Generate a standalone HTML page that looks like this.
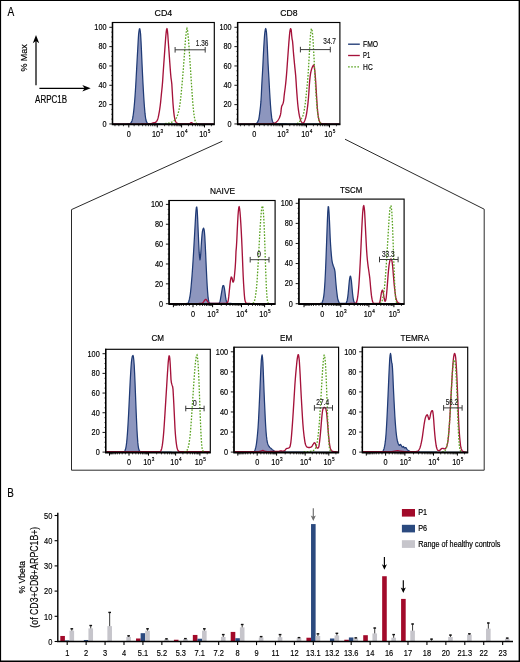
<!DOCTYPE html>
<html><head><meta charset="utf-8"><title>Figure</title>
<style>html,body{margin:0;padding:0;background:#fff}svg{display:block;will-change:transform}text{font-family:"Liberation Sans",sans-serif}</style>
</head><body>
<svg width="520" height="662" viewBox="0 0 520 662">
<rect x="0" y="0" width="520" height="662" fill="#000"/><rect x="1.1" y="1" width="517.5" height="659.5" fill="#fff"/>
<text transform="translate(7.50,16.10) scale(0.79,1)" font-size="12.8" text-anchor="start" fill="#000" stroke="#000" stroke-width="0.18">A</text>
<text transform="translate(7.35,497.30) scale(0.76,1)" font-size="13" text-anchor="start" fill="#000" stroke="#000" stroke-width="0.18">B</text>
<path d="M36,85.2 V40" stroke="#000" stroke-width="1.25" fill="none"/>
<path d="M36,35 L39.2,43.2 L36,41 L32.8,43.2 Z" fill="#000"/>
<path d="M39.4,88.3 H85" stroke="#000" stroke-width="1.25" fill="none"/>
<path d="M90.7,88.3 L82.3,85 L84.6,88.3 L82.3,91.6 Z" fill="#000"/>
<text transform="translate(27.20,57.90) rotate(-90) scale(0.9852,1)" font-size="9.1" text-anchor="middle" fill="#000" stroke="#000" stroke-width="0.18">% Max</text>
<text transform="translate(35.10,102.90) scale(0.7544,1)" font-size="10.6" text-anchor="start" fill="#000" stroke="#000" stroke-width="0.18">ARPC1B</text>
<path d="M222.3,141.2 L71.5,209.6 V470.2 H484.2 V209.2 L345,139.2" fill="none" stroke="#2a2a2a" stroke-width="1"/>
<clipPath id="c1"><rect x="112.5" y="22.5" width="101.80000000000001" height="102.05"/></clipPath>
<g clip-path="url(#c1)">
<path d="M113.00,124.20 L113.40,124.20 L113.80,124.20 L114.20,124.20 L114.60,124.20 L115.00,124.20 L115.40,124.20 L115.80,124.20 L116.20,124.19 L116.60,124.19 L117.00,124.19 L117.40,124.19 L117.80,124.18 L118.20,124.18 L118.60,124.18 L119.00,124.17 L119.40,124.17 L119.80,124.16 L120.20,124.16 L120.60,124.15 L121.00,124.15 L121.40,124.14 L121.80,124.13 L122.20,124.12 L122.60,124.12 L123.00,124.11 L123.40,124.10 L123.80,124.09 L124.20,124.08 L124.60,124.06 L125.00,124.05 L125.40,124.04 L125.80,124.03 L126.20,124.01 L126.60,124.00 L127.00,123.98 L127.40,123.96 L127.80,123.95 L128.20,123.93 L128.60,123.91 L129.00,123.89 L129.40,123.87 L129.80,123.79 L130.20,123.55 L130.60,123.21 L131.00,122.78 L131.40,122.23 L131.80,121.36 L132.20,120.19 L132.60,118.70 L133.00,116.47 L133.40,113.68 L133.80,110.39 L134.20,106.33 L134.60,101.77 L135.00,96.58 L135.40,90.74 L135.80,84.32 L136.20,77.07 L136.60,69.63 L137.00,62.34 L137.40,55.06 L137.80,48.07 L138.20,40.63 L138.60,34.36 L139.00,31.01 L139.40,28.84 L139.80,28.73 L140.20,30.76 L140.60,34.13 L141.00,41.15 L141.40,49.38 L141.80,58.49 L142.20,67.52 L142.60,75.89 L143.00,83.80 L143.40,91.02 L143.80,97.74 L144.20,103.69 L144.60,108.87 L145.00,113.44 L145.40,116.75 L145.80,119.25 L146.20,121.05 L146.60,121.93 L147.00,122.54 L147.40,123.00 L147.80,123.31 L148.20,123.48 L148.60,123.61 L149.00,123.71 L149.40,123.79 L149.80,123.84 L150.20,123.87 L150.60,123.87 L151.00,123.88 L151.40,123.88 L151.80,123.89 L152.20,123.89 L152.60,123.90 L153.00,123.90 L153.40,123.91 L153.80,123.92 L154.20,123.92 L154.60,123.93 L155.00,123.93 L155.40,123.94 L155.80,123.94 L156.20,123.95 L156.60,123.95 L157.00,123.96 L157.40,123.96 L157.80,123.96 L158.20,123.97 L158.60,123.97 L159.00,123.98 L159.40,123.98 L159.80,123.99 L160.20,123.99 L160.60,124.00 L161.00,124.00 L161.40,124.00 L161.80,124.01 L162.20,124.01 L162.60,124.02 L163.00,124.02 L163.40,124.02 L163.80,124.03 L164.20,124.03 L164.60,124.03 L165.00,124.04 L165.40,124.04 L165.80,124.05 L166.20,124.05 L166.60,124.05 L167.00,124.06 L167.40,124.06 L167.80,124.06 L168.20,124.07 L168.60,124.07 L169.00,124.07 L169.40,124.07 L169.80,124.08 L170.20,124.08 L170.60,124.08 L171.00,124.09 L171.40,124.09 L171.80,124.09 L172.20,124.09 L172.60,124.10 L173.00,124.10 L173.40,124.10 L173.80,124.11 L174.20,124.11 L174.60,124.11 L175.00,124.11 L175.40,124.12 L175.80,124.12 L176.20,124.12 L176.60,124.12 L177.00,124.12 L177.40,124.13 L177.80,124.13 L178.20,124.13 L178.60,124.13 L179.00,124.13 L179.40,124.14 L179.80,124.14 L180.20,124.14 L180.60,124.14 L181.00,124.14 L181.40,124.15 L181.80,124.15 L182.20,124.15 L182.60,124.15 L183.00,124.15 L183.40,124.15 L183.80,124.16 L184.20,124.16 L184.60,124.16 L185.00,124.16 L185.40,124.16 L185.80,124.16 L186.20,124.16 L186.60,124.17 L187.00,124.17 L187.40,124.17 L187.80,124.17 L188.20,124.17 L188.60,124.17 L189.00,124.17 L189.40,124.17 L189.80,124.18 L190.20,124.18 L190.60,124.18 L191.00,124.18 L191.40,124.18 L191.80,124.18 L192.20,124.18 L192.60,124.18 L193.00,124.18 L193.40,124.18 L193.80,124.18 L194.20,124.19 L194.60,124.19 L195.00,124.19 L195.40,124.19 L195.80,124.19 L196.20,124.19 L196.60,124.19 L197.00,124.19 L197.40,124.19 L197.80,124.19 L198.20,124.19 L198.60,124.19 L199.00,124.19 L199.40,124.19 L199.80,124.19 L200.20,124.19 L200.60,124.19 L201.00,124.19 L201.40,124.20 L201.80,124.20 L202.20,124.20 L202.60,124.20 L203.00,124.20 L203.40,124.20 L203.80,124.20 L204.20,124.20 L204.60,124.20 L205.00,124.20 L205.40,124.20 L205.80,124.20 L206.20,124.20 L206.60,124.20 L207.00,124.20 L207.40,124.20 L207.80,124.20 L208.20,124.20 L208.60,124.20 L209.00,124.20 L209.40,124.20 L209.80,124.20 L210.20,124.20 L210.60,124.20 L211.00,124.20 L211.40,124.20 L211.80,124.20 L212.20,124.20 L212.60,124.20 L213.00,124.20 L213.40,124.20 L213.80,124.20 L213.80,123.95 L113.00,123.95 Z" fill="#8D96BE" stroke="none"/>
<path d="M113.00,124.20 L113.40,124.20 L113.80,124.20 L114.20,124.20 L114.60,124.20 L115.00,124.20 L115.40,124.20 L115.80,124.20 L116.20,124.19 L116.60,124.19 L117.00,124.19 L117.40,124.19 L117.80,124.18 L118.20,124.18 L118.60,124.18 L119.00,124.17 L119.40,124.17 L119.80,124.16 L120.20,124.16 L120.60,124.15 L121.00,124.15 L121.40,124.14 L121.80,124.13 L122.20,124.12 L122.60,124.12 L123.00,124.11 L123.40,124.10 L123.80,124.09 L124.20,124.08 L124.60,124.06 L125.00,124.05 L125.40,124.04 L125.80,124.03 L126.20,124.01 L126.60,124.00 L127.00,123.98 L127.40,123.96 L127.80,123.95 L128.20,123.93 L128.60,123.91 L129.00,123.89 L129.40,123.87 L129.80,123.79 L130.20,123.55 L130.60,123.21 L131.00,122.78 L131.40,122.23 L131.80,121.36 L132.20,120.19 L132.60,118.70 L133.00,116.47 L133.40,113.68 L133.80,110.39 L134.20,106.33 L134.60,101.77 L135.00,96.58 L135.40,90.74 L135.80,84.32 L136.20,77.07 L136.60,69.63 L137.00,62.34 L137.40,55.06 L137.80,48.07 L138.20,40.63 L138.60,34.36 L139.00,31.01 L139.40,28.84 L139.80,28.73 L140.20,30.76 L140.60,34.13 L141.00,41.15 L141.40,49.38 L141.80,58.49 L142.20,67.52 L142.60,75.89 L143.00,83.80 L143.40,91.02 L143.80,97.74 L144.20,103.69 L144.60,108.87 L145.00,113.44 L145.40,116.75 L145.80,119.25 L146.20,121.05 L146.60,121.93 L147.00,122.54 L147.40,123.00 L147.80,123.31 L148.20,123.48 L148.60,123.61 L149.00,123.71 L149.40,123.79 L149.80,123.84 L150.20,123.87 L150.60,123.87 L151.00,123.88 L151.40,123.88 L151.80,123.89 L152.20,123.89 L152.60,123.90 L153.00,123.90 L153.40,123.91 L153.80,123.92 L154.20,123.92 L154.60,123.93 L155.00,123.93 L155.40,123.94 L155.80,123.94 L156.20,123.95 L156.60,123.95 L157.00,123.96 L157.40,123.96 L157.80,123.96 L158.20,123.97 L158.60,123.97 L159.00,123.98 L159.40,123.98 L159.80,123.99 L160.20,123.99 L160.60,124.00 L161.00,124.00 L161.40,124.00 L161.80,124.01 L162.20,124.01 L162.60,124.02 L163.00,124.02 L163.40,124.02 L163.80,124.03 L164.20,124.03 L164.60,124.03 L165.00,124.04 L165.40,124.04 L165.80,124.05 L166.20,124.05 L166.60,124.05 L167.00,124.06 L167.40,124.06 L167.80,124.06 L168.20,124.07 L168.60,124.07 L169.00,124.07 L169.40,124.07 L169.80,124.08 L170.20,124.08 L170.60,124.08 L171.00,124.09 L171.40,124.09 L171.80,124.09 L172.20,124.09 L172.60,124.10 L173.00,124.10 L173.40,124.10 L173.80,124.11 L174.20,124.11 L174.60,124.11 L175.00,124.11 L175.40,124.12 L175.80,124.12 L176.20,124.12 L176.60,124.12 L177.00,124.12 L177.40,124.13 L177.80,124.13 L178.20,124.13 L178.60,124.13 L179.00,124.13 L179.40,124.14 L179.80,124.14 L180.20,124.14 L180.60,124.14 L181.00,124.14 L181.40,124.15 L181.80,124.15 L182.20,124.15 L182.60,124.15 L183.00,124.15 L183.40,124.15 L183.80,124.16 L184.20,124.16 L184.60,124.16 L185.00,124.16 L185.40,124.16 L185.80,124.16 L186.20,124.16 L186.60,124.17 L187.00,124.17 L187.40,124.17 L187.80,124.17 L188.20,124.17 L188.60,124.17 L189.00,124.17 L189.40,124.17 L189.80,124.18 L190.20,124.18 L190.60,124.18 L191.00,124.18 L191.40,124.18 L191.80,124.18 L192.20,124.18 L192.60,124.18 L193.00,124.18 L193.40,124.18 L193.80,124.18 L194.20,124.19 L194.60,124.19 L195.00,124.19 L195.40,124.19 L195.80,124.19 L196.20,124.19 L196.60,124.19 L197.00,124.19 L197.40,124.19 L197.80,124.19 L198.20,124.19 L198.60,124.19 L199.00,124.19 L199.40,124.19 L199.80,124.19 L200.20,124.19 L200.60,124.19 L201.00,124.19 L201.40,124.20 L201.80,124.20 L202.20,124.20 L202.60,124.20 L203.00,124.20 L203.40,124.20 L203.80,124.20 L204.20,124.20 L204.60,124.20 L205.00,124.20 L205.40,124.20 L205.80,124.20 L206.20,124.20 L206.60,124.20 L207.00,124.20 L207.40,124.20 L207.80,124.20 L208.20,124.20 L208.60,124.20 L209.00,124.20 L209.40,124.20 L209.80,124.20 L210.20,124.20 L210.60,124.20 L211.00,124.20 L211.40,124.20 L211.80,124.20 L212.20,124.20 L212.60,124.20 L213.00,124.20 L213.40,124.20 L213.80,124.20" fill="none" stroke="#1F3A75" stroke-width="1.25" stroke-linejoin="round"/>
<path d="M113.00,124.20 L113.40,124.20 L113.80,124.20 L114.20,124.20 L114.60,124.20 L115.00,124.20 L115.40,124.20 L115.80,124.20 L116.20,124.20 L116.60,124.20 L117.00,124.20 L117.40,124.20 L117.80,124.20 L118.20,124.20 L118.60,124.20 L119.00,124.20 L119.40,124.20 L119.80,124.19 L120.20,124.19 L120.60,124.19 L121.00,124.19 L121.40,124.19 L121.80,124.19 L122.20,124.19 L122.60,124.19 L123.00,124.19 L123.40,124.19 L123.80,124.18 L124.20,124.18 L124.60,124.18 L125.00,124.18 L125.40,124.18 L125.80,124.18 L126.20,124.18 L126.60,124.17 L127.00,124.17 L127.40,124.17 L127.80,124.17 L128.20,124.17 L128.60,124.16 L129.00,124.16 L129.40,124.16 L129.80,124.16 L130.20,124.15 L130.60,124.15 L131.00,124.15 L131.40,124.15 L131.80,124.14 L132.20,124.14 L132.60,124.14 L133.00,124.13 L133.40,124.13 L133.80,124.13 L134.20,124.12 L134.60,124.12 L135.00,124.11 L135.40,124.11 L135.80,124.11 L136.20,124.10 L136.60,124.10 L137.00,124.09 L137.40,124.09 L137.80,124.08 L138.20,124.08 L138.60,124.07 L139.00,124.07 L139.40,124.06 L139.80,124.06 L140.20,124.05 L140.60,124.05 L141.00,124.04 L141.40,124.04 L141.80,124.03 L142.20,124.02 L142.60,124.02 L143.00,124.01 L143.40,124.00 L143.80,124.00 L144.20,123.99 L144.60,123.98 L145.00,123.97 L145.40,123.97 L145.80,123.96 L146.20,123.95 L146.60,123.94 L147.00,123.94 L147.40,123.93 L147.80,123.92 L148.20,123.91 L148.60,123.90 L149.00,123.89 L149.40,123.88 L149.80,123.87 L150.20,123.87 L150.60,123.82 L151.00,123.72 L151.40,123.58 L151.80,123.42 L152.20,123.24 L152.60,123.07 L153.00,122.92 L153.40,122.80 L153.80,122.72 L154.20,122.66 L154.60,122.60 L155.00,122.52 L155.40,122.41 L155.80,122.21 L156.20,121.83 L156.60,121.29 L157.00,120.62 L157.40,119.84 L157.80,118.89 L158.20,117.42 L158.60,115.55 L159.00,113.48 L159.40,111.26 L159.80,108.69 L160.20,105.77 L160.60,102.36 L161.00,98.26 L161.40,94.08 L161.80,90.27 L162.20,86.39 L162.60,81.66 L163.00,75.53 L163.40,69.44 L163.80,63.81 L164.20,58.27 L164.60,52.61 L165.00,46.84 L165.40,41.44 L165.80,36.36 L166.20,32.15 L166.60,29.43 L167.00,28.57 L167.40,30.63 L167.80,34.56 L168.20,40.46 L168.60,45.93 L169.00,51.46 L169.40,57.11 L169.80,62.78 L170.20,68.19 L170.60,73.51 L171.00,77.79 L171.40,80.51 L171.80,83.80 L172.20,90.45 L172.60,97.20 L173.00,103.48 L173.40,108.40 L173.80,112.42 L174.20,115.59 L174.60,117.88 L175.00,119.81 L175.40,121.18 L175.80,121.87 L176.20,122.39 L176.60,122.81 L177.00,123.13 L177.40,123.34 L177.80,123.47 L178.20,123.56 L178.60,123.64 L179.00,123.71 L179.40,123.77 L179.80,123.81 L180.20,123.84 L180.60,123.86 L181.00,123.87 L181.40,123.87 L181.80,123.87 L182.20,123.87 L182.60,123.87 L183.00,123.87 L183.40,123.87 L183.80,123.87 L184.20,123.87 L184.60,123.87 L185.00,123.87 L185.40,123.87 L185.80,123.87 L186.20,123.87 L186.60,123.87 L187.00,123.87 L187.40,123.87 L187.80,123.87 L188.20,123.87 L188.60,123.87 L189.00,123.87 L189.40,123.86 L189.80,123.70 L190.20,123.40 L190.60,123.04 L191.00,122.74 L191.40,122.60 L191.80,122.69 L192.20,122.96 L192.60,123.31 L193.00,123.63 L193.40,123.84 L193.80,123.88 L194.20,123.89 L194.60,123.91 L195.00,123.92 L195.40,123.94 L195.80,123.95 L196.20,123.97 L196.60,123.98 L197.00,123.99 L197.40,124.01 L197.80,124.02 L198.20,124.03 L198.60,124.04 L199.00,124.05 L199.40,124.06 L199.80,124.07 L200.20,124.08 L200.60,124.09 L201.00,124.10 L201.40,124.10 L201.80,124.11 L202.20,124.12 L202.60,124.13 L203.00,124.13 L203.40,124.14 L203.80,124.14 L204.20,124.15 L204.60,124.15 L205.00,124.16 L205.40,124.16 L205.80,124.17 L206.20,124.17 L206.60,124.17 L207.00,124.18 L207.40,124.18 L207.80,124.18 L208.20,124.19 L208.60,124.19 L209.00,124.19 L209.40,124.19 L209.80,124.19 L210.20,124.19 L210.60,124.20 L211.00,124.20 L211.40,124.20 L211.80,124.20 L212.20,124.20 L212.60,124.20 L213.00,124.20 L213.40,124.20 L213.80,124.20" fill="none" stroke="#A5123A" stroke-width="1.35" stroke-linejoin="round"/>
<path d="M165.00,123.61 L165.40,123.57 L165.80,123.52 L166.20,123.48 L166.60,123.42 L167.00,123.37 L167.40,123.31 L167.80,123.25 L168.20,123.19 L168.60,123.13 L169.00,123.06 L169.40,122.99 L169.80,122.89 L170.20,122.78 L170.60,122.64 L171.00,122.48 L171.40,122.30 L171.80,122.11 L172.20,121.89 L172.60,121.66 L173.00,121.42 L173.40,121.16 L173.80,120.87 L174.20,120.53 L174.60,120.15 L175.00,119.70 L175.40,119.21 L175.80,118.65 L176.20,118.04 L176.60,117.37 L177.00,116.58 L177.40,115.59 L177.80,114.42 L178.20,113.08 L178.60,111.57 L179.00,109.83 L179.40,107.66 L179.80,105.09 L180.20,102.23 L180.60,99.11 L181.00,95.40 L181.40,91.25 L181.80,86.91 L182.20,82.53 L182.60,77.94 L183.00,73.14 L183.40,68.13 L183.80,62.81 L184.20,57.37 L184.60,51.94 L185.00,46.08 L185.40,40.53 L185.80,36.30 L186.20,32.65 L186.60,29.69 L187.00,28.46 L187.40,29.66 L187.80,32.61 L188.20,36.29 L188.60,40.76 L189.00,46.74 L189.40,52.79 L189.80,58.73 L190.20,64.78 L190.60,70.83 L191.00,76.90 L191.40,82.99 L191.80,88.88 L192.20,94.61 L192.60,100.26 L193.00,105.28 L193.40,109.40 L193.80,113.08 L194.20,116.10 L194.60,118.32 L195.00,120.19 L195.40,121.60 L195.80,122.35 L196.20,122.85 L196.60,123.26 L197.00,123.58" fill="none" stroke="#58A21F" stroke-width="1.3" stroke-dasharray="1.6,1.5"/>
</g>
<rect x="112.5" y="22.5" width="101.80000000000001" height="101.45" fill="none" stroke="#000" stroke-width="1.15"/>
<path d="M112.5,22.0 V124.55 H214.8" fill="none" stroke="#000" stroke-width="1.4"/>
<line x1="109.3" x2="112.5" y1="123.95" y2="123.95" stroke="#000" stroke-width="0.9"/>
<text transform="translate(106.50,126.80) scale(0.86,1)" font-size="8.5" text-anchor="end" fill="#000" stroke="#000" stroke-width="0.18">0</text>
<line x1="111.0" x2="112.5" y1="119.12" y2="119.12" stroke="#000" stroke-width="0.5"/>
<line x1="111.0" x2="112.5" y1="114.28" y2="114.28" stroke="#000" stroke-width="0.5"/>
<line x1="111.0" x2="112.5" y1="109.45" y2="109.45" stroke="#000" stroke-width="0.5"/>
<line x1="109.3" x2="112.5" y1="104.62" y2="104.62" stroke="#000" stroke-width="0.9"/>
<text transform="translate(106.50,107.47) scale(0.86,1)" font-size="8.5" text-anchor="end" fill="#000" stroke="#000" stroke-width="0.18">20</text>
<line x1="111.0" x2="112.5" y1="99.79" y2="99.79" stroke="#000" stroke-width="0.5"/>
<line x1="111.0" x2="112.5" y1="94.95" y2="94.95" stroke="#000" stroke-width="0.5"/>
<line x1="111.0" x2="112.5" y1="90.12" y2="90.12" stroke="#000" stroke-width="0.5"/>
<line x1="109.3" x2="112.5" y1="85.29" y2="85.29" stroke="#000" stroke-width="0.9"/>
<text transform="translate(106.50,88.14) scale(0.86,1)" font-size="8.5" text-anchor="end" fill="#000" stroke="#000" stroke-width="0.18">40</text>
<line x1="111.0" x2="112.5" y1="80.46" y2="80.46" stroke="#000" stroke-width="0.5"/>
<line x1="111.0" x2="112.5" y1="75.62" y2="75.62" stroke="#000" stroke-width="0.5"/>
<line x1="111.0" x2="112.5" y1="70.79" y2="70.79" stroke="#000" stroke-width="0.5"/>
<line x1="109.3" x2="112.5" y1="65.96" y2="65.96" stroke="#000" stroke-width="0.9"/>
<text transform="translate(106.50,68.81) scale(0.86,1)" font-size="8.5" text-anchor="end" fill="#000" stroke="#000" stroke-width="0.18">60</text>
<line x1="111.0" x2="112.5" y1="61.13" y2="61.13" stroke="#000" stroke-width="0.5"/>
<line x1="111.0" x2="112.5" y1="56.30" y2="56.30" stroke="#000" stroke-width="0.5"/>
<line x1="111.0" x2="112.5" y1="51.46" y2="51.46" stroke="#000" stroke-width="0.5"/>
<line x1="109.3" x2="112.5" y1="46.63" y2="46.63" stroke="#000" stroke-width="0.9"/>
<text transform="translate(106.50,49.48) scale(0.86,1)" font-size="8.5" text-anchor="end" fill="#000" stroke="#000" stroke-width="0.18">80</text>
<line x1="111.0" x2="112.5" y1="41.80" y2="41.80" stroke="#000" stroke-width="0.5"/>
<line x1="111.0" x2="112.5" y1="36.97" y2="36.97" stroke="#000" stroke-width="0.5"/>
<line x1="111.0" x2="112.5" y1="32.13" y2="32.13" stroke="#000" stroke-width="0.5"/>
<line x1="109.3" x2="112.5" y1="27.30" y2="27.30" stroke="#000" stroke-width="0.9"/>
<text transform="translate(106.50,30.15) scale(0.86,1)" font-size="8.5" text-anchor="end" fill="#000" stroke="#000" stroke-width="0.18">100</text>
<line x1="128.80" x2="128.80" y1="123.95" y2="127.45" stroke="#000" stroke-width="1.0"/>
<line x1="157.30" x2="157.30" y1="123.95" y2="127.45" stroke="#000" stroke-width="1.0"/>
<line x1="181.60" x2="181.60" y1="123.95" y2="127.45" stroke="#000" stroke-width="1.0"/>
<line x1="204.50" x2="204.50" y1="123.95" y2="127.45" stroke="#000" stroke-width="1.0"/>
<line x1="134.11" x2="134.11" y1="123.95" y2="126.25" stroke="#000" stroke-width="0.75"/>
<line x1="123.49" x2="123.49" y1="123.95" y2="126.25" stroke="#000" stroke-width="0.75"/>
<line x1="138.77" x2="138.77" y1="123.95" y2="126.25" stroke="#000" stroke-width="0.75"/>
<line x1="118.83" x2="118.83" y1="123.95" y2="126.25" stroke="#000" stroke-width="0.75"/>
<line x1="142.62" x2="142.62" y1="123.95" y2="126.25" stroke="#000" stroke-width="0.75"/>
<line x1="114.98" x2="114.98" y1="123.95" y2="126.25" stroke="#000" stroke-width="0.75"/>
<line x1="145.79" x2="145.79" y1="123.95" y2="126.25" stroke="#000" stroke-width="0.75"/>
<line x1="148.44" x2="148.44" y1="123.95" y2="126.25" stroke="#000" stroke-width="0.75"/>
<line x1="150.70" x2="150.70" y1="123.95" y2="126.25" stroke="#000" stroke-width="0.75"/>
<line x1="152.65" x2="152.65" y1="123.95" y2="126.25" stroke="#000" stroke-width="0.75"/>
<line x1="154.38" x2="154.38" y1="123.95" y2="126.25" stroke="#000" stroke-width="0.75"/>
<line x1="155.91" x2="155.91" y1="123.95" y2="126.25" stroke="#000" stroke-width="0.75"/>
<line x1="164.62" x2="164.62" y1="123.95" y2="126.25" stroke="#000" stroke-width="0.75"/>
<line x1="188.49" x2="188.49" y1="123.95" y2="126.25" stroke="#000" stroke-width="0.75"/>
<line x1="211.39" x2="211.39" y1="123.95" y2="126.25" stroke="#000" stroke-width="0.75"/>
<line x1="168.89" x2="168.89" y1="123.95" y2="126.25" stroke="#000" stroke-width="0.75"/>
<line x1="192.53" x2="192.53" y1="123.95" y2="126.25" stroke="#000" stroke-width="0.75"/>
<line x1="171.93" x2="171.93" y1="123.95" y2="126.25" stroke="#000" stroke-width="0.75"/>
<line x1="195.39" x2="195.39" y1="123.95" y2="126.25" stroke="#000" stroke-width="0.75"/>
<line x1="174.28" x2="174.28" y1="123.95" y2="126.25" stroke="#000" stroke-width="0.75"/>
<line x1="197.61" x2="197.61" y1="123.95" y2="126.25" stroke="#000" stroke-width="0.75"/>
<line x1="176.21" x2="176.21" y1="123.95" y2="126.25" stroke="#000" stroke-width="0.75"/>
<line x1="199.42" x2="199.42" y1="123.95" y2="126.25" stroke="#000" stroke-width="0.75"/>
<line x1="177.84" x2="177.84" y1="123.95" y2="126.25" stroke="#000" stroke-width="0.75"/>
<line x1="200.95" x2="200.95" y1="123.95" y2="126.25" stroke="#000" stroke-width="0.75"/>
<line x1="179.25" x2="179.25" y1="123.95" y2="126.25" stroke="#000" stroke-width="0.75"/>
<line x1="202.28" x2="202.28" y1="123.95" y2="126.25" stroke="#000" stroke-width="0.75"/>
<line x1="180.49" x2="180.49" y1="123.95" y2="126.25" stroke="#000" stroke-width="0.75"/>
<line x1="203.45" x2="203.45" y1="123.95" y2="126.25" stroke="#000" stroke-width="0.75"/>
<text transform="translate(128.80,136.75) scale(0.86,1)" font-size="8.5" text-anchor="middle" fill="#000" stroke="#000" stroke-width="0.18">0</text>
<text transform="translate(156.10,136.75) scale(0.86,1)" font-size="8.5" text-anchor="middle" fill="#000" stroke="#000" stroke-width="0.18">10</text>
<text transform="translate(160.60,133.15) scale(0.9,1)" font-size="5.2" text-anchor="start" fill="#000" stroke="#000" stroke-width="0.18">3</text>
<text transform="translate(180.40,136.75) scale(0.86,1)" font-size="8.5" text-anchor="middle" fill="#000" stroke="#000" stroke-width="0.18">10</text>
<text transform="translate(184.90,133.15) scale(0.9,1)" font-size="5.2" text-anchor="start" fill="#000" stroke="#000" stroke-width="0.18">4</text>
<text transform="translate(203.30,136.75) scale(0.86,1)" font-size="8.5" text-anchor="middle" fill="#000" stroke="#000" stroke-width="0.18">10</text>
<text transform="translate(207.80,133.15) scale(0.9,1)" font-size="5.2" text-anchor="start" fill="#000" stroke="#000" stroke-width="0.18">5</text>
<text transform="translate(163.35,16.10) scale(0.9216,1)" font-size="9.6" text-anchor="middle" fill="#000" stroke="#000" stroke-width="0.18">CD4</text>
<path d="M175.1,49.8 H205.2 M175.1,47.0 V52.599999999999994 M205.2,47.0 V52.599999999999994" stroke="#3a3a3a" stroke-width="1" fill="none"/>
<text transform="translate(202.15,45.70) scale(0.7862,1)" font-size="8.3" text-anchor="middle" fill="#222" stroke="#222" stroke-width="0.18">1.36</text>
<clipPath id="c2"><rect x="237.6" y="22.5" width="102.29999999999998" height="102.05"/></clipPath>
<g clip-path="url(#c2)">
<path d="M238.10,124.20 L238.50,124.20 L238.90,124.20 L239.30,124.20 L239.70,124.20 L240.10,124.20 L240.50,124.20 L240.90,124.20 L241.30,124.19 L241.70,124.19 L242.10,124.19 L242.50,124.19 L242.90,124.18 L243.30,124.18 L243.70,124.18 L244.10,124.17 L244.50,124.17 L244.90,124.16 L245.30,124.16 L245.70,124.15 L246.10,124.15 L246.50,124.14 L246.90,124.13 L247.30,124.13 L247.70,124.12 L248.10,124.11 L248.50,124.10 L248.90,124.09 L249.30,124.08 L249.70,124.07 L250.10,124.06 L250.50,124.05 L250.90,124.04 L251.30,124.02 L251.70,124.01 L252.10,124.00 L252.50,123.98 L252.90,123.96 L253.30,123.95 L253.70,123.93 L254.10,123.91 L254.50,123.89 L254.90,123.88 L255.30,123.84 L255.70,123.72 L256.10,123.51 L256.50,123.23 L256.90,122.89 L257.30,122.50 L257.70,121.93 L258.10,121.10 L258.50,120.03 L258.90,118.57 L259.30,116.14 L259.70,113.08 L260.10,109.84 L260.50,106.30 L260.90,101.93 L261.30,95.50 L261.70,86.80 L262.10,79.27 L262.50,72.44 L262.90,64.96 L263.30,56.53 L263.70,48.68 L264.10,42.00 L264.50,36.04 L264.90,32.16 L265.30,29.54 L265.70,28.47 L266.10,29.78 L266.50,32.54 L266.90,37.99 L267.30,46.16 L267.70,55.34 L268.10,64.26 L268.50,71.25 L268.90,78.08 L269.30,85.50 L269.70,92.78 L270.10,99.25 L270.50,105.31 L270.90,110.33 L271.30,114.25 L271.70,117.67 L272.10,120.03 L272.50,121.16 L272.90,122.02 L273.30,122.69 L273.70,123.16 L274.10,123.43 L274.50,123.56 L274.90,123.68 L275.30,123.77 L275.70,123.83 L276.10,123.86 L276.50,123.87 L276.90,123.87 L277.30,123.88 L277.70,123.89 L278.10,123.89 L278.50,123.90 L278.90,123.90 L279.30,123.91 L279.70,123.91 L280.10,123.92 L280.50,123.92 L280.90,123.93 L281.30,123.93 L281.70,123.94 L282.10,123.94 L282.50,123.95 L282.90,123.95 L283.30,123.96 L283.70,123.96 L284.10,123.97 L284.50,123.97 L284.90,123.98 L285.30,123.98 L285.70,123.99 L286.10,123.99 L286.50,123.99 L286.90,124.00 L287.30,124.00 L287.70,124.01 L288.10,124.01 L288.50,124.01 L288.90,124.02 L289.30,124.02 L289.70,124.03 L290.10,124.03 L290.50,124.03 L290.90,124.04 L291.30,124.04 L291.70,124.04 L292.10,124.05 L292.50,124.05 L292.90,124.06 L293.30,124.06 L293.70,124.06 L294.10,124.07 L294.50,124.07 L294.90,124.07 L295.30,124.07 L295.70,124.08 L296.10,124.08 L296.50,124.08 L296.90,124.09 L297.30,124.09 L297.70,124.09 L298.10,124.09 L298.50,124.10 L298.90,124.10 L299.30,124.10 L299.70,124.11 L300.10,124.11 L300.50,124.11 L300.90,124.11 L301.30,124.12 L301.70,124.12 L302.10,124.12 L302.50,124.12 L302.90,124.12 L303.30,124.13 L303.70,124.13 L304.10,124.13 L304.50,124.13 L304.90,124.13 L305.30,124.14 L305.70,124.14 L306.10,124.14 L306.50,124.14 L306.90,124.14 L307.30,124.15 L307.70,124.15 L308.10,124.15 L308.50,124.15 L308.90,124.15 L309.30,124.15 L309.70,124.16 L310.10,124.16 L310.50,124.16 L310.90,124.16 L311.30,124.16 L311.70,124.16 L312.10,124.16 L312.50,124.17 L312.90,124.17 L313.30,124.17 L313.70,124.17 L314.10,124.17 L314.50,124.17 L314.90,124.17 L315.30,124.17 L315.70,124.18 L316.10,124.18 L316.50,124.18 L316.90,124.18 L317.30,124.18 L317.70,124.18 L318.10,124.18 L318.50,124.18 L318.90,124.18 L319.30,124.18 L319.70,124.18 L320.10,124.19 L320.50,124.19 L320.90,124.19 L321.30,124.19 L321.70,124.19 L322.10,124.19 L322.50,124.19 L322.90,124.19 L323.30,124.19 L323.70,124.19 L324.10,124.19 L324.50,124.19 L324.90,124.19 L325.30,124.19 L325.70,124.19 L326.10,124.19 L326.50,124.19 L326.90,124.19 L327.30,124.20 L327.70,124.20 L328.10,124.20 L328.50,124.20 L328.90,124.20 L329.30,124.20 L329.70,124.20 L330.10,124.20 L330.50,124.20 L330.90,124.20 L331.30,124.20 L331.70,124.20 L332.10,124.20 L332.50,124.20 L332.90,124.20 L333.30,124.20 L333.70,124.20 L334.10,124.20 L334.50,124.20 L334.90,124.20 L335.30,124.20 L335.70,124.20 L336.10,124.20 L336.50,124.20 L336.90,124.20 L337.30,124.20 L337.70,124.20 L338.10,124.20 L338.50,124.20 L338.90,124.20 L339.30,124.20 L339.30,123.95 L238.10,123.95 Z" fill="#8D96BE" stroke="none"/>
<path d="M238.10,124.20 L238.50,124.20 L238.90,124.20 L239.30,124.20 L239.70,124.20 L240.10,124.20 L240.50,124.20 L240.90,124.20 L241.30,124.19 L241.70,124.19 L242.10,124.19 L242.50,124.19 L242.90,124.18 L243.30,124.18 L243.70,124.18 L244.10,124.17 L244.50,124.17 L244.90,124.16 L245.30,124.16 L245.70,124.15 L246.10,124.15 L246.50,124.14 L246.90,124.13 L247.30,124.13 L247.70,124.12 L248.10,124.11 L248.50,124.10 L248.90,124.09 L249.30,124.08 L249.70,124.07 L250.10,124.06 L250.50,124.05 L250.90,124.04 L251.30,124.02 L251.70,124.01 L252.10,124.00 L252.50,123.98 L252.90,123.96 L253.30,123.95 L253.70,123.93 L254.10,123.91 L254.50,123.89 L254.90,123.88 L255.30,123.84 L255.70,123.72 L256.10,123.51 L256.50,123.23 L256.90,122.89 L257.30,122.50 L257.70,121.93 L258.10,121.10 L258.50,120.03 L258.90,118.57 L259.30,116.14 L259.70,113.08 L260.10,109.84 L260.50,106.30 L260.90,101.93 L261.30,95.50 L261.70,86.80 L262.10,79.27 L262.50,72.44 L262.90,64.96 L263.30,56.53 L263.70,48.68 L264.10,42.00 L264.50,36.04 L264.90,32.16 L265.30,29.54 L265.70,28.47 L266.10,29.78 L266.50,32.54 L266.90,37.99 L267.30,46.16 L267.70,55.34 L268.10,64.26 L268.50,71.25 L268.90,78.08 L269.30,85.50 L269.70,92.78 L270.10,99.25 L270.50,105.31 L270.90,110.33 L271.30,114.25 L271.70,117.67 L272.10,120.03 L272.50,121.16 L272.90,122.02 L273.30,122.69 L273.70,123.16 L274.10,123.43 L274.50,123.56 L274.90,123.68 L275.30,123.77 L275.70,123.83 L276.10,123.86 L276.50,123.87 L276.90,123.87 L277.30,123.88 L277.70,123.89 L278.10,123.89 L278.50,123.90 L278.90,123.90 L279.30,123.91 L279.70,123.91 L280.10,123.92 L280.50,123.92 L280.90,123.93 L281.30,123.93 L281.70,123.94 L282.10,123.94 L282.50,123.95 L282.90,123.95 L283.30,123.96 L283.70,123.96 L284.10,123.97 L284.50,123.97 L284.90,123.98 L285.30,123.98 L285.70,123.99 L286.10,123.99 L286.50,123.99 L286.90,124.00 L287.30,124.00 L287.70,124.01 L288.10,124.01 L288.50,124.01 L288.90,124.02 L289.30,124.02 L289.70,124.03 L290.10,124.03 L290.50,124.03 L290.90,124.04 L291.30,124.04 L291.70,124.04 L292.10,124.05 L292.50,124.05 L292.90,124.06 L293.30,124.06 L293.70,124.06 L294.10,124.07 L294.50,124.07 L294.90,124.07 L295.30,124.07 L295.70,124.08 L296.10,124.08 L296.50,124.08 L296.90,124.09 L297.30,124.09 L297.70,124.09 L298.10,124.09 L298.50,124.10 L298.90,124.10 L299.30,124.10 L299.70,124.11 L300.10,124.11 L300.50,124.11 L300.90,124.11 L301.30,124.12 L301.70,124.12 L302.10,124.12 L302.50,124.12 L302.90,124.12 L303.30,124.13 L303.70,124.13 L304.10,124.13 L304.50,124.13 L304.90,124.13 L305.30,124.14 L305.70,124.14 L306.10,124.14 L306.50,124.14 L306.90,124.14 L307.30,124.15 L307.70,124.15 L308.10,124.15 L308.50,124.15 L308.90,124.15 L309.30,124.15 L309.70,124.16 L310.10,124.16 L310.50,124.16 L310.90,124.16 L311.30,124.16 L311.70,124.16 L312.10,124.16 L312.50,124.17 L312.90,124.17 L313.30,124.17 L313.70,124.17 L314.10,124.17 L314.50,124.17 L314.90,124.17 L315.30,124.17 L315.70,124.18 L316.10,124.18 L316.50,124.18 L316.90,124.18 L317.30,124.18 L317.70,124.18 L318.10,124.18 L318.50,124.18 L318.90,124.18 L319.30,124.18 L319.70,124.18 L320.10,124.19 L320.50,124.19 L320.90,124.19 L321.30,124.19 L321.70,124.19 L322.10,124.19 L322.50,124.19 L322.90,124.19 L323.30,124.19 L323.70,124.19 L324.10,124.19 L324.50,124.19 L324.90,124.19 L325.30,124.19 L325.70,124.19 L326.10,124.19 L326.50,124.19 L326.90,124.19 L327.30,124.20 L327.70,124.20 L328.10,124.20 L328.50,124.20 L328.90,124.20 L329.30,124.20 L329.70,124.20 L330.10,124.20 L330.50,124.20 L330.90,124.20 L331.30,124.20 L331.70,124.20 L332.10,124.20 L332.50,124.20 L332.90,124.20 L333.30,124.20 L333.70,124.20 L334.10,124.20 L334.50,124.20 L334.90,124.20 L335.30,124.20 L335.70,124.20 L336.10,124.20 L336.50,124.20 L336.90,124.20 L337.30,124.20 L337.70,124.20 L338.10,124.20 L338.50,124.20 L338.90,124.20 L339.30,124.20" fill="none" stroke="#1F3A75" stroke-width="1.25" stroke-linejoin="round"/>
<path d="M238.10,124.20 L238.50,124.20 L238.90,124.20 L239.30,124.20 L239.70,124.20 L240.10,124.20 L240.50,124.20 L240.90,124.20 L241.30,124.20 L241.70,124.20 L242.10,124.19 L242.50,124.19 L242.90,124.19 L243.30,124.19 L243.70,124.19 L244.10,124.19 L244.50,124.18 L244.90,124.18 L245.30,124.18 L245.70,124.18 L246.10,124.18 L246.50,124.17 L246.90,124.17 L247.30,124.17 L247.70,124.16 L248.10,124.16 L248.50,124.16 L248.90,124.15 L249.30,124.15 L249.70,124.15 L250.10,124.14 L250.50,124.14 L250.90,124.14 L251.30,124.13 L251.70,124.13 L252.10,124.12 L252.50,124.12 L252.90,124.11 L253.30,124.11 L253.70,124.10 L254.10,124.10 L254.50,124.09 L254.90,124.09 L255.30,124.08 L255.70,124.08 L256.10,124.07 L256.50,124.07 L256.90,124.06 L257.30,124.05 L257.70,124.05 L258.10,124.04 L258.50,124.03 L258.90,124.03 L259.30,124.02 L259.70,124.01 L260.10,124.01 L260.50,124.00 L260.90,123.99 L261.30,123.98 L261.70,123.98 L262.10,123.97 L262.50,123.96 L262.90,123.95 L263.30,123.94 L263.70,123.93 L264.10,123.93 L264.50,123.92 L264.90,123.91 L265.30,123.90 L265.70,123.89 L266.10,123.88 L266.50,123.87 L266.90,123.86 L267.30,123.85 L267.70,123.84 L268.10,123.82 L268.50,123.80 L268.90,123.78 L269.30,123.76 L269.70,123.74 L270.10,123.71 L270.50,123.68 L270.90,123.64 L271.30,123.61 L271.70,123.56 L272.10,123.52 L272.50,123.47 L272.90,123.42 L273.30,123.36 L273.70,123.30 L274.10,123.24 L274.50,123.14 L274.90,122.98 L275.30,122.77 L275.70,122.50 L276.10,122.20 L276.50,121.87 L276.90,121.50 L277.30,121.12 L277.70,120.68 L278.10,120.14 L278.50,119.51 L278.90,118.79 L279.30,117.99 L279.70,117.12 L280.10,116.09 L280.50,114.74 L280.90,112.43 L281.30,108.34 L281.70,106.22 L282.10,105.36 L282.50,104.62 L282.90,103.71 L283.30,102.62 L283.70,100.31 L284.10,96.22 L284.50,92.83 L284.90,90.02 L285.30,87.02 L285.70,83.44 L286.10,79.41 L286.50,74.93 L286.90,69.78 L287.30,64.17 L287.70,58.49 L288.10,53.01 L288.50,47.43 L288.90,42.09 L289.30,37.34 L289.70,32.85 L290.10,30.09 L290.50,28.60 L290.90,28.93 L291.30,30.76 L291.70,35.75 L292.10,39.07 L292.50,40.90 L292.90,45.09 L293.30,50.69 L293.70,55.32 L294.10,59.67 L294.50,63.88 L294.90,67.91 L295.30,71.67 L295.70,75.92 L296.10,81.58 L296.50,88.00 L296.90,93.65 L297.30,98.81 L297.70,103.49 L298.10,107.24 L298.50,110.34 L298.90,113.02 L299.30,115.24 L299.70,117.01 L300.10,118.57 L300.50,119.92 L300.90,120.97 L301.30,121.66 L301.70,122.19 L302.10,122.65 L302.50,123.00 L302.90,123.20 L303.30,123.18 L303.70,122.77 L304.10,122.06 L304.50,121.18 L304.90,120.26 L305.30,119.13 L305.70,117.72 L306.10,116.05 L306.50,114.11 L306.90,111.65 L307.30,108.76 L307.70,105.55 L308.10,101.84 L308.50,97.52 L308.90,92.06 L309.30,85.64 L309.70,80.67 L310.10,76.61 L310.50,73.81 L310.90,71.80 L311.30,70.22 L311.70,68.85 L312.10,67.70 L312.50,66.81 L312.90,65.99 L313.30,65.32 L313.70,65.06 L314.10,66.15 L314.50,68.42 L314.90,71.60 L315.30,76.09 L315.70,81.61 L316.10,88.36 L316.50,94.94 L316.90,101.56 L317.30,107.60 L317.70,111.80 L318.10,115.17 L318.50,117.77 L318.90,119.47 L319.30,120.75 L319.70,121.76 L320.10,122.44 L320.50,122.81 L320.90,123.11 L321.30,123.37 L321.70,123.58 L322.10,123.74 L322.50,123.83 L322.90,123.87 L323.30,123.89 L323.70,123.91 L324.10,123.93 L324.50,123.94 L324.90,123.96 L325.30,123.98 L325.70,123.99 L326.10,124.01 L326.50,124.02 L326.90,124.03 L327.30,124.05 L327.70,124.06 L328.10,124.07 L328.50,124.08 L328.90,124.09 L329.30,124.10 L329.70,124.11 L330.10,124.12 L330.50,124.13 L330.90,124.13 L331.30,124.14 L331.70,124.15 L332.10,124.15 L332.50,124.16 L332.90,124.16 L333.30,124.17 L333.70,124.17 L334.10,124.18 L334.50,124.18 L334.90,124.18 L335.30,124.19 L335.70,124.19 L336.10,124.19 L336.50,124.19 L336.90,124.20 L337.30,124.20 L337.70,124.20 L338.10,124.20 L338.50,124.20 L338.90,124.20 L339.30,124.20" fill="none" stroke="#A5123A" stroke-width="1.35" stroke-linejoin="round"/>
<path d="M296.90,123.54 L297.30,123.38 L297.70,123.20 L298.10,123.00 L298.50,122.79 L298.90,122.48 L299.30,122.04 L299.70,121.50 L300.10,120.89 L300.50,120.24 L300.90,119.58 L301.30,118.94 L301.70,118.29 L302.10,117.57 L302.50,116.75 L302.90,115.79 L303.30,114.60 L303.70,112.97 L304.10,110.95 L304.50,108.64 L304.90,106.12 L305.30,103.10 L305.70,99.59 L306.10,95.83 L306.50,92.03 L306.90,88.16 L307.30,84.05 L307.70,79.54 L308.10,74.45 L308.50,68.26 L308.90,61.36 L309.30,54.41 L309.70,47.58 L310.10,40.38 L310.50,34.98 L310.90,31.57 L311.30,29.07 L311.70,28.59 L312.10,30.44 L312.50,33.63 L312.90,37.90 L313.30,44.57 L313.70,51.86 L314.10,59.34 L314.50,67.29 L314.90,74.95 L315.30,82.12 L315.70,89.17 L316.10,95.65 L316.50,101.10 L316.90,105.89 L317.30,110.19 L317.70,113.69 L318.10,116.22 L318.50,118.37 L318.90,120.19 L319.30,121.53 L319.70,122.29 L320.10,122.79 L320.50,123.21 L320.90,123.54" fill="none" stroke="#58A21F" stroke-width="1.3" stroke-dasharray="1.6,1.5"/>
</g>
<rect x="237.6" y="22.5" width="102.29999999999998" height="101.45" fill="none" stroke="#000" stroke-width="1.15"/>
<path d="M237.6,22.0 V124.55 H340.4" fill="none" stroke="#000" stroke-width="1.4"/>
<line x1="234.4" x2="237.6" y1="123.95" y2="123.95" stroke="#000" stroke-width="0.9"/>
<text transform="translate(231.60,126.80) scale(0.86,1)" font-size="8.5" text-anchor="end" fill="#000" stroke="#000" stroke-width="0.18">0</text>
<line x1="236.1" x2="237.6" y1="119.12" y2="119.12" stroke="#000" stroke-width="0.5"/>
<line x1="236.1" x2="237.6" y1="114.28" y2="114.28" stroke="#000" stroke-width="0.5"/>
<line x1="236.1" x2="237.6" y1="109.45" y2="109.45" stroke="#000" stroke-width="0.5"/>
<line x1="234.4" x2="237.6" y1="104.62" y2="104.62" stroke="#000" stroke-width="0.9"/>
<text transform="translate(231.60,107.47) scale(0.86,1)" font-size="8.5" text-anchor="end" fill="#000" stroke="#000" stroke-width="0.18">20</text>
<line x1="236.1" x2="237.6" y1="99.79" y2="99.79" stroke="#000" stroke-width="0.5"/>
<line x1="236.1" x2="237.6" y1="94.95" y2="94.95" stroke="#000" stroke-width="0.5"/>
<line x1="236.1" x2="237.6" y1="90.12" y2="90.12" stroke="#000" stroke-width="0.5"/>
<line x1="234.4" x2="237.6" y1="85.29" y2="85.29" stroke="#000" stroke-width="0.9"/>
<text transform="translate(231.60,88.14) scale(0.86,1)" font-size="8.5" text-anchor="end" fill="#000" stroke="#000" stroke-width="0.18">40</text>
<line x1="236.1" x2="237.6" y1="80.46" y2="80.46" stroke="#000" stroke-width="0.5"/>
<line x1="236.1" x2="237.6" y1="75.62" y2="75.62" stroke="#000" stroke-width="0.5"/>
<line x1="236.1" x2="237.6" y1="70.79" y2="70.79" stroke="#000" stroke-width="0.5"/>
<line x1="234.4" x2="237.6" y1="65.96" y2="65.96" stroke="#000" stroke-width="0.9"/>
<text transform="translate(231.60,68.81) scale(0.86,1)" font-size="8.5" text-anchor="end" fill="#000" stroke="#000" stroke-width="0.18">60</text>
<line x1="236.1" x2="237.6" y1="61.13" y2="61.13" stroke="#000" stroke-width="0.5"/>
<line x1="236.1" x2="237.6" y1="56.30" y2="56.30" stroke="#000" stroke-width="0.5"/>
<line x1="236.1" x2="237.6" y1="51.46" y2="51.46" stroke="#000" stroke-width="0.5"/>
<line x1="234.4" x2="237.6" y1="46.63" y2="46.63" stroke="#000" stroke-width="0.9"/>
<text transform="translate(231.60,49.48) scale(0.86,1)" font-size="8.5" text-anchor="end" fill="#000" stroke="#000" stroke-width="0.18">80</text>
<line x1="236.1" x2="237.6" y1="41.80" y2="41.80" stroke="#000" stroke-width="0.5"/>
<line x1="236.1" x2="237.6" y1="36.97" y2="36.97" stroke="#000" stroke-width="0.5"/>
<line x1="236.1" x2="237.6" y1="32.13" y2="32.13" stroke="#000" stroke-width="0.5"/>
<line x1="234.4" x2="237.6" y1="27.30" y2="27.30" stroke="#000" stroke-width="0.9"/>
<text transform="translate(231.60,30.15) scale(0.86,1)" font-size="8.5" text-anchor="end" fill="#000" stroke="#000" stroke-width="0.18">100</text>
<line x1="254.30" x2="254.30" y1="123.95" y2="127.45" stroke="#000" stroke-width="1.0"/>
<line x1="282.60" x2="282.60" y1="123.95" y2="127.45" stroke="#000" stroke-width="1.0"/>
<line x1="306.50" x2="306.50" y1="123.95" y2="127.45" stroke="#000" stroke-width="1.0"/>
<line x1="329.50" x2="329.50" y1="123.95" y2="127.45" stroke="#000" stroke-width="1.0"/>
<line x1="259.57" x2="259.57" y1="123.95" y2="126.25" stroke="#000" stroke-width="0.75"/>
<line x1="249.03" x2="249.03" y1="123.95" y2="126.25" stroke="#000" stroke-width="0.75"/>
<line x1="264.20" x2="264.20" y1="123.95" y2="126.25" stroke="#000" stroke-width="0.75"/>
<line x1="244.40" x2="244.40" y1="123.95" y2="126.25" stroke="#000" stroke-width="0.75"/>
<line x1="268.03" x2="268.03" y1="123.95" y2="126.25" stroke="#000" stroke-width="0.75"/>
<line x1="240.57" x2="240.57" y1="123.95" y2="126.25" stroke="#000" stroke-width="0.75"/>
<line x1="271.17" x2="271.17" y1="123.95" y2="126.25" stroke="#000" stroke-width="0.75"/>
<line x1="273.80" x2="273.80" y1="123.95" y2="126.25" stroke="#000" stroke-width="0.75"/>
<line x1="276.04" x2="276.04" y1="123.95" y2="126.25" stroke="#000" stroke-width="0.75"/>
<line x1="277.99" x2="277.99" y1="123.95" y2="126.25" stroke="#000" stroke-width="0.75"/>
<line x1="279.70" x2="279.70" y1="123.95" y2="126.25" stroke="#000" stroke-width="0.75"/>
<line x1="281.22" x2="281.22" y1="123.95" y2="126.25" stroke="#000" stroke-width="0.75"/>
<line x1="289.79" x2="289.79" y1="123.95" y2="126.25" stroke="#000" stroke-width="0.75"/>
<line x1="313.42" x2="313.42" y1="123.95" y2="126.25" stroke="#000" stroke-width="0.75"/>
<line x1="336.42" x2="336.42" y1="123.95" y2="126.25" stroke="#000" stroke-width="0.75"/>
<line x1="294.00" x2="294.00" y1="123.95" y2="126.25" stroke="#000" stroke-width="0.75"/>
<line x1="317.47" x2="317.47" y1="123.95" y2="126.25" stroke="#000" stroke-width="0.75"/>
<line x1="296.99" x2="296.99" y1="123.95" y2="126.25" stroke="#000" stroke-width="0.75"/>
<line x1="320.35" x2="320.35" y1="123.95" y2="126.25" stroke="#000" stroke-width="0.75"/>
<line x1="299.31" x2="299.31" y1="123.95" y2="126.25" stroke="#000" stroke-width="0.75"/>
<line x1="322.58" x2="322.58" y1="123.95" y2="126.25" stroke="#000" stroke-width="0.75"/>
<line x1="301.20" x2="301.20" y1="123.95" y2="126.25" stroke="#000" stroke-width="0.75"/>
<line x1="324.40" x2="324.40" y1="123.95" y2="126.25" stroke="#000" stroke-width="0.75"/>
<line x1="302.80" x2="302.80" y1="123.95" y2="126.25" stroke="#000" stroke-width="0.75"/>
<line x1="325.94" x2="325.94" y1="123.95" y2="126.25" stroke="#000" stroke-width="0.75"/>
<line x1="304.18" x2="304.18" y1="123.95" y2="126.25" stroke="#000" stroke-width="0.75"/>
<line x1="327.27" x2="327.27" y1="123.95" y2="126.25" stroke="#000" stroke-width="0.75"/>
<line x1="305.41" x2="305.41" y1="123.95" y2="126.25" stroke="#000" stroke-width="0.75"/>
<line x1="328.45" x2="328.45" y1="123.95" y2="126.25" stroke="#000" stroke-width="0.75"/>
<text transform="translate(254.30,136.75) scale(0.86,1)" font-size="8.5" text-anchor="middle" fill="#000" stroke="#000" stroke-width="0.18">0</text>
<text transform="translate(281.40,136.75) scale(0.86,1)" font-size="8.5" text-anchor="middle" fill="#000" stroke="#000" stroke-width="0.18">10</text>
<text transform="translate(285.90,133.15) scale(0.9,1)" font-size="5.2" text-anchor="start" fill="#000" stroke="#000" stroke-width="0.18">3</text>
<text transform="translate(305.30,136.75) scale(0.86,1)" font-size="8.5" text-anchor="middle" fill="#000" stroke="#000" stroke-width="0.18">10</text>
<text transform="translate(309.80,133.15) scale(0.9,1)" font-size="5.2" text-anchor="start" fill="#000" stroke="#000" stroke-width="0.18">4</text>
<text transform="translate(328.30,136.75) scale(0.86,1)" font-size="8.5" text-anchor="middle" fill="#000" stroke="#000" stroke-width="0.18">10</text>
<text transform="translate(332.80,133.15) scale(0.9,1)" font-size="5.2" text-anchor="start" fill="#000" stroke="#000" stroke-width="0.18">5</text>
<text transform="translate(288.85,16.10) scale(0.9008,1)" font-size="9.6" text-anchor="middle" fill="#000" stroke="#000" stroke-width="0.18">CD8</text>
<path d="M300.4,49.6 H330.3 M300.4,46.800000000000004 V52.4 M330.3,46.800000000000004 V52.4" stroke="#3a3a3a" stroke-width="1" fill="none"/>
<text transform="translate(329.65,44.40) scale(0.7862,1)" font-size="8.3" text-anchor="middle" fill="#222" stroke="#222" stroke-width="0.18">34.7</text>
<clipPath id="c3"><rect x="169.1" y="200.5" width="106.00000000000003" height="103.79999999999998"/></clipPath>
<g clip-path="url(#c3)">
<path d="M169.60,303.95 L170.00,303.95 L170.40,303.95 L170.80,303.95 L171.20,303.95 L171.60,303.95 L172.00,303.95 L172.40,303.95 L172.80,303.94 L173.20,303.94 L173.60,303.94 L174.00,303.94 L174.40,303.93 L174.80,303.93 L175.20,303.92 L175.60,303.92 L176.00,303.91 L176.40,303.91 L176.80,303.90 L177.20,303.90 L177.60,303.89 L178.00,303.88 L178.40,303.87 L178.80,303.86 L179.20,303.85 L179.60,303.84 L180.00,303.83 L180.40,303.81 L180.80,303.80 L181.20,303.79 L181.60,303.77 L182.00,303.75 L182.40,303.74 L182.80,303.72 L183.20,303.70 L183.60,303.68 L184.00,303.66 L184.40,303.64 L184.80,303.61 L185.20,303.59 L185.60,303.56 L186.00,303.53 L186.40,303.51 L186.80,303.48 L187.20,303.45 L187.60,303.41 L188.00,303.21 L188.40,302.41 L188.80,301.26 L189.20,299.98 L189.60,298.23 L190.00,296.02 L190.40,293.37 L190.80,289.78 L191.20,285.48 L191.60,280.91 L192.00,275.98 L192.40,270.58 L192.80,264.81 L193.20,258.56 L193.60,251.82 L194.00,244.87 L194.40,237.76 L194.80,230.42 L195.20,223.36 L195.60,216.06 L196.00,210.57 L196.40,207.20 L196.80,207.00 L197.20,210.24 L197.60,217.49 L198.00,227.09 L198.40,236.35 L198.80,244.96 L199.20,252.91 L199.60,257.59 L200.00,259.83 L200.40,257.54 L200.80,253.06 L201.20,245.91 L201.60,239.93 L202.00,235.13 L202.40,231.58 L202.80,229.81 L203.20,228.58 L203.60,228.10 L204.00,229.16 L204.40,231.61 L204.80,236.39 L205.20,243.95 L205.60,252.30 L206.00,261.72 L206.40,270.43 L206.80,278.89 L207.20,285.96 L207.60,291.78 L208.00,296.55 L208.40,299.42 L208.80,301.46 L209.20,302.65 L209.60,302.94 L210.00,303.12 L210.40,303.26 L210.80,303.35 L211.20,303.40 L211.60,303.40 L212.00,303.40 L212.40,303.40 L212.80,303.40 L213.20,303.40 L213.60,303.40 L214.00,303.40 L214.40,303.40 L214.80,303.40 L215.20,303.40 L215.60,303.40 L216.00,303.40 L216.40,303.40 L216.80,303.40 L217.20,303.40 L217.60,303.40 L218.00,303.40 L218.40,303.40 L218.80,303.40 L219.20,303.13 L219.60,302.38 L220.00,301.38 L220.40,299.54 L220.80,297.23 L221.20,294.93 L221.60,292.44 L222.00,290.08 L222.40,287.64 L222.80,285.92 L223.20,285.52 L223.60,285.50 L224.00,286.52 L224.40,288.28 L224.80,291.05 L225.20,294.02 L225.60,297.26 L226.00,299.47 L226.40,301.17 L226.80,302.25 L227.20,302.73 L227.60,303.09 L228.00,303.33 L228.40,303.41 L228.80,303.42 L229.20,303.43 L229.60,303.44 L230.00,303.46 L230.40,303.47 L230.80,303.48 L231.20,303.49 L231.60,303.51 L232.00,303.52 L232.40,303.53 L232.80,303.54 L233.20,303.55 L233.60,303.56 L234.00,303.57 L234.40,303.58 L234.80,303.59 L235.20,303.60 L235.60,303.61 L236.00,303.62 L236.40,303.63 L236.80,303.64 L237.20,303.65 L237.60,303.66 L238.00,303.67 L238.40,303.68 L238.80,303.68 L239.20,303.69 L239.60,303.70 L240.00,303.71 L240.40,303.72 L240.80,303.72 L241.20,303.73 L241.60,303.74 L242.00,303.74 L242.40,303.75 L242.80,303.76 L243.20,303.76 L243.60,303.77 L244.00,303.78 L244.40,303.78 L244.80,303.79 L245.20,303.80 L245.60,303.80 L246.00,303.81 L246.40,303.81 L246.80,303.82 L247.20,303.82 L247.60,303.83 L248.00,303.83 L248.40,303.84 L248.80,303.84 L249.20,303.85 L249.60,303.85 L250.00,303.85 L250.40,303.86 L250.80,303.86 L251.20,303.87 L251.60,303.87 L252.00,303.87 L252.40,303.88 L252.80,303.88 L253.20,303.88 L253.60,303.89 L254.00,303.89 L254.40,303.89 L254.80,303.90 L255.20,303.90 L255.60,303.90 L256.00,303.91 L256.40,303.91 L256.80,303.91 L257.20,303.91 L257.60,303.91 L258.00,303.92 L258.40,303.92 L258.80,303.92 L259.20,303.92 L259.60,303.92 L260.00,303.93 L260.40,303.93 L260.80,303.93 L261.20,303.93 L261.60,303.93 L262.00,303.93 L262.40,303.93 L262.80,303.94 L263.20,303.94 L263.60,303.94 L264.00,303.94 L264.40,303.94 L264.80,303.94 L265.20,303.94 L265.60,303.94 L266.00,303.94 L266.40,303.94 L266.80,303.95 L267.20,303.95 L267.60,303.95 L268.00,303.95 L268.40,303.95 L268.80,303.95 L269.20,303.95 L269.60,303.95 L270.00,303.95 L270.40,303.95 L270.80,303.95 L271.20,303.95 L271.60,303.95 L272.00,303.95 L272.40,303.95 L272.80,303.95 L273.20,303.95 L273.60,303.95 L274.00,303.95 L274.40,303.95 L274.40,303.70 L169.60,303.70 Z" fill="#8D96BE" stroke="none"/>
<path d="M169.60,303.95 L170.00,303.95 L170.40,303.95 L170.80,303.95 L171.20,303.95 L171.60,303.95 L172.00,303.95 L172.40,303.95 L172.80,303.94 L173.20,303.94 L173.60,303.94 L174.00,303.94 L174.40,303.93 L174.80,303.93 L175.20,303.92 L175.60,303.92 L176.00,303.91 L176.40,303.91 L176.80,303.90 L177.20,303.90 L177.60,303.89 L178.00,303.88 L178.40,303.87 L178.80,303.86 L179.20,303.85 L179.60,303.84 L180.00,303.83 L180.40,303.81 L180.80,303.80 L181.20,303.79 L181.60,303.77 L182.00,303.75 L182.40,303.74 L182.80,303.72 L183.20,303.70 L183.60,303.68 L184.00,303.66 L184.40,303.64 L184.80,303.61 L185.20,303.59 L185.60,303.56 L186.00,303.53 L186.40,303.51 L186.80,303.48 L187.20,303.45 L187.60,303.41 L188.00,303.21 L188.40,302.41 L188.80,301.26 L189.20,299.98 L189.60,298.23 L190.00,296.02 L190.40,293.37 L190.80,289.78 L191.20,285.48 L191.60,280.91 L192.00,275.98 L192.40,270.58 L192.80,264.81 L193.20,258.56 L193.60,251.82 L194.00,244.87 L194.40,237.76 L194.80,230.42 L195.20,223.36 L195.60,216.06 L196.00,210.57 L196.40,207.20 L196.80,207.00 L197.20,210.24 L197.60,217.49 L198.00,227.09 L198.40,236.35 L198.80,244.96 L199.20,252.91 L199.60,257.59 L200.00,259.83 L200.40,257.54 L200.80,253.06 L201.20,245.91 L201.60,239.93 L202.00,235.13 L202.40,231.58 L202.80,229.81 L203.20,228.58 L203.60,228.10 L204.00,229.16 L204.40,231.61 L204.80,236.39 L205.20,243.95 L205.60,252.30 L206.00,261.72 L206.40,270.43 L206.80,278.89 L207.20,285.96 L207.60,291.78 L208.00,296.55 L208.40,299.42 L208.80,301.46 L209.20,302.65 L209.60,302.94 L210.00,303.12 L210.40,303.26 L210.80,303.35 L211.20,303.40 L211.60,303.40 L212.00,303.40 L212.40,303.40 L212.80,303.40 L213.20,303.40 L213.60,303.40 L214.00,303.40 L214.40,303.40 L214.80,303.40 L215.20,303.40 L215.60,303.40 L216.00,303.40 L216.40,303.40 L216.80,303.40 L217.20,303.40 L217.60,303.40 L218.00,303.40 L218.40,303.40 L218.80,303.40 L219.20,303.13 L219.60,302.38 L220.00,301.38 L220.40,299.54 L220.80,297.23 L221.20,294.93 L221.60,292.44 L222.00,290.08 L222.40,287.64 L222.80,285.92 L223.20,285.52 L223.60,285.50 L224.00,286.52 L224.40,288.28 L224.80,291.05 L225.20,294.02 L225.60,297.26 L226.00,299.47 L226.40,301.17 L226.80,302.25 L227.20,302.73 L227.60,303.09 L228.00,303.33 L228.40,303.41 L228.80,303.42 L229.20,303.43 L229.60,303.44 L230.00,303.46 L230.40,303.47 L230.80,303.48 L231.20,303.49 L231.60,303.51 L232.00,303.52 L232.40,303.53 L232.80,303.54 L233.20,303.55 L233.60,303.56 L234.00,303.57 L234.40,303.58 L234.80,303.59 L235.20,303.60 L235.60,303.61 L236.00,303.62 L236.40,303.63 L236.80,303.64 L237.20,303.65 L237.60,303.66 L238.00,303.67 L238.40,303.68 L238.80,303.68 L239.20,303.69 L239.60,303.70 L240.00,303.71 L240.40,303.72 L240.80,303.72 L241.20,303.73 L241.60,303.74 L242.00,303.74 L242.40,303.75 L242.80,303.76 L243.20,303.76 L243.60,303.77 L244.00,303.78 L244.40,303.78 L244.80,303.79 L245.20,303.80 L245.60,303.80 L246.00,303.81 L246.40,303.81 L246.80,303.82 L247.20,303.82 L247.60,303.83 L248.00,303.83 L248.40,303.84 L248.80,303.84 L249.20,303.85 L249.60,303.85 L250.00,303.85 L250.40,303.86 L250.80,303.86 L251.20,303.87 L251.60,303.87 L252.00,303.87 L252.40,303.88 L252.80,303.88 L253.20,303.88 L253.60,303.89 L254.00,303.89 L254.40,303.89 L254.80,303.90 L255.20,303.90 L255.60,303.90 L256.00,303.91 L256.40,303.91 L256.80,303.91 L257.20,303.91 L257.60,303.91 L258.00,303.92 L258.40,303.92 L258.80,303.92 L259.20,303.92 L259.60,303.92 L260.00,303.93 L260.40,303.93 L260.80,303.93 L261.20,303.93 L261.60,303.93 L262.00,303.93 L262.40,303.93 L262.80,303.94 L263.20,303.94 L263.60,303.94 L264.00,303.94 L264.40,303.94 L264.80,303.94 L265.20,303.94 L265.60,303.94 L266.00,303.94 L266.40,303.94 L266.80,303.95 L267.20,303.95 L267.60,303.95 L268.00,303.95 L268.40,303.95 L268.80,303.95 L269.20,303.95 L269.60,303.95 L270.00,303.95 L270.40,303.95 L270.80,303.95 L271.20,303.95 L271.60,303.95 L272.00,303.95 L272.40,303.95 L272.80,303.95 L273.20,303.95 L273.60,303.95 L274.00,303.95 L274.40,303.95" fill="none" stroke="#1F3A75" stroke-width="1.25" stroke-linejoin="round"/>
<path d="M169.60,303.95 L170.00,303.95 L170.40,303.95 L170.80,303.95 L171.20,303.95 L171.60,303.95 L172.00,303.95 L172.40,303.95 L172.80,303.95 L173.20,303.95 L173.60,303.95 L174.00,303.95 L174.40,303.95 L174.80,303.95 L175.20,303.94 L175.60,303.94 L176.00,303.94 L176.40,303.94 L176.80,303.94 L177.20,303.94 L177.60,303.94 L178.00,303.93 L178.40,303.93 L178.80,303.93 L179.20,303.93 L179.60,303.93 L180.00,303.92 L180.40,303.92 L180.80,303.92 L181.20,303.91 L181.60,303.91 L182.00,303.91 L182.40,303.90 L182.80,303.90 L183.20,303.90 L183.60,303.89 L184.00,303.89 L184.40,303.88 L184.80,303.88 L185.20,303.87 L185.60,303.87 L186.00,303.86 L186.40,303.86 L186.80,303.85 L187.20,303.84 L187.60,303.84 L188.00,303.83 L188.40,303.82 L188.80,303.82 L189.20,303.81 L189.60,303.80 L190.00,303.79 L190.40,303.79 L190.80,303.78 L191.20,303.77 L191.60,303.76 L192.00,303.75 L192.40,303.74 L192.80,303.73 L193.20,303.72 L193.60,303.71 L194.00,303.70 L194.40,303.69 L194.80,303.67 L195.20,303.66 L195.60,303.65 L196.00,303.64 L196.40,303.62 L196.80,303.61 L197.20,303.60 L197.60,303.58 L198.00,303.57 L198.40,303.55 L198.80,303.54 L199.20,303.52 L199.60,303.50 L200.00,303.49 L200.40,303.47 L200.80,303.45 L201.20,303.44 L201.60,303.42 L202.00,303.39 L202.40,303.18 L202.80,302.80 L203.20,302.34 L203.60,301.86 L204.00,301.21 L204.40,300.55 L204.80,300.07 L205.20,299.65 L205.60,299.40 L206.00,299.48 L206.40,299.83 L206.80,300.26 L207.20,300.82 L207.60,301.49 L208.00,302.09 L208.40,302.61 L208.80,303.10 L209.20,303.39 L209.60,303.40 L210.00,303.40 L210.40,303.40 L210.80,303.40 L211.20,303.40 L211.60,303.40 L212.00,303.40 L212.40,303.40 L212.80,303.40 L213.20,303.40 L213.60,303.40 L214.00,303.40 L214.40,303.40 L214.80,303.40 L215.20,303.40 L215.60,303.40 L216.00,303.40 L216.40,303.40 L216.80,303.40 L217.20,303.40 L217.60,303.40 L218.00,303.40 L218.40,303.40 L218.80,303.40 L219.20,303.40 L219.60,303.40 L220.00,303.40 L220.40,303.40 L220.80,303.40 L221.20,303.40 L221.60,303.40 L222.00,303.40 L222.40,303.40 L222.80,303.40 L223.20,303.40 L223.60,303.40 L224.00,303.40 L224.40,303.40 L224.80,303.40 L225.20,303.40 L225.60,303.40 L226.00,303.40 L226.40,303.39 L226.80,303.20 L227.20,302.82 L227.60,302.27 L228.00,301.52 L228.40,299.30 L228.80,296.18 L229.20,292.28 L229.60,288.11 L230.00,284.24 L230.40,280.93 L230.80,278.59 L231.20,277.05 L231.60,277.20 L232.00,278.05 L232.40,279.53 L232.80,281.80 L233.20,282.13 L233.60,281.31 L234.00,279.81 L234.40,276.27 L234.80,272.05 L235.20,267.57 L235.60,261.32 L236.00,251.40 L236.40,247.07 L236.80,240.32 L237.20,231.28 L237.60,223.37 L238.00,215.87 L238.40,210.78 L238.80,207.60 L239.20,206.57 L239.60,208.56 L240.00,211.98 L240.40,217.01 L240.80,223.15 L241.20,230.09 L241.60,237.90 L242.00,246.84 L242.40,256.37 L242.80,266.84 L243.20,276.21 L243.60,283.81 L244.00,290.08 L244.40,295.49 L244.80,299.35 L245.20,301.12 L245.60,302.31 L246.00,302.84 L246.40,303.10 L246.80,303.28 L247.20,303.39 L247.60,303.42 L248.00,303.44 L248.40,303.46 L248.80,303.48 L249.20,303.49 L249.60,303.51 L250.00,303.53 L250.40,303.55 L250.80,303.57 L251.20,303.58 L251.60,303.60 L252.00,303.61 L252.40,303.63 L252.80,303.64 L253.20,303.66 L253.60,303.67 L254.00,303.68 L254.40,303.70 L254.80,303.71 L255.20,303.72 L255.60,303.73 L256.00,303.75 L256.40,303.76 L256.80,303.77 L257.20,303.78 L257.60,303.79 L258.00,303.80 L258.40,303.81 L258.80,303.81 L259.20,303.82 L259.60,303.83 L260.00,303.84 L260.40,303.85 L260.80,303.85 L261.20,303.86 L261.60,303.87 L262.00,303.87 L262.40,303.88 L262.80,303.88 L263.20,303.89 L263.60,303.89 L264.00,303.90 L264.40,303.90 L264.80,303.91 L265.20,303.91 L265.60,303.92 L266.00,303.92 L266.40,303.92 L266.80,303.93 L267.20,303.93 L267.60,303.93 L268.00,303.93 L268.40,303.94 L268.80,303.94 L269.20,303.94 L269.60,303.94 L270.00,303.94 L270.40,303.94 L270.80,303.95 L271.20,303.95 L271.60,303.95 L272.00,303.95 L272.40,303.95 L272.80,303.95 L273.20,303.95 L273.60,303.95 L274.00,303.95 L274.40,303.95" fill="none" stroke="#A5123A" stroke-width="1.35" stroke-linejoin="round"/>
<path d="M252.80,303.38 L253.20,303.13 L253.60,302.64 L254.00,301.99 L254.40,301.11 L254.80,299.61 L255.20,297.64 L255.60,295.36 L256.00,292.43 L256.40,288.84 L256.80,284.63 L257.20,279.20 L257.60,272.82 L258.00,266.17 L258.40,259.03 L258.80,251.45 L259.20,244.08 L259.60,237.03 L260.00,230.11 L260.40,223.81 L260.80,218.16 L261.20,212.96 L261.60,209.42 L262.00,207.01 L262.40,205.88 L262.80,207.25 L263.20,210.33 L263.60,215.15 L264.00,222.55 L264.40,231.89 L264.80,243.60 L265.20,255.57 L265.60,267.95 L266.00,278.62 L266.40,288.07 L266.80,294.51 L267.20,299.22 L267.60,301.51 L268.00,302.68 L268.40,303.33" fill="none" stroke="#58A21F" stroke-width="1.3" stroke-dasharray="1.6,1.5"/>
</g>
<rect x="169.1" y="200.5" width="106.00000000000003" height="103.19999999999999" fill="none" stroke="#000" stroke-width="1.15"/>
<path d="M169.1,200.0 V304.3 H275.6" fill="none" stroke="#000" stroke-width="1.4"/>
<line x1="165.9" x2="169.1" y1="303.70" y2="303.70" stroke="#000" stroke-width="0.9"/>
<text transform="translate(163.10,306.55) scale(0.86,1)" font-size="8.5" text-anchor="end" fill="#000" stroke="#000" stroke-width="0.18">0</text>
<line x1="167.6" x2="169.1" y1="298.74" y2="298.74" stroke="#000" stroke-width="0.5"/>
<line x1="167.6" x2="169.1" y1="293.77" y2="293.77" stroke="#000" stroke-width="0.5"/>
<line x1="167.6" x2="169.1" y1="288.81" y2="288.81" stroke="#000" stroke-width="0.5"/>
<line x1="165.9" x2="169.1" y1="283.84" y2="283.84" stroke="#000" stroke-width="0.9"/>
<text transform="translate(163.10,286.69) scale(0.86,1)" font-size="8.5" text-anchor="end" fill="#000" stroke="#000" stroke-width="0.18">20</text>
<line x1="167.6" x2="169.1" y1="278.88" y2="278.88" stroke="#000" stroke-width="0.5"/>
<line x1="167.6" x2="169.1" y1="273.91" y2="273.91" stroke="#000" stroke-width="0.5"/>
<line x1="167.6" x2="169.1" y1="268.94" y2="268.94" stroke="#000" stroke-width="0.5"/>
<line x1="165.9" x2="169.1" y1="263.98" y2="263.98" stroke="#000" stroke-width="0.9"/>
<text transform="translate(163.10,266.83) scale(0.86,1)" font-size="8.5" text-anchor="end" fill="#000" stroke="#000" stroke-width="0.18">40</text>
<line x1="167.6" x2="169.1" y1="259.01" y2="259.01" stroke="#000" stroke-width="0.5"/>
<line x1="167.6" x2="169.1" y1="254.05" y2="254.05" stroke="#000" stroke-width="0.5"/>
<line x1="167.6" x2="169.1" y1="249.08" y2="249.08" stroke="#000" stroke-width="0.5"/>
<line x1="165.9" x2="169.1" y1="244.12" y2="244.12" stroke="#000" stroke-width="0.9"/>
<text transform="translate(163.10,246.97) scale(0.86,1)" font-size="8.5" text-anchor="end" fill="#000" stroke="#000" stroke-width="0.18">60</text>
<line x1="167.6" x2="169.1" y1="239.16" y2="239.16" stroke="#000" stroke-width="0.5"/>
<line x1="167.6" x2="169.1" y1="234.19" y2="234.19" stroke="#000" stroke-width="0.5"/>
<line x1="167.6" x2="169.1" y1="229.22" y2="229.22" stroke="#000" stroke-width="0.5"/>
<line x1="165.9" x2="169.1" y1="224.26" y2="224.26" stroke="#000" stroke-width="0.9"/>
<text transform="translate(163.10,227.11) scale(0.86,1)" font-size="8.5" text-anchor="end" fill="#000" stroke="#000" stroke-width="0.18">80</text>
<line x1="167.6" x2="169.1" y1="219.30" y2="219.30" stroke="#000" stroke-width="0.5"/>
<line x1="167.6" x2="169.1" y1="214.33" y2="214.33" stroke="#000" stroke-width="0.5"/>
<line x1="167.6" x2="169.1" y1="209.37" y2="209.37" stroke="#000" stroke-width="0.5"/>
<line x1="165.9" x2="169.1" y1="204.40" y2="204.40" stroke="#000" stroke-width="0.9"/>
<text transform="translate(163.10,207.25) scale(0.86,1)" font-size="8.5" text-anchor="end" fill="#000" stroke="#000" stroke-width="0.18">100</text>
<line x1="193.00" x2="193.00" y1="303.7" y2="307.2" stroke="#000" stroke-width="1.0"/>
<line x1="212.60" x2="212.60" y1="303.7" y2="307.2" stroke="#000" stroke-width="1.0"/>
<line x1="241.50" x2="241.50" y1="303.7" y2="307.2" stroke="#000" stroke-width="1.0"/>
<line x1="264.60" x2="264.60" y1="303.7" y2="307.2" stroke="#000" stroke-width="1.0"/>
<line x1="173.40" x2="173.40" y1="303.7" y2="307.2" stroke="#000" stroke-width="1.0"/>
<line x1="196.65" x2="196.65" y1="303.7" y2="306.0" stroke="#000" stroke-width="0.75"/>
<line x1="189.35" x2="189.35" y1="303.7" y2="306.0" stroke="#000" stroke-width="0.75"/>
<line x1="199.86" x2="199.86" y1="303.7" y2="306.0" stroke="#000" stroke-width="0.75"/>
<line x1="186.14" x2="186.14" y1="303.7" y2="306.0" stroke="#000" stroke-width="0.75"/>
<line x1="202.51" x2="202.51" y1="303.7" y2="306.0" stroke="#000" stroke-width="0.75"/>
<line x1="183.49" x2="183.49" y1="303.7" y2="306.0" stroke="#000" stroke-width="0.75"/>
<line x1="204.69" x2="204.69" y1="303.7" y2="306.0" stroke="#000" stroke-width="0.75"/>
<line x1="181.31" x2="181.31" y1="303.7" y2="306.0" stroke="#000" stroke-width="0.75"/>
<line x1="206.51" x2="206.51" y1="303.7" y2="306.0" stroke="#000" stroke-width="0.75"/>
<line x1="179.49" x2="179.49" y1="303.7" y2="306.0" stroke="#000" stroke-width="0.75"/>
<line x1="208.06" x2="208.06" y1="303.7" y2="306.0" stroke="#000" stroke-width="0.75"/>
<line x1="177.94" x2="177.94" y1="303.7" y2="306.0" stroke="#000" stroke-width="0.75"/>
<line x1="209.40" x2="209.40" y1="303.7" y2="306.0" stroke="#000" stroke-width="0.75"/>
<line x1="176.60" x2="176.60" y1="303.7" y2="306.0" stroke="#000" stroke-width="0.75"/>
<line x1="210.59" x2="210.59" y1="303.7" y2="306.0" stroke="#000" stroke-width="0.75"/>
<line x1="175.41" x2="175.41" y1="303.7" y2="306.0" stroke="#000" stroke-width="0.75"/>
<line x1="211.65" x2="211.65" y1="303.7" y2="306.0" stroke="#000" stroke-width="0.75"/>
<line x1="174.35" x2="174.35" y1="303.7" y2="306.0" stroke="#000" stroke-width="0.75"/>
<line x1="221.30" x2="221.30" y1="303.7" y2="306.0" stroke="#000" stroke-width="0.75"/>
<line x1="248.45" x2="248.45" y1="303.7" y2="306.0" stroke="#000" stroke-width="0.75"/>
<line x1="271.55" x2="271.55" y1="303.7" y2="306.0" stroke="#000" stroke-width="0.75"/>
<line x1="226.39" x2="226.39" y1="303.7" y2="306.0" stroke="#000" stroke-width="0.75"/>
<line x1="252.52" x2="252.52" y1="303.7" y2="306.0" stroke="#000" stroke-width="0.75"/>
<line x1="230.00" x2="230.00" y1="303.7" y2="306.0" stroke="#000" stroke-width="0.75"/>
<line x1="255.41" x2="255.41" y1="303.7" y2="306.0" stroke="#000" stroke-width="0.75"/>
<line x1="232.80" x2="232.80" y1="303.7" y2="306.0" stroke="#000" stroke-width="0.75"/>
<line x1="257.65" x2="257.65" y1="303.7" y2="306.0" stroke="#000" stroke-width="0.75"/>
<line x1="235.09" x2="235.09" y1="303.7" y2="306.0" stroke="#000" stroke-width="0.75"/>
<line x1="259.48" x2="259.48" y1="303.7" y2="306.0" stroke="#000" stroke-width="0.75"/>
<line x1="237.02" x2="237.02" y1="303.7" y2="306.0" stroke="#000" stroke-width="0.75"/>
<line x1="261.02" x2="261.02" y1="303.7" y2="306.0" stroke="#000" stroke-width="0.75"/>
<line x1="238.70" x2="238.70" y1="303.7" y2="306.0" stroke="#000" stroke-width="0.75"/>
<line x1="262.36" x2="262.36" y1="303.7" y2="306.0" stroke="#000" stroke-width="0.75"/>
<line x1="240.18" x2="240.18" y1="303.7" y2="306.0" stroke="#000" stroke-width="0.75"/>
<line x1="263.54" x2="263.54" y1="303.7" y2="306.0" stroke="#000" stroke-width="0.75"/>
<text transform="translate(193.00,316.50) scale(0.86,1)" font-size="8.5" text-anchor="middle" fill="#000" stroke="#000" stroke-width="0.18">0</text>
<text transform="translate(211.40,316.50) scale(0.86,1)" font-size="8.5" text-anchor="middle" fill="#000" stroke="#000" stroke-width="0.18">10</text>
<text transform="translate(215.90,312.90) scale(0.9,1)" font-size="5.2" text-anchor="start" fill="#000" stroke="#000" stroke-width="0.18">3</text>
<text transform="translate(240.30,316.50) scale(0.86,1)" font-size="8.5" text-anchor="middle" fill="#000" stroke="#000" stroke-width="0.18">10</text>
<text transform="translate(244.80,312.90) scale(0.9,1)" font-size="5.2" text-anchor="start" fill="#000" stroke="#000" stroke-width="0.18">4</text>
<text transform="translate(263.40,316.50) scale(0.86,1)" font-size="8.5" text-anchor="middle" fill="#000" stroke="#000" stroke-width="0.18">10</text>
<text transform="translate(267.90,312.90) scale(0.9,1)" font-size="5.2" text-anchor="start" fill="#000" stroke="#000" stroke-width="0.18">5</text>
<text transform="translate(222.50,194.20) scale(0.8678,1)" font-size="9.6" text-anchor="middle" fill="#000" stroke="#000" stroke-width="0.18">NAIVE</text>
<path d="M250.2,259.7 H269.0 M250.2,256.9 V262.5 M269.0,256.9 V262.5" stroke="#3a3a3a" stroke-width="1" fill="none"/>
<text transform="translate(259.10,256.80) scale(0.8665,1)" font-size="8.3" text-anchor="middle" fill="#222" stroke="#222" stroke-width="0.18">0</text>
<clipPath id="c4"><rect x="298.9" y="199.1" width="105.20000000000005" height="105.19999999999999"/></clipPath>
<g clip-path="url(#c4)">
<path d="M299.40,303.95 L299.80,303.95 L300.20,303.95 L300.60,303.95 L301.00,303.95 L301.40,303.95 L301.80,303.95 L302.20,303.95 L302.60,303.95 L303.00,303.94 L303.40,303.94 L303.80,303.94 L304.20,303.94 L304.60,303.94 L305.00,303.94 L305.40,303.93 L305.80,303.93 L306.20,303.93 L306.60,303.92 L307.00,303.92 L307.40,303.91 L307.80,303.91 L308.20,303.90 L308.60,303.90 L309.00,303.89 L309.40,303.88 L309.80,303.88 L310.20,303.87 L310.60,303.86 L311.00,303.85 L311.40,303.84 L311.80,303.83 L312.20,303.82 L312.60,303.81 L313.00,303.80 L313.40,303.79 L313.80,303.78 L314.20,303.77 L314.60,303.75 L315.00,303.74 L315.40,303.72 L315.80,303.71 L316.20,303.69 L316.60,303.67 L317.00,303.65 L317.40,303.64 L317.80,303.62 L318.20,303.60 L318.60,303.57 L319.00,303.55 L319.40,303.53 L319.80,303.51 L320.20,303.48 L320.60,303.46 L321.00,303.43 L321.40,303.40 L321.80,303.05 L322.20,302.24 L322.60,301.22 L323.00,299.97 L323.40,298.19 L323.80,295.83 L324.20,292.20 L324.60,287.41 L325.00,281.04 L325.40,273.23 L325.80,263.86 L326.20,253.31 L326.60,242.42 L327.00,231.28 L327.40,220.30 L327.80,211.79 L328.20,206.57 L328.60,207.02 L329.00,211.81 L329.40,219.27 L329.80,228.35 L330.20,237.95 L330.60,244.93 L331.00,250.57 L331.40,255.34 L331.80,259.30 L332.20,261.82 L332.60,263.62 L333.00,265.05 L333.40,266.17 L333.80,267.11 L334.20,268.24 L334.60,269.53 L335.00,271.58 L335.40,276.55 L335.80,281.96 L336.20,286.28 L336.60,290.21 L337.00,293.64 L337.40,296.87 L337.80,299.27 L338.20,300.59 L338.60,301.62 L339.00,302.37 L339.40,302.79 L339.80,303.06 L340.20,303.26 L340.60,303.38 L341.00,303.40 L341.40,303.40 L341.80,303.40 L342.20,303.40 L342.60,303.40 L343.00,303.40 L343.40,303.40 L343.80,303.40 L344.20,303.40 L344.60,303.40 L345.00,303.40 L345.40,303.40 L345.80,303.39 L346.20,302.95 L346.60,302.12 L347.00,300.99 L347.40,299.09 L347.80,296.60 L348.20,293.07 L348.60,288.71 L349.00,284.38 L349.40,280.34 L349.80,277.83 L350.20,276.11 L350.60,276.30 L351.00,278.23 L351.40,280.93 L351.80,285.16 L352.20,289.45 L352.60,293.79 L353.00,297.07 L353.40,299.50 L353.80,301.27 L354.20,302.20 L354.60,302.90 L355.00,303.32 L355.40,303.41 L355.80,303.42 L356.20,303.43 L356.60,303.45 L357.00,303.46 L357.40,303.47 L357.80,303.48 L358.20,303.49 L358.60,303.51 L359.00,303.52 L359.40,303.53 L359.80,303.54 L360.20,303.55 L360.60,303.56 L361.00,303.57 L361.40,303.58 L361.80,303.59 L362.20,303.60 L362.60,303.61 L363.00,303.62 L363.40,303.63 L363.80,303.64 L364.20,303.65 L364.60,303.66 L365.00,303.66 L365.40,303.67 L365.80,303.68 L366.20,303.69 L366.60,303.70 L367.00,303.70 L367.40,303.71 L367.80,303.72 L368.20,303.73 L368.60,303.73 L369.00,303.74 L369.40,303.75 L369.80,303.75 L370.20,303.76 L370.60,303.77 L371.00,303.77 L371.40,303.78 L371.80,303.78 L372.20,303.79 L372.60,303.80 L373.00,303.80 L373.40,303.81 L373.80,303.81 L374.20,303.82 L374.60,303.82 L375.00,303.83 L375.40,303.83 L375.80,303.84 L376.20,303.84 L376.60,303.85 L377.00,303.85 L377.40,303.85 L377.80,303.86 L378.20,303.86 L378.60,303.87 L379.00,303.87 L379.40,303.87 L379.80,303.88 L380.20,303.88 L380.60,303.88 L381.00,303.89 L381.40,303.89 L381.80,303.89 L382.20,303.90 L382.60,303.90 L383.00,303.90 L383.40,303.90 L383.80,303.91 L384.20,303.91 L384.60,303.91 L385.00,303.91 L385.40,303.92 L385.80,303.92 L386.20,303.92 L386.60,303.92 L387.00,303.92 L387.40,303.92 L387.80,303.93 L388.20,303.93 L388.60,303.93 L389.00,303.93 L389.40,303.93 L389.80,303.93 L390.20,303.93 L390.60,303.94 L391.00,303.94 L391.40,303.94 L391.80,303.94 L392.20,303.94 L392.60,303.94 L393.00,303.94 L393.40,303.94 L393.80,303.94 L394.20,303.94 L394.60,303.94 L395.00,303.95 L395.40,303.95 L395.80,303.95 L396.20,303.95 L396.60,303.95 L397.00,303.95 L397.40,303.95 L397.80,303.95 L398.20,303.95 L398.60,303.95 L399.00,303.95 L399.40,303.95 L399.80,303.95 L400.20,303.95 L400.60,303.95 L401.00,303.95 L401.40,303.95 L401.80,303.95 L402.20,303.95 L402.60,303.95 L403.00,303.95 L403.40,303.95 L403.40,303.70 L299.40,303.70 Z" fill="#8D96BE" stroke="none"/>
<path d="M299.40,303.95 L299.80,303.95 L300.20,303.95 L300.60,303.95 L301.00,303.95 L301.40,303.95 L301.80,303.95 L302.20,303.95 L302.60,303.95 L303.00,303.94 L303.40,303.94 L303.80,303.94 L304.20,303.94 L304.60,303.94 L305.00,303.94 L305.40,303.93 L305.80,303.93 L306.20,303.93 L306.60,303.92 L307.00,303.92 L307.40,303.91 L307.80,303.91 L308.20,303.90 L308.60,303.90 L309.00,303.89 L309.40,303.88 L309.80,303.88 L310.20,303.87 L310.60,303.86 L311.00,303.85 L311.40,303.84 L311.80,303.83 L312.20,303.82 L312.60,303.81 L313.00,303.80 L313.40,303.79 L313.80,303.78 L314.20,303.77 L314.60,303.75 L315.00,303.74 L315.40,303.72 L315.80,303.71 L316.20,303.69 L316.60,303.67 L317.00,303.65 L317.40,303.64 L317.80,303.62 L318.20,303.60 L318.60,303.57 L319.00,303.55 L319.40,303.53 L319.80,303.51 L320.20,303.48 L320.60,303.46 L321.00,303.43 L321.40,303.40 L321.80,303.05 L322.20,302.24 L322.60,301.22 L323.00,299.97 L323.40,298.19 L323.80,295.83 L324.20,292.20 L324.60,287.41 L325.00,281.04 L325.40,273.23 L325.80,263.86 L326.20,253.31 L326.60,242.42 L327.00,231.28 L327.40,220.30 L327.80,211.79 L328.20,206.57 L328.60,207.02 L329.00,211.81 L329.40,219.27 L329.80,228.35 L330.20,237.95 L330.60,244.93 L331.00,250.57 L331.40,255.34 L331.80,259.30 L332.20,261.82 L332.60,263.62 L333.00,265.05 L333.40,266.17 L333.80,267.11 L334.20,268.24 L334.60,269.53 L335.00,271.58 L335.40,276.55 L335.80,281.96 L336.20,286.28 L336.60,290.21 L337.00,293.64 L337.40,296.87 L337.80,299.27 L338.20,300.59 L338.60,301.62 L339.00,302.37 L339.40,302.79 L339.80,303.06 L340.20,303.26 L340.60,303.38 L341.00,303.40 L341.40,303.40 L341.80,303.40 L342.20,303.40 L342.60,303.40 L343.00,303.40 L343.40,303.40 L343.80,303.40 L344.20,303.40 L344.60,303.40 L345.00,303.40 L345.40,303.40 L345.80,303.39 L346.20,302.95 L346.60,302.12 L347.00,300.99 L347.40,299.09 L347.80,296.60 L348.20,293.07 L348.60,288.71 L349.00,284.38 L349.40,280.34 L349.80,277.83 L350.20,276.11 L350.60,276.30 L351.00,278.23 L351.40,280.93 L351.80,285.16 L352.20,289.45 L352.60,293.79 L353.00,297.07 L353.40,299.50 L353.80,301.27 L354.20,302.20 L354.60,302.90 L355.00,303.32 L355.40,303.41 L355.80,303.42 L356.20,303.43 L356.60,303.45 L357.00,303.46 L357.40,303.47 L357.80,303.48 L358.20,303.49 L358.60,303.51 L359.00,303.52 L359.40,303.53 L359.80,303.54 L360.20,303.55 L360.60,303.56 L361.00,303.57 L361.40,303.58 L361.80,303.59 L362.20,303.60 L362.60,303.61 L363.00,303.62 L363.40,303.63 L363.80,303.64 L364.20,303.65 L364.60,303.66 L365.00,303.66 L365.40,303.67 L365.80,303.68 L366.20,303.69 L366.60,303.70 L367.00,303.70 L367.40,303.71 L367.80,303.72 L368.20,303.73 L368.60,303.73 L369.00,303.74 L369.40,303.75 L369.80,303.75 L370.20,303.76 L370.60,303.77 L371.00,303.77 L371.40,303.78 L371.80,303.78 L372.20,303.79 L372.60,303.80 L373.00,303.80 L373.40,303.81 L373.80,303.81 L374.20,303.82 L374.60,303.82 L375.00,303.83 L375.40,303.83 L375.80,303.84 L376.20,303.84 L376.60,303.85 L377.00,303.85 L377.40,303.85 L377.80,303.86 L378.20,303.86 L378.60,303.87 L379.00,303.87 L379.40,303.87 L379.80,303.88 L380.20,303.88 L380.60,303.88 L381.00,303.89 L381.40,303.89 L381.80,303.89 L382.20,303.90 L382.60,303.90 L383.00,303.90 L383.40,303.90 L383.80,303.91 L384.20,303.91 L384.60,303.91 L385.00,303.91 L385.40,303.92 L385.80,303.92 L386.20,303.92 L386.60,303.92 L387.00,303.92 L387.40,303.92 L387.80,303.93 L388.20,303.93 L388.60,303.93 L389.00,303.93 L389.40,303.93 L389.80,303.93 L390.20,303.93 L390.60,303.94 L391.00,303.94 L391.40,303.94 L391.80,303.94 L392.20,303.94 L392.60,303.94 L393.00,303.94 L393.40,303.94 L393.80,303.94 L394.20,303.94 L394.60,303.94 L395.00,303.95 L395.40,303.95 L395.80,303.95 L396.20,303.95 L396.60,303.95 L397.00,303.95 L397.40,303.95 L397.80,303.95 L398.20,303.95 L398.60,303.95 L399.00,303.95 L399.40,303.95 L399.80,303.95 L400.20,303.95 L400.60,303.95 L401.00,303.95 L401.40,303.95 L401.80,303.95 L402.20,303.95 L402.60,303.95 L403.00,303.95 L403.40,303.95" fill="none" stroke="#1F3A75" stroke-width="1.25" stroke-linejoin="round"/>
<path d="M299.40,303.95 L299.80,303.95 L300.20,303.95 L300.60,303.95 L301.00,303.95 L301.40,303.95 L301.80,303.95 L302.20,303.95 L302.60,303.95 L303.00,303.95 L303.40,303.95 L303.80,303.95 L304.20,303.95 L304.60,303.95 L305.00,303.95 L305.40,303.95 L305.80,303.95 L306.20,303.95 L306.60,303.95 L307.00,303.95 L307.40,303.95 L307.80,303.95 L308.20,303.95 L308.60,303.95 L309.00,303.95 L309.40,303.95 L309.80,303.94 L310.20,303.94 L310.60,303.94 L311.00,303.94 L311.40,303.94 L311.80,303.94 L312.20,303.94 L312.60,303.94 L313.00,303.94 L313.40,303.94 L313.80,303.94 L314.20,303.94 L314.60,303.94 L315.00,303.93 L315.40,303.93 L315.80,303.93 L316.20,303.93 L316.60,303.93 L317.00,303.93 L317.40,303.93 L317.80,303.93 L318.20,303.92 L318.60,303.92 L319.00,303.92 L319.40,303.92 L319.80,303.92 L320.20,303.92 L320.60,303.91 L321.00,303.91 L321.40,303.91 L321.80,303.91 L322.20,303.91 L322.60,303.90 L323.00,303.90 L323.40,303.90 L323.80,303.90 L324.20,303.89 L324.60,303.89 L325.00,303.89 L325.40,303.89 L325.80,303.88 L326.20,303.88 L326.60,303.88 L327.00,303.88 L327.40,303.87 L327.80,303.87 L328.20,303.87 L328.60,303.86 L329.00,303.86 L329.40,303.86 L329.80,303.85 L330.20,303.85 L330.60,303.85 L331.00,303.84 L331.40,303.84 L331.80,303.83 L332.20,303.83 L332.60,303.83 L333.00,303.82 L333.40,303.82 L333.80,303.81 L334.20,303.81 L334.60,303.80 L335.00,303.80 L335.40,303.79 L335.80,303.79 L336.20,303.78 L336.60,303.78 L337.00,303.77 L337.40,303.77 L337.80,303.76 L338.20,303.76 L338.60,303.75 L339.00,303.75 L339.40,303.74 L339.80,303.73 L340.20,303.73 L340.60,303.72 L341.00,303.71 L341.40,303.71 L341.80,303.70 L342.20,303.69 L342.60,303.69 L343.00,303.68 L343.40,303.67 L343.80,303.67 L344.20,303.66 L344.60,303.65 L345.00,303.64 L345.40,303.64 L345.80,303.63 L346.20,303.62 L346.60,303.61 L347.00,303.60 L347.40,303.60 L347.80,303.59 L348.20,303.58 L348.60,303.57 L349.00,303.56 L349.40,303.55 L349.80,303.54 L350.20,303.53 L350.60,303.52 L351.00,303.51 L351.40,303.50 L351.80,303.49 L352.20,303.48 L352.60,303.47 L353.00,303.46 L353.40,303.45 L353.80,303.44 L354.20,303.43 L354.60,303.42 L355.00,303.41 L355.40,303.37 L355.80,303.10 L356.20,302.60 L356.60,301.92 L357.00,300.83 L357.40,298.79 L357.80,296.21 L358.20,292.86 L358.60,288.57 L359.00,283.57 L359.40,277.37 L359.80,270.43 L360.20,263.02 L360.60,254.93 L361.00,246.54 L361.40,237.47 L361.80,228.48 L362.20,220.72 L362.60,213.74 L363.00,209.36 L363.40,206.32 L363.80,205.58 L364.20,207.73 L364.60,211.43 L365.00,218.84 L365.40,226.87 L365.80,235.05 L366.20,242.74 L366.60,250.12 L367.00,255.78 L367.40,260.07 L367.80,263.67 L368.20,266.80 L368.60,269.50 L369.00,272.24 L369.40,275.06 L369.80,278.20 L370.20,282.49 L370.60,287.20 L371.00,291.31 L371.40,295.13 L371.80,297.86 L372.20,299.88 L372.60,301.46 L373.00,302.35 L373.40,302.76 L373.80,303.08 L374.20,303.30 L374.60,303.40 L375.00,303.40 L375.40,303.40 L375.80,303.40 L376.20,303.40 L376.60,303.40 L377.00,303.40 L377.40,303.40 L377.80,303.40 L378.20,303.40 L378.60,303.40 L379.00,303.39 L379.40,302.99 L379.80,302.17 L380.20,300.77 L380.60,297.97 L381.00,295.32 L381.40,292.73 L381.80,291.22 L382.20,290.35 L382.60,290.13 L383.00,291.43 L383.40,293.42 L383.80,296.02 L384.20,298.49 L384.60,300.23 L385.00,301.27 L385.40,300.95 L385.80,299.93 L386.20,297.80 L386.60,293.78 L387.00,289.34 L387.40,284.14 L387.80,278.99 L388.20,273.80 L388.60,269.42 L389.00,265.66 L389.40,263.02 L389.80,260.97 L390.20,259.62 L390.60,259.20 L391.00,259.01 L391.40,259.19 L391.80,260.48 L392.20,262.44 L392.60,265.97 L393.00,270.19 L393.40,275.36 L393.80,280.27 L394.20,284.59 L394.60,288.47 L395.00,291.78 L395.40,294.85 L395.80,297.38 L396.20,299.04 L396.60,300.29 L397.00,301.29 L397.40,301.97 L397.80,302.38 L398.20,302.71 L398.60,302.97 L399.00,303.18 L399.40,303.33 L399.80,303.44 L400.20,303.53 L400.60,303.61 L401.00,303.69 L401.40,303.76 L401.80,303.82 L402.20,303.87 L402.60,303.91 L403.00,303.93 L403.40,303.95" fill="none" stroke="#A5123A" stroke-width="1.35" stroke-linejoin="round"/>
<path d="M379.80,303.37 L380.20,303.21 L380.60,302.92 L381.00,302.54 L381.40,302.07 L381.80,301.50 L382.20,300.45 L382.60,298.93 L383.00,297.14 L383.40,295.17 L383.80,292.72 L384.20,289.79 L384.60,286.35 L385.00,281.99 L385.40,276.98 L385.80,271.71 L386.20,265.98 L386.60,259.82 L387.00,253.51 L387.40,246.94 L387.80,240.16 L388.20,233.46 L388.60,226.69 L389.00,220.06 L389.40,214.67 L389.80,210.12 L390.20,207.26 L390.60,205.67 L391.00,205.88 L391.40,208.08 L391.80,211.70 L392.20,218.89 L392.60,227.72 L393.00,238.87 L393.40,250.33 L393.80,261.64 L394.20,272.19 L394.60,282.06 L395.00,290.08 L395.40,296.05 L395.80,300.00 L396.20,301.61 L396.60,302.76 L397.00,303.35" fill="none" stroke="#58A21F" stroke-width="1.3" stroke-dasharray="1.6,1.5"/>
</g>
<rect x="298.9" y="199.1" width="105.20000000000005" height="104.6" fill="none" stroke="#000" stroke-width="1.15"/>
<path d="M298.9,198.6 V304.3 H404.6" fill="none" stroke="#000" stroke-width="1.4"/>
<line x1="295.7" x2="298.9" y1="303.70" y2="303.70" stroke="#000" stroke-width="0.9"/>
<text transform="translate(292.90,306.55) scale(0.86,1)" font-size="8.5" text-anchor="end" fill="#000" stroke="#000" stroke-width="0.18">0</text>
<line x1="297.4" x2="298.9" y1="298.68" y2="298.68" stroke="#000" stroke-width="0.5"/>
<line x1="297.4" x2="298.9" y1="293.66" y2="293.66" stroke="#000" stroke-width="0.5"/>
<line x1="297.4" x2="298.9" y1="288.64" y2="288.64" stroke="#000" stroke-width="0.5"/>
<line x1="295.7" x2="298.9" y1="283.62" y2="283.62" stroke="#000" stroke-width="0.9"/>
<text transform="translate(292.90,286.47) scale(0.86,1)" font-size="8.5" text-anchor="end" fill="#000" stroke="#000" stroke-width="0.18">20</text>
<line x1="297.4" x2="298.9" y1="278.60" y2="278.60" stroke="#000" stroke-width="0.5"/>
<line x1="297.4" x2="298.9" y1="273.58" y2="273.58" stroke="#000" stroke-width="0.5"/>
<line x1="297.4" x2="298.9" y1="268.56" y2="268.56" stroke="#000" stroke-width="0.5"/>
<line x1="295.7" x2="298.9" y1="263.54" y2="263.54" stroke="#000" stroke-width="0.9"/>
<text transform="translate(292.90,266.39) scale(0.86,1)" font-size="8.5" text-anchor="end" fill="#000" stroke="#000" stroke-width="0.18">40</text>
<line x1="297.4" x2="298.9" y1="258.52" y2="258.52" stroke="#000" stroke-width="0.5"/>
<line x1="297.4" x2="298.9" y1="253.50" y2="253.50" stroke="#000" stroke-width="0.5"/>
<line x1="297.4" x2="298.9" y1="248.48" y2="248.48" stroke="#000" stroke-width="0.5"/>
<line x1="295.7" x2="298.9" y1="243.46" y2="243.46" stroke="#000" stroke-width="0.9"/>
<text transform="translate(292.90,246.31) scale(0.86,1)" font-size="8.5" text-anchor="end" fill="#000" stroke="#000" stroke-width="0.18">60</text>
<line x1="297.4" x2="298.9" y1="238.44" y2="238.44" stroke="#000" stroke-width="0.5"/>
<line x1="297.4" x2="298.9" y1="233.42" y2="233.42" stroke="#000" stroke-width="0.5"/>
<line x1="297.4" x2="298.9" y1="228.40" y2="228.40" stroke="#000" stroke-width="0.5"/>
<line x1="295.7" x2="298.9" y1="223.38" y2="223.38" stroke="#000" stroke-width="0.9"/>
<text transform="translate(292.90,226.23) scale(0.86,1)" font-size="8.5" text-anchor="end" fill="#000" stroke="#000" stroke-width="0.18">80</text>
<line x1="297.4" x2="298.9" y1="218.36" y2="218.36" stroke="#000" stroke-width="0.5"/>
<line x1="297.4" x2="298.9" y1="213.34" y2="213.34" stroke="#000" stroke-width="0.5"/>
<line x1="297.4" x2="298.9" y1="208.32" y2="208.32" stroke="#000" stroke-width="0.5"/>
<line x1="295.7" x2="298.9" y1="203.30" y2="203.30" stroke="#000" stroke-width="0.9"/>
<text transform="translate(292.90,206.15) scale(0.86,1)" font-size="8.5" text-anchor="end" fill="#000" stroke="#000" stroke-width="0.18">100</text>
<line x1="322.40" x2="322.40" y1="303.7" y2="307.2" stroke="#000" stroke-width="1.0"/>
<line x1="340.80" x2="340.80" y1="303.7" y2="307.2" stroke="#000" stroke-width="1.0"/>
<line x1="368.90" x2="368.90" y1="303.7" y2="307.2" stroke="#000" stroke-width="1.0"/>
<line x1="393.90" x2="393.90" y1="303.7" y2="307.2" stroke="#000" stroke-width="1.0"/>
<line x1="304.00" x2="304.00" y1="303.7" y2="307.2" stroke="#000" stroke-width="1.0"/>
<line x1="325.83" x2="325.83" y1="303.7" y2="306.0" stroke="#000" stroke-width="0.75"/>
<line x1="318.97" x2="318.97" y1="303.7" y2="306.0" stroke="#000" stroke-width="0.75"/>
<line x1="328.84" x2="328.84" y1="303.7" y2="306.0" stroke="#000" stroke-width="0.75"/>
<line x1="315.96" x2="315.96" y1="303.7" y2="306.0" stroke="#000" stroke-width="0.75"/>
<line x1="331.32" x2="331.32" y1="303.7" y2="306.0" stroke="#000" stroke-width="0.75"/>
<line x1="313.48" x2="313.48" y1="303.7" y2="306.0" stroke="#000" stroke-width="0.75"/>
<line x1="333.37" x2="333.37" y1="303.7" y2="306.0" stroke="#000" stroke-width="0.75"/>
<line x1="311.43" x2="311.43" y1="303.7" y2="306.0" stroke="#000" stroke-width="0.75"/>
<line x1="335.08" x2="335.08" y1="303.7" y2="306.0" stroke="#000" stroke-width="0.75"/>
<line x1="309.72" x2="309.72" y1="303.7" y2="306.0" stroke="#000" stroke-width="0.75"/>
<line x1="336.54" x2="336.54" y1="303.7" y2="306.0" stroke="#000" stroke-width="0.75"/>
<line x1="308.26" x2="308.26" y1="303.7" y2="306.0" stroke="#000" stroke-width="0.75"/>
<line x1="337.80" x2="337.80" y1="303.7" y2="306.0" stroke="#000" stroke-width="0.75"/>
<line x1="307.00" x2="307.00" y1="303.7" y2="306.0" stroke="#000" stroke-width="0.75"/>
<line x1="338.91" x2="338.91" y1="303.7" y2="306.0" stroke="#000" stroke-width="0.75"/>
<line x1="305.89" x2="305.89" y1="303.7" y2="306.0" stroke="#000" stroke-width="0.75"/>
<line x1="339.91" x2="339.91" y1="303.7" y2="306.0" stroke="#000" stroke-width="0.75"/>
<line x1="304.89" x2="304.89" y1="303.7" y2="306.0" stroke="#000" stroke-width="0.75"/>
<line x1="349.26" x2="349.26" y1="303.7" y2="306.0" stroke="#000" stroke-width="0.75"/>
<line x1="376.43" x2="376.43" y1="303.7" y2="306.0" stroke="#000" stroke-width="0.75"/>
<line x1="401.43" x2="401.43" y1="303.7" y2="306.0" stroke="#000" stroke-width="0.75"/>
<line x1="354.21" x2="354.21" y1="303.7" y2="306.0" stroke="#000" stroke-width="0.75"/>
<line x1="380.83" x2="380.83" y1="303.7" y2="306.0" stroke="#000" stroke-width="0.75"/>
<line x1="357.72" x2="357.72" y1="303.7" y2="306.0" stroke="#000" stroke-width="0.75"/>
<line x1="383.95" x2="383.95" y1="303.7" y2="306.0" stroke="#000" stroke-width="0.75"/>
<line x1="360.44" x2="360.44" y1="303.7" y2="306.0" stroke="#000" stroke-width="0.75"/>
<line x1="386.37" x2="386.37" y1="303.7" y2="306.0" stroke="#000" stroke-width="0.75"/>
<line x1="362.67" x2="362.67" y1="303.7" y2="306.0" stroke="#000" stroke-width="0.75"/>
<line x1="388.35" x2="388.35" y1="303.7" y2="306.0" stroke="#000" stroke-width="0.75"/>
<line x1="364.55" x2="364.55" y1="303.7" y2="306.0" stroke="#000" stroke-width="0.75"/>
<line x1="390.03" x2="390.03" y1="303.7" y2="306.0" stroke="#000" stroke-width="0.75"/>
<line x1="366.18" x2="366.18" y1="303.7" y2="306.0" stroke="#000" stroke-width="0.75"/>
<line x1="391.48" x2="391.48" y1="303.7" y2="306.0" stroke="#000" stroke-width="0.75"/>
<line x1="367.61" x2="367.61" y1="303.7" y2="306.0" stroke="#000" stroke-width="0.75"/>
<line x1="392.76" x2="392.76" y1="303.7" y2="306.0" stroke="#000" stroke-width="0.75"/>
<text transform="translate(322.40,316.50) scale(0.86,1)" font-size="8.5" text-anchor="middle" fill="#000" stroke="#000" stroke-width="0.18">0</text>
<text transform="translate(339.60,316.50) scale(0.86,1)" font-size="8.5" text-anchor="middle" fill="#000" stroke="#000" stroke-width="0.18">10</text>
<text transform="translate(344.10,312.90) scale(0.9,1)" font-size="5.2" text-anchor="start" fill="#000" stroke="#000" stroke-width="0.18">3</text>
<text transform="translate(367.70,316.50) scale(0.86,1)" font-size="8.5" text-anchor="middle" fill="#000" stroke="#000" stroke-width="0.18">10</text>
<text transform="translate(372.20,312.90) scale(0.9,1)" font-size="5.2" text-anchor="start" fill="#000" stroke="#000" stroke-width="0.18">4</text>
<text transform="translate(392.70,316.50) scale(0.86,1)" font-size="8.5" text-anchor="middle" fill="#000" stroke="#000" stroke-width="0.18">10</text>
<text transform="translate(397.20,312.90) scale(0.9,1)" font-size="5.2" text-anchor="start" fill="#000" stroke="#000" stroke-width="0.18">5</text>
<text transform="translate(351.15,192.80) scale(0.8199,1)" font-size="9.6" text-anchor="middle" fill="#000" stroke="#000" stroke-width="0.18">TSCM</text>
<path d="M379.5,259.5 H398.1 M379.5,256.7 V262.3 M398.1,256.7 V262.3" stroke="#3a3a3a" stroke-width="1" fill="none"/>
<text transform="translate(388.30,256.60) scale(0.7862,1)" font-size="8.3" text-anchor="middle" fill="#222" stroke="#222" stroke-width="0.18">33.3</text>
<clipPath id="c5"><rect x="105.7" y="349.3" width="104.60000000000001" height="103.4"/></clipPath>
<g clip-path="url(#c5)">
<path d="M106.20,452.35 L106.60,452.35 L107.00,452.35 L107.40,452.35 L107.80,452.35 L108.20,452.35 L108.60,452.35 L109.00,452.34 L109.40,452.34 L109.80,452.34 L110.20,452.33 L110.60,452.33 L111.00,452.33 L111.40,452.32 L111.80,452.32 L112.20,452.31 L112.60,452.30 L113.00,452.30 L113.40,452.29 L113.80,452.28 L114.20,452.27 L114.60,452.26 L115.00,452.25 L115.40,452.24 L115.80,452.23 L116.20,452.21 L116.60,452.20 L117.00,452.18 L117.40,452.17 L117.80,452.15 L118.20,452.13 L118.60,452.11 L119.00,452.09 L119.40,452.07 L119.80,452.05 L120.20,452.03 L120.60,452.00 L121.00,451.98 L121.40,451.95 L121.80,451.92 L122.20,451.89 L122.60,451.86 L123.00,451.83 L123.40,451.80 L123.80,451.76 L124.20,451.54 L124.60,451.09 L125.00,450.46 L125.40,449.62 L125.80,448.03 L126.20,445.84 L126.60,442.89 L127.00,438.75 L127.40,433.92 L127.80,428.02 L128.20,421.20 L128.60,413.92 L129.00,405.85 L129.40,397.62 L129.80,389.33 L130.20,381.07 L130.60,373.96 L131.00,367.50 L131.40,362.25 L131.80,359.00 L132.20,356.74 L132.60,355.86 L133.00,355.52 L133.40,356.78 L133.80,360.03 L134.20,365.07 L134.60,372.90 L135.00,381.79 L135.40,392.22 L135.80,402.47 L136.20,412.68 L136.60,421.84 L137.00,430.17 L137.40,436.85 L137.80,442.40 L138.20,445.99 L138.60,448.32 L139.00,449.90 L139.40,450.66 L139.80,451.21 L140.20,451.60 L140.60,451.77 L141.00,451.78 L141.40,451.79 L141.80,451.80 L142.20,451.81 L142.60,451.82 L143.00,451.82 L143.40,451.83 L143.80,451.84 L144.20,451.85 L144.60,451.86 L145.00,451.87 L145.40,451.88 L145.80,451.89 L146.20,451.89 L146.60,451.90 L147.00,451.91 L147.40,451.92 L147.80,451.93 L148.20,451.93 L148.60,451.94 L149.00,451.95 L149.40,451.96 L149.80,451.96 L150.20,451.97 L150.60,451.98 L151.00,451.99 L151.40,451.99 L151.80,452.00 L152.20,452.01 L152.60,452.01 L153.00,452.02 L153.40,452.03 L153.80,452.03 L154.20,452.04 L154.60,452.05 L155.00,452.05 L155.40,452.06 L155.80,452.06 L156.20,452.07 L156.60,452.08 L157.00,452.08 L157.40,452.09 L157.80,452.09 L158.20,452.10 L158.60,452.11 L159.00,452.11 L159.40,452.12 L159.80,452.12 L160.20,452.13 L160.60,452.13 L161.00,452.14 L161.40,452.14 L161.80,452.15 L162.20,452.15 L162.60,452.16 L163.00,452.16 L163.40,452.17 L163.80,452.17 L164.20,452.17 L164.60,452.18 L165.00,452.18 L165.40,452.19 L165.80,452.19 L166.20,452.20 L166.60,452.20 L167.00,452.20 L167.40,452.21 L167.80,452.21 L168.20,452.21 L168.60,452.22 L169.00,452.22 L169.40,452.23 L169.80,452.23 L170.20,452.23 L170.60,452.24 L171.00,452.24 L171.40,452.24 L171.80,452.25 L172.20,452.25 L172.60,452.25 L173.00,452.25 L173.40,452.26 L173.80,452.26 L174.20,452.26 L174.60,452.27 L175.00,452.27 L175.40,452.27 L175.80,452.27 L176.20,452.28 L176.60,452.28 L177.00,452.28 L177.40,452.28 L177.80,452.29 L178.20,452.29 L178.60,452.29 L179.00,452.29 L179.40,452.29 L179.80,452.30 L180.20,452.30 L180.60,452.30 L181.00,452.30 L181.40,452.30 L181.80,452.31 L182.20,452.31 L182.60,452.31 L183.00,452.31 L183.40,452.31 L183.80,452.31 L184.20,452.32 L184.60,452.32 L185.00,452.32 L185.40,452.32 L185.80,452.32 L186.20,452.32 L186.60,452.32 L187.00,452.32 L187.40,452.33 L187.80,452.33 L188.20,452.33 L188.60,452.33 L189.00,452.33 L189.40,452.33 L189.80,452.33 L190.20,452.33 L190.60,452.33 L191.00,452.33 L191.40,452.34 L191.80,452.34 L192.20,452.34 L192.60,452.34 L193.00,452.34 L193.40,452.34 L193.80,452.34 L194.20,452.34 L194.60,452.34 L195.00,452.34 L195.40,452.34 L195.80,452.34 L196.20,452.34 L196.60,452.34 L197.00,452.34 L197.40,452.34 L197.80,452.35 L198.20,452.35 L198.60,452.35 L199.00,452.35 L199.40,452.35 L199.80,452.35 L200.20,452.35 L200.60,452.35 L201.00,452.35 L201.40,452.35 L201.80,452.35 L202.20,452.35 L202.60,452.35 L203.00,452.35 L203.40,452.35 L203.80,452.35 L204.20,452.35 L204.60,452.35 L205.00,452.35 L205.40,452.35 L205.80,452.35 L206.20,452.35 L206.60,452.35 L207.00,452.35 L207.40,452.35 L207.80,452.35 L208.20,452.35 L208.60,452.35 L209.00,452.35 L209.40,452.35 L209.80,452.35 L209.80,452.10 L106.20,452.10 Z" fill="#8D96BE" stroke="none"/>
<path d="M106.20,452.35 L106.60,452.35 L107.00,452.35 L107.40,452.35 L107.80,452.35 L108.20,452.35 L108.60,452.35 L109.00,452.34 L109.40,452.34 L109.80,452.34 L110.20,452.33 L110.60,452.33 L111.00,452.33 L111.40,452.32 L111.80,452.32 L112.20,452.31 L112.60,452.30 L113.00,452.30 L113.40,452.29 L113.80,452.28 L114.20,452.27 L114.60,452.26 L115.00,452.25 L115.40,452.24 L115.80,452.23 L116.20,452.21 L116.60,452.20 L117.00,452.18 L117.40,452.17 L117.80,452.15 L118.20,452.13 L118.60,452.11 L119.00,452.09 L119.40,452.07 L119.80,452.05 L120.20,452.03 L120.60,452.00 L121.00,451.98 L121.40,451.95 L121.80,451.92 L122.20,451.89 L122.60,451.86 L123.00,451.83 L123.40,451.80 L123.80,451.76 L124.20,451.54 L124.60,451.09 L125.00,450.46 L125.40,449.62 L125.80,448.03 L126.20,445.84 L126.60,442.89 L127.00,438.75 L127.40,433.92 L127.80,428.02 L128.20,421.20 L128.60,413.92 L129.00,405.85 L129.40,397.62 L129.80,389.33 L130.20,381.07 L130.60,373.96 L131.00,367.50 L131.40,362.25 L131.80,359.00 L132.20,356.74 L132.60,355.86 L133.00,355.52 L133.40,356.78 L133.80,360.03 L134.20,365.07 L134.60,372.90 L135.00,381.79 L135.40,392.22 L135.80,402.47 L136.20,412.68 L136.60,421.84 L137.00,430.17 L137.40,436.85 L137.80,442.40 L138.20,445.99 L138.60,448.32 L139.00,449.90 L139.40,450.66 L139.80,451.21 L140.20,451.60 L140.60,451.77 L141.00,451.78 L141.40,451.79 L141.80,451.80 L142.20,451.81 L142.60,451.82 L143.00,451.82 L143.40,451.83 L143.80,451.84 L144.20,451.85 L144.60,451.86 L145.00,451.87 L145.40,451.88 L145.80,451.89 L146.20,451.89 L146.60,451.90 L147.00,451.91 L147.40,451.92 L147.80,451.93 L148.20,451.93 L148.60,451.94 L149.00,451.95 L149.40,451.96 L149.80,451.96 L150.20,451.97 L150.60,451.98 L151.00,451.99 L151.40,451.99 L151.80,452.00 L152.20,452.01 L152.60,452.01 L153.00,452.02 L153.40,452.03 L153.80,452.03 L154.20,452.04 L154.60,452.05 L155.00,452.05 L155.40,452.06 L155.80,452.06 L156.20,452.07 L156.60,452.08 L157.00,452.08 L157.40,452.09 L157.80,452.09 L158.20,452.10 L158.60,452.11 L159.00,452.11 L159.40,452.12 L159.80,452.12 L160.20,452.13 L160.60,452.13 L161.00,452.14 L161.40,452.14 L161.80,452.15 L162.20,452.15 L162.60,452.16 L163.00,452.16 L163.40,452.17 L163.80,452.17 L164.20,452.17 L164.60,452.18 L165.00,452.18 L165.40,452.19 L165.80,452.19 L166.20,452.20 L166.60,452.20 L167.00,452.20 L167.40,452.21 L167.80,452.21 L168.20,452.21 L168.60,452.22 L169.00,452.22 L169.40,452.23 L169.80,452.23 L170.20,452.23 L170.60,452.24 L171.00,452.24 L171.40,452.24 L171.80,452.25 L172.20,452.25 L172.60,452.25 L173.00,452.25 L173.40,452.26 L173.80,452.26 L174.20,452.26 L174.60,452.27 L175.00,452.27 L175.40,452.27 L175.80,452.27 L176.20,452.28 L176.60,452.28 L177.00,452.28 L177.40,452.28 L177.80,452.29 L178.20,452.29 L178.60,452.29 L179.00,452.29 L179.40,452.29 L179.80,452.30 L180.20,452.30 L180.60,452.30 L181.00,452.30 L181.40,452.30 L181.80,452.31 L182.20,452.31 L182.60,452.31 L183.00,452.31 L183.40,452.31 L183.80,452.31 L184.20,452.32 L184.60,452.32 L185.00,452.32 L185.40,452.32 L185.80,452.32 L186.20,452.32 L186.60,452.32 L187.00,452.32 L187.40,452.33 L187.80,452.33 L188.20,452.33 L188.60,452.33 L189.00,452.33 L189.40,452.33 L189.80,452.33 L190.20,452.33 L190.60,452.33 L191.00,452.33 L191.40,452.34 L191.80,452.34 L192.20,452.34 L192.60,452.34 L193.00,452.34 L193.40,452.34 L193.80,452.34 L194.20,452.34 L194.60,452.34 L195.00,452.34 L195.40,452.34 L195.80,452.34 L196.20,452.34 L196.60,452.34 L197.00,452.34 L197.40,452.34 L197.80,452.35 L198.20,452.35 L198.60,452.35 L199.00,452.35 L199.40,452.35 L199.80,452.35 L200.20,452.35 L200.60,452.35 L201.00,452.35 L201.40,452.35 L201.80,452.35 L202.20,452.35 L202.60,452.35 L203.00,452.35 L203.40,452.35 L203.80,452.35 L204.20,452.35 L204.60,452.35 L205.00,452.35 L205.40,452.35 L205.80,452.35 L206.20,452.35 L206.60,452.35 L207.00,452.35 L207.40,452.35 L207.80,452.35 L208.20,452.35 L208.60,452.35 L209.00,452.35 L209.40,452.35 L209.80,452.35" fill="none" stroke="#1F3A75" stroke-width="1.25" stroke-linejoin="round"/>
<path d="M106.20,451.56 L106.60,451.56 L107.00,451.56 L107.40,451.56 L107.80,451.56 L108.20,451.56 L108.60,451.56 L109.00,451.56 L109.40,451.56 L109.80,451.56 L110.20,451.56 L110.60,451.56 L111.00,451.56 L111.40,451.56 L111.80,451.56 L112.20,451.56 L112.60,451.56 L113.00,451.56 L113.40,451.56 L113.80,451.56 L114.20,451.56 L114.60,451.56 L115.00,451.56 L115.40,451.56 L115.80,451.56 L116.20,451.56 L116.60,451.56 L117.00,451.56 L117.40,451.56 L117.80,451.56 L118.20,451.56 L118.60,451.56 L119.00,451.56 L119.40,451.56 L119.80,451.56 L120.20,451.56 L120.60,451.56 L121.00,451.56 L121.40,451.56 L121.80,451.56 L122.20,451.56 L122.60,451.56 L123.00,451.56 L123.40,451.56 L123.80,451.56 L124.20,451.56 L124.60,451.56 L125.00,451.56 L125.40,451.56 L125.80,451.56 L126.20,451.56 L126.60,451.56 L127.00,451.56 L127.40,451.56 L127.80,451.56 L128.20,451.56 L128.60,451.56 L129.00,451.56 L129.40,451.56 L129.80,451.56 L130.20,451.56 L130.60,451.56 L131.00,451.56 L131.40,451.56 L131.80,451.56 L132.20,451.56 L132.60,451.56 L133.00,451.56 L133.40,451.56 L133.80,451.56 L134.20,451.56 L134.60,451.56 L135.00,451.56 L135.40,451.56 L135.80,451.56 L136.20,451.56 L136.60,451.56 L137.00,451.56 L137.40,451.56 L137.80,451.56 L138.20,451.56 L138.60,451.56 L139.00,451.56 L139.40,451.56 L139.80,451.56 L140.20,451.56 L140.60,451.56 L141.00,451.56 L141.40,451.56 L141.80,451.56 L142.20,451.56 L142.60,451.56 L143.00,451.56 L143.40,451.56 L143.80,451.56 L144.20,451.56 L144.60,451.56 L145.00,451.56 L145.40,451.56 L145.80,451.56 L146.20,451.56 L146.60,451.56 L147.00,451.56 L147.40,451.56 L147.80,451.56 L148.20,451.56 L148.60,451.56 L149.00,451.56 L149.40,451.56 L149.80,451.56 L150.20,451.56 L150.60,451.56 L151.00,451.56 L151.40,451.56 L151.80,451.56 L152.20,451.56 L152.60,451.56 L153.00,451.56 L153.40,451.56 L153.80,451.56 L154.20,451.56 L154.60,451.56 L155.00,451.56 L155.40,451.56 L155.80,451.56 L156.20,451.56 L156.60,451.56 L157.00,451.56 L157.40,451.56 L157.80,451.56 L158.20,451.56 L158.60,451.56 L159.00,451.56 L159.40,451.56 L159.80,451.56 L160.20,451.55 L160.60,451.21 L161.00,450.51 L161.40,449.62 L161.80,448.13 L162.20,445.90 L162.60,443.28 L163.00,439.94 L163.40,435.93 L163.80,431.17 L164.20,425.44 L164.60,419.40 L165.00,413.12 L165.40,406.60 L165.80,400.16 L166.20,393.76 L166.60,387.36 L167.00,380.82 L167.40,374.24 L167.80,368.29 L168.20,362.63 L168.60,358.53 L169.00,356.01 L169.40,355.89 L169.80,358.34 L170.20,363.90 L170.60,371.58 L171.00,379.61 L171.40,382.61 L171.80,384.15 L172.20,385.40 L172.60,386.39 L173.00,389.13 L173.40,396.03 L173.80,403.57 L174.20,411.90 L174.60,420.33 L175.00,428.46 L175.40,434.19 L175.80,438.74 L176.20,442.31 L176.60,445.25 L177.00,447.61 L177.40,449.04 L177.80,450.06 L178.20,450.80 L178.60,451.19 L179.00,451.42 L179.40,451.60 L179.80,451.72 L180.20,451.77 L180.60,451.77 L181.00,451.77 L181.40,451.77 L181.80,451.77 L182.20,451.77 L182.60,451.77 L183.00,451.77 L183.40,451.77 L183.80,451.77 L184.20,451.77 L184.60,451.77 L185.00,451.77 L185.40,451.77 L185.80,451.77 L186.20,451.77 L186.60,451.77 L187.00,451.77 L187.40,451.77 L187.80,451.77 L188.20,451.77 L188.60,451.76 L189.00,451.76 L189.40,451.76 L189.80,451.76 L190.20,451.76 L190.60,451.76 L191.00,451.76 L191.40,451.76 L191.80,451.76 L192.20,451.76 L192.60,451.75 L193.00,451.75 L193.40,451.75 L193.80,451.75 L194.20,451.75 L194.60,451.74 L195.00,451.74 L195.40,451.74 L195.80,451.74 L196.20,451.74 L196.60,451.73 L197.00,451.73 L197.40,451.73 L197.80,451.72 L198.20,451.72 L198.60,451.72 L199.00,451.72 L199.40,451.71 L199.80,451.71 L200.20,451.70 L200.60,451.70 L201.00,451.70 L201.40,451.69 L201.80,451.69 L202.20,451.68 L202.60,451.68 L203.00,451.67 L203.40,451.67 L203.80,451.66 L204.20,451.66 L204.60,451.65 L205.00,451.65 L205.40,451.64 L205.80,451.63 L206.20,451.63 L206.60,451.62 L207.00,451.61 L207.40,451.61 L207.80,451.60 L208.20,451.59 L208.60,451.58 L209.00,451.57 L209.40,451.57 L209.80,451.56" fill="none" stroke="#A5123A" stroke-width="1.35" stroke-linejoin="round"/>
<path d="M184.20,451.80 L184.60,451.79 L185.00,451.78 L185.40,451.77 L185.80,451.69 L186.20,451.40 L186.60,450.93 L187.00,450.37 L187.40,449.70 L187.80,448.68 L188.20,447.33 L188.60,445.74 L189.00,443.78 L189.40,441.21 L189.80,438.15 L190.20,434.54 L190.60,430.01 L191.00,424.93 L191.40,419.58 L191.80,413.64 L192.20,407.42 L192.60,401.32 L193.00,395.22 L193.40,389.16 L193.80,383.37 L194.20,377.66 L194.60,372.17 L195.00,367.36 L195.40,363.09 L195.80,359.39 L196.20,357.06 L196.60,355.42 L197.00,354.94 L197.40,356.78 L197.80,360.02 L198.20,365.57 L198.60,373.20 L199.00,382.40 L199.40,393.03 L199.80,404.03 L200.20,415.17 L200.60,425.21 L201.00,434.21 L201.40,440.84 L201.80,445.99 L202.20,448.56 L202.60,450.16 L203.00,451.07 L203.40,451.44 L203.80,451.67 L204.20,451.79" fill="none" stroke="#58A21F" stroke-width="1.3" stroke-dasharray="1.6,1.5"/>
</g>
<rect x="105.7" y="349.3" width="104.60000000000001" height="102.80000000000001" fill="none" stroke="#000" stroke-width="1.15"/>
<path d="M105.7,348.8 V452.70000000000005 H210.8" fill="none" stroke="#000" stroke-width="1.4"/>
<line x1="102.5" x2="105.7" y1="452.10" y2="452.10" stroke="#000" stroke-width="0.9"/>
<text transform="translate(99.70,454.95) scale(0.86,1)" font-size="8.5" text-anchor="end" fill="#000" stroke="#000" stroke-width="0.18">0</text>
<line x1="104.2" x2="105.7" y1="447.18" y2="447.18" stroke="#000" stroke-width="0.5"/>
<line x1="104.2" x2="105.7" y1="442.26" y2="442.26" stroke="#000" stroke-width="0.5"/>
<line x1="104.2" x2="105.7" y1="437.34" y2="437.34" stroke="#000" stroke-width="0.5"/>
<line x1="102.5" x2="105.7" y1="432.42" y2="432.42" stroke="#000" stroke-width="0.9"/>
<text transform="translate(99.70,435.27) scale(0.86,1)" font-size="8.5" text-anchor="end" fill="#000" stroke="#000" stroke-width="0.18">20</text>
<line x1="104.2" x2="105.7" y1="427.50" y2="427.50" stroke="#000" stroke-width="0.5"/>
<line x1="104.2" x2="105.7" y1="422.58" y2="422.58" stroke="#000" stroke-width="0.5"/>
<line x1="104.2" x2="105.7" y1="417.66" y2="417.66" stroke="#000" stroke-width="0.5"/>
<line x1="102.5" x2="105.7" y1="412.74" y2="412.74" stroke="#000" stroke-width="0.9"/>
<text transform="translate(99.70,415.59) scale(0.86,1)" font-size="8.5" text-anchor="end" fill="#000" stroke="#000" stroke-width="0.18">40</text>
<line x1="104.2" x2="105.7" y1="407.82" y2="407.82" stroke="#000" stroke-width="0.5"/>
<line x1="104.2" x2="105.7" y1="402.90" y2="402.90" stroke="#000" stroke-width="0.5"/>
<line x1="104.2" x2="105.7" y1="397.98" y2="397.98" stroke="#000" stroke-width="0.5"/>
<line x1="102.5" x2="105.7" y1="393.06" y2="393.06" stroke="#000" stroke-width="0.9"/>
<text transform="translate(99.70,395.91) scale(0.86,1)" font-size="8.5" text-anchor="end" fill="#000" stroke="#000" stroke-width="0.18">60</text>
<line x1="104.2" x2="105.7" y1="388.14" y2="388.14" stroke="#000" stroke-width="0.5"/>
<line x1="104.2" x2="105.7" y1="383.22" y2="383.22" stroke="#000" stroke-width="0.5"/>
<line x1="104.2" x2="105.7" y1="378.30" y2="378.30" stroke="#000" stroke-width="0.5"/>
<line x1="102.5" x2="105.7" y1="373.38" y2="373.38" stroke="#000" stroke-width="0.9"/>
<text transform="translate(99.70,376.23) scale(0.86,1)" font-size="8.5" text-anchor="end" fill="#000" stroke="#000" stroke-width="0.18">80</text>
<line x1="104.2" x2="105.7" y1="368.46" y2="368.46" stroke="#000" stroke-width="0.5"/>
<line x1="104.2" x2="105.7" y1="363.54" y2="363.54" stroke="#000" stroke-width="0.5"/>
<line x1="104.2" x2="105.7" y1="358.62" y2="358.62" stroke="#000" stroke-width="0.5"/>
<line x1="102.5" x2="105.7" y1="353.70" y2="353.70" stroke="#000" stroke-width="0.9"/>
<text transform="translate(99.70,356.55) scale(0.86,1)" font-size="8.5" text-anchor="end" fill="#000" stroke="#000" stroke-width="0.18">100</text>
<line x1="129.00" x2="129.00" y1="452.1" y2="455.6" stroke="#000" stroke-width="1.0"/>
<line x1="148.50" x2="148.50" y1="452.1" y2="455.6" stroke="#000" stroke-width="1.0"/>
<line x1="175.60" x2="175.60" y1="452.1" y2="455.6" stroke="#000" stroke-width="1.0"/>
<line x1="199.90" x2="199.90" y1="452.1" y2="455.6" stroke="#000" stroke-width="1.0"/>
<line x1="109.50" x2="109.50" y1="452.1" y2="455.6" stroke="#000" stroke-width="1.0"/>
<line x1="132.63" x2="132.63" y1="452.1" y2="454.40000000000003" stroke="#000" stroke-width="0.75"/>
<line x1="125.37" x2="125.37" y1="452.1" y2="454.40000000000003" stroke="#000" stroke-width="0.75"/>
<line x1="135.82" x2="135.82" y1="452.1" y2="454.40000000000003" stroke="#000" stroke-width="0.75"/>
<line x1="122.18" x2="122.18" y1="452.1" y2="454.40000000000003" stroke="#000" stroke-width="0.75"/>
<line x1="138.46" x2="138.46" y1="452.1" y2="454.40000000000003" stroke="#000" stroke-width="0.75"/>
<line x1="119.54" x2="119.54" y1="452.1" y2="454.40000000000003" stroke="#000" stroke-width="0.75"/>
<line x1="140.63" x2="140.63" y1="452.1" y2="454.40000000000003" stroke="#000" stroke-width="0.75"/>
<line x1="117.37" x2="117.37" y1="452.1" y2="454.40000000000003" stroke="#000" stroke-width="0.75"/>
<line x1="142.44" x2="142.44" y1="452.1" y2="454.40000000000003" stroke="#000" stroke-width="0.75"/>
<line x1="115.56" x2="115.56" y1="452.1" y2="454.40000000000003" stroke="#000" stroke-width="0.75"/>
<line x1="143.98" x2="143.98" y1="452.1" y2="454.40000000000003" stroke="#000" stroke-width="0.75"/>
<line x1="114.02" x2="114.02" y1="452.1" y2="454.40000000000003" stroke="#000" stroke-width="0.75"/>
<line x1="145.32" x2="145.32" y1="452.1" y2="454.40000000000003" stroke="#000" stroke-width="0.75"/>
<line x1="112.68" x2="112.68" y1="452.1" y2="454.40000000000003" stroke="#000" stroke-width="0.75"/>
<line x1="146.50" x2="146.50" y1="452.1" y2="454.40000000000003" stroke="#000" stroke-width="0.75"/>
<line x1="111.50" x2="111.50" y1="452.1" y2="454.40000000000003" stroke="#000" stroke-width="0.75"/>
<line x1="147.55" x2="147.55" y1="452.1" y2="454.40000000000003" stroke="#000" stroke-width="0.75"/>
<line x1="110.45" x2="110.45" y1="452.1" y2="454.40000000000003" stroke="#000" stroke-width="0.75"/>
<line x1="156.66" x2="156.66" y1="452.1" y2="454.40000000000003" stroke="#000" stroke-width="0.75"/>
<line x1="182.92" x2="182.92" y1="452.1" y2="454.40000000000003" stroke="#000" stroke-width="0.75"/>
<line x1="207.22" x2="207.22" y1="452.1" y2="454.40000000000003" stroke="#000" stroke-width="0.75"/>
<line x1="161.43" x2="161.43" y1="452.1" y2="454.40000000000003" stroke="#000" stroke-width="0.75"/>
<line x1="187.19" x2="187.19" y1="452.1" y2="454.40000000000003" stroke="#000" stroke-width="0.75"/>
<line x1="164.82" x2="164.82" y1="452.1" y2="454.40000000000003" stroke="#000" stroke-width="0.75"/>
<line x1="190.23" x2="190.23" y1="452.1" y2="454.40000000000003" stroke="#000" stroke-width="0.75"/>
<line x1="167.44" x2="167.44" y1="452.1" y2="454.40000000000003" stroke="#000" stroke-width="0.75"/>
<line x1="192.58" x2="192.58" y1="452.1" y2="454.40000000000003" stroke="#000" stroke-width="0.75"/>
<line x1="169.59" x2="169.59" y1="452.1" y2="454.40000000000003" stroke="#000" stroke-width="0.75"/>
<line x1="194.51" x2="194.51" y1="452.1" y2="454.40000000000003" stroke="#000" stroke-width="0.75"/>
<line x1="171.40" x2="171.40" y1="452.1" y2="454.40000000000003" stroke="#000" stroke-width="0.75"/>
<line x1="196.14" x2="196.14" y1="452.1" y2="454.40000000000003" stroke="#000" stroke-width="0.75"/>
<line x1="172.97" x2="172.97" y1="452.1" y2="454.40000000000003" stroke="#000" stroke-width="0.75"/>
<line x1="197.55" x2="197.55" y1="452.1" y2="454.40000000000003" stroke="#000" stroke-width="0.75"/>
<line x1="174.36" x2="174.36" y1="452.1" y2="454.40000000000003" stroke="#000" stroke-width="0.75"/>
<line x1="198.79" x2="198.79" y1="452.1" y2="454.40000000000003" stroke="#000" stroke-width="0.75"/>
<text transform="translate(129.00,464.90) scale(0.86,1)" font-size="8.5" text-anchor="middle" fill="#000" stroke="#000" stroke-width="0.18">0</text>
<text transform="translate(147.30,464.90) scale(0.86,1)" font-size="8.5" text-anchor="middle" fill="#000" stroke="#000" stroke-width="0.18">10</text>
<text transform="translate(151.80,461.30) scale(0.9,1)" font-size="5.2" text-anchor="start" fill="#000" stroke="#000" stroke-width="0.18">3</text>
<text transform="translate(174.40,464.90) scale(0.86,1)" font-size="8.5" text-anchor="middle" fill="#000" stroke="#000" stroke-width="0.18">10</text>
<text transform="translate(178.90,461.30) scale(0.9,1)" font-size="5.2" text-anchor="start" fill="#000" stroke="#000" stroke-width="0.18">4</text>
<text transform="translate(198.70,464.90) scale(0.86,1)" font-size="8.5" text-anchor="middle" fill="#000" stroke="#000" stroke-width="0.18">10</text>
<text transform="translate(203.20,461.30) scale(0.9,1)" font-size="5.2" text-anchor="start" fill="#000" stroke="#000" stroke-width="0.18">5</text>
<text transform="translate(157.70,340.80) scale(0.8439,1)" font-size="9.6" text-anchor="middle" fill="#000" stroke="#000" stroke-width="0.18">CM</text>
<path d="M185.75,408.5 H204.1 M185.75,405.7 V411.3 M204.1,405.7 V411.3" stroke="#3a3a3a" stroke-width="1" fill="none"/>
<text transform="translate(194.70,406.00) scale(0.8665,1)" font-size="8.3" text-anchor="middle" fill="#222" stroke="#222" stroke-width="0.18">0</text>
<clipPath id="c6"><rect x="234.0" y="347.2" width="104.60000000000002" height="105.50000000000003"/></clipPath>
<g clip-path="url(#c6)">
<path d="M234.50,452.35 L234.90,452.35 L235.30,452.35 L235.70,452.35 L236.10,452.35 L236.50,452.35 L236.90,452.35 L237.30,452.35 L237.70,452.34 L238.10,452.34 L238.50,452.34 L238.90,452.34 L239.30,452.33 L239.70,452.33 L240.10,452.33 L240.50,452.32 L240.90,452.32 L241.30,452.31 L241.70,452.31 L242.10,452.30 L242.50,452.29 L242.90,452.29 L243.30,452.28 L243.70,452.27 L244.10,452.26 L244.50,452.25 L244.90,452.24 L245.30,452.23 L245.70,452.22 L246.10,452.20 L246.50,452.19 L246.90,452.17 L247.30,452.16 L247.70,452.14 L248.10,452.13 L248.50,452.11 L248.90,452.09 L249.30,452.07 L249.70,452.05 L250.10,452.03 L250.50,452.00 L250.90,451.98 L251.30,451.95 L251.70,451.93 L252.10,451.90 L252.50,451.87 L252.90,451.84 L253.30,451.81 L253.70,451.78 L254.10,451.63 L254.50,451.04 L254.90,450.17 L255.30,449.15 L255.70,447.70 L256.10,445.81 L256.50,443.34 L256.90,440.05 L257.30,436.29 L257.70,432.04 L258.10,427.00 L258.50,420.66 L258.90,412.41 L259.30,403.77 L259.70,394.71 L260.10,385.57 L260.50,376.20 L260.90,367.86 L261.30,360.61 L261.70,356.66 L262.10,354.88 L262.50,357.23 L262.90,362.40 L263.30,371.90 L263.70,382.40 L264.10,392.84 L264.50,402.00 L264.90,410.61 L265.30,419.17 L265.70,426.50 L266.10,432.23 L266.50,436.64 L266.90,439.70 L267.30,442.09 L267.70,443.63 L268.10,444.71 L268.50,445.56 L268.90,446.22 L269.30,446.78 L269.70,447.24 L270.10,447.64 L270.50,448.00 L270.90,448.34 L271.30,448.69 L271.70,449.04 L272.10,449.38 L272.50,449.70 L272.90,450.00 L273.30,450.28 L273.70,450.57 L274.10,450.88 L274.50,451.18 L274.90,451.45 L275.30,451.65 L275.70,451.76 L276.10,451.78 L276.50,451.79 L276.90,451.80 L277.30,451.81 L277.70,451.82 L278.10,451.83 L278.50,451.84 L278.90,451.85 L279.30,451.85 L279.70,451.86 L280.10,451.87 L280.50,451.88 L280.90,451.89 L281.30,451.90 L281.70,451.91 L282.10,451.92 L282.50,451.93 L282.90,451.93 L283.30,451.94 L283.70,451.95 L284.10,451.96 L284.50,451.97 L284.90,451.98 L285.30,451.98 L285.70,451.99 L286.10,452.00 L286.50,452.01 L286.90,452.01 L287.30,452.02 L287.70,452.03 L288.10,452.03 L288.50,452.04 L288.90,452.05 L289.30,452.06 L289.70,452.06 L290.10,452.07 L290.50,452.07 L290.90,452.08 L291.30,452.09 L291.70,452.09 L292.10,452.10 L292.50,452.11 L292.90,452.11 L293.30,452.12 L293.70,452.12 L294.10,452.13 L294.50,452.13 L294.90,452.14 L295.30,452.14 L295.70,452.15 L296.10,452.15 L296.50,452.16 L296.90,452.16 L297.30,452.17 L297.70,452.17 L298.10,452.18 L298.50,452.18 L298.90,452.19 L299.30,452.19 L299.70,452.20 L300.10,452.20 L300.50,452.21 L300.90,452.21 L301.30,452.21 L301.70,452.22 L302.10,452.22 L302.50,452.23 L302.90,452.23 L303.30,452.23 L303.70,452.24 L304.10,452.24 L304.50,452.24 L304.90,452.25 L305.30,452.25 L305.70,452.25 L306.10,452.26 L306.50,452.26 L306.90,452.26 L307.30,452.27 L307.70,452.27 L308.10,452.27 L308.50,452.27 L308.90,452.28 L309.30,452.28 L309.70,452.28 L310.10,452.28 L310.50,452.29 L310.90,452.29 L311.30,452.29 L311.70,452.29 L312.10,452.30 L312.50,452.30 L312.90,452.30 L313.30,452.30 L313.70,452.30 L314.10,452.31 L314.50,452.31 L314.90,452.31 L315.30,452.31 L315.70,452.31 L316.10,452.32 L316.50,452.32 L316.90,452.32 L317.30,452.32 L317.70,452.32 L318.10,452.32 L318.50,452.32 L318.90,452.33 L319.30,452.33 L319.70,452.33 L320.10,452.33 L320.50,452.33 L320.90,452.33 L321.30,452.33 L321.70,452.33 L322.10,452.33 L322.50,452.34 L322.90,452.34 L323.30,452.34 L323.70,452.34 L324.10,452.34 L324.50,452.34 L324.90,452.34 L325.30,452.34 L325.70,452.34 L326.10,452.34 L326.50,452.34 L326.90,452.34 L327.30,452.34 L327.70,452.34 L328.10,452.35 L328.50,452.35 L328.90,452.35 L329.30,452.35 L329.70,452.35 L330.10,452.35 L330.50,452.35 L330.90,452.35 L331.30,452.35 L331.70,452.35 L332.10,452.35 L332.50,452.35 L332.90,452.35 L333.30,452.35 L333.70,452.35 L334.10,452.35 L334.50,452.35 L334.90,452.35 L335.30,452.35 L335.70,452.35 L336.10,452.35 L336.50,452.35 L336.90,452.35 L337.30,452.35 L337.70,452.35 L338.10,452.35 L338.10,452.10 L234.50,452.10 Z" fill="#8D96BE" stroke="none"/>
<path d="M234.50,452.35 L234.90,452.35 L235.30,452.35 L235.70,452.35 L236.10,452.35 L236.50,452.35 L236.90,452.35 L237.30,452.35 L237.70,452.34 L238.10,452.34 L238.50,452.34 L238.90,452.34 L239.30,452.33 L239.70,452.33 L240.10,452.33 L240.50,452.32 L240.90,452.32 L241.30,452.31 L241.70,452.31 L242.10,452.30 L242.50,452.29 L242.90,452.29 L243.30,452.28 L243.70,452.27 L244.10,452.26 L244.50,452.25 L244.90,452.24 L245.30,452.23 L245.70,452.22 L246.10,452.20 L246.50,452.19 L246.90,452.17 L247.30,452.16 L247.70,452.14 L248.10,452.13 L248.50,452.11 L248.90,452.09 L249.30,452.07 L249.70,452.05 L250.10,452.03 L250.50,452.00 L250.90,451.98 L251.30,451.95 L251.70,451.93 L252.10,451.90 L252.50,451.87 L252.90,451.84 L253.30,451.81 L253.70,451.78 L254.10,451.63 L254.50,451.04 L254.90,450.17 L255.30,449.15 L255.70,447.70 L256.10,445.81 L256.50,443.34 L256.90,440.05 L257.30,436.29 L257.70,432.04 L258.10,427.00 L258.50,420.66 L258.90,412.41 L259.30,403.77 L259.70,394.71 L260.10,385.57 L260.50,376.20 L260.90,367.86 L261.30,360.61 L261.70,356.66 L262.10,354.88 L262.50,357.23 L262.90,362.40 L263.30,371.90 L263.70,382.40 L264.10,392.84 L264.50,402.00 L264.90,410.61 L265.30,419.17 L265.70,426.50 L266.10,432.23 L266.50,436.64 L266.90,439.70 L267.30,442.09 L267.70,443.63 L268.10,444.71 L268.50,445.56 L268.90,446.22 L269.30,446.78 L269.70,447.24 L270.10,447.64 L270.50,448.00 L270.90,448.34 L271.30,448.69 L271.70,449.04 L272.10,449.38 L272.50,449.70 L272.90,450.00 L273.30,450.28 L273.70,450.57 L274.10,450.88 L274.50,451.18 L274.90,451.45 L275.30,451.65 L275.70,451.76 L276.10,451.78 L276.50,451.79 L276.90,451.80 L277.30,451.81 L277.70,451.82 L278.10,451.83 L278.50,451.84 L278.90,451.85 L279.30,451.85 L279.70,451.86 L280.10,451.87 L280.50,451.88 L280.90,451.89 L281.30,451.90 L281.70,451.91 L282.10,451.92 L282.50,451.93 L282.90,451.93 L283.30,451.94 L283.70,451.95 L284.10,451.96 L284.50,451.97 L284.90,451.98 L285.30,451.98 L285.70,451.99 L286.10,452.00 L286.50,452.01 L286.90,452.01 L287.30,452.02 L287.70,452.03 L288.10,452.03 L288.50,452.04 L288.90,452.05 L289.30,452.06 L289.70,452.06 L290.10,452.07 L290.50,452.07 L290.90,452.08 L291.30,452.09 L291.70,452.09 L292.10,452.10 L292.50,452.11 L292.90,452.11 L293.30,452.12 L293.70,452.12 L294.10,452.13 L294.50,452.13 L294.90,452.14 L295.30,452.14 L295.70,452.15 L296.10,452.15 L296.50,452.16 L296.90,452.16 L297.30,452.17 L297.70,452.17 L298.10,452.18 L298.50,452.18 L298.90,452.19 L299.30,452.19 L299.70,452.20 L300.10,452.20 L300.50,452.21 L300.90,452.21 L301.30,452.21 L301.70,452.22 L302.10,452.22 L302.50,452.23 L302.90,452.23 L303.30,452.23 L303.70,452.24 L304.10,452.24 L304.50,452.24 L304.90,452.25 L305.30,452.25 L305.70,452.25 L306.10,452.26 L306.50,452.26 L306.90,452.26 L307.30,452.27 L307.70,452.27 L308.10,452.27 L308.50,452.27 L308.90,452.28 L309.30,452.28 L309.70,452.28 L310.10,452.28 L310.50,452.29 L310.90,452.29 L311.30,452.29 L311.70,452.29 L312.10,452.30 L312.50,452.30 L312.90,452.30 L313.30,452.30 L313.70,452.30 L314.10,452.31 L314.50,452.31 L314.90,452.31 L315.30,452.31 L315.70,452.31 L316.10,452.32 L316.50,452.32 L316.90,452.32 L317.30,452.32 L317.70,452.32 L318.10,452.32 L318.50,452.32 L318.90,452.33 L319.30,452.33 L319.70,452.33 L320.10,452.33 L320.50,452.33 L320.90,452.33 L321.30,452.33 L321.70,452.33 L322.10,452.33 L322.50,452.34 L322.90,452.34 L323.30,452.34 L323.70,452.34 L324.10,452.34 L324.50,452.34 L324.90,452.34 L325.30,452.34 L325.70,452.34 L326.10,452.34 L326.50,452.34 L326.90,452.34 L327.30,452.34 L327.70,452.34 L328.10,452.35 L328.50,452.35 L328.90,452.35 L329.30,452.35 L329.70,452.35 L330.10,452.35 L330.50,452.35 L330.90,452.35 L331.30,452.35 L331.70,452.35 L332.10,452.35 L332.50,452.35 L332.90,452.35 L333.30,452.35 L333.70,452.35 L334.10,452.35 L334.50,452.35 L334.90,452.35 L335.30,452.35 L335.70,452.35 L336.10,452.35 L336.50,452.35 L336.90,452.35 L337.30,452.35 L337.70,452.35 L338.10,452.35" fill="none" stroke="#1F3A75" stroke-width="1.25" stroke-linejoin="round"/>
<path d="M234.50,451.56 L234.90,451.56 L235.30,451.56 L235.70,451.56 L236.10,451.56 L236.50,451.56 L236.90,451.56 L237.30,451.56 L237.70,451.56 L238.10,451.56 L238.50,451.56 L238.90,451.56 L239.30,451.56 L239.70,451.56 L240.10,451.56 L240.50,451.56 L240.90,451.56 L241.30,451.56 L241.70,451.56 L242.10,451.56 L242.50,451.56 L242.90,451.56 L243.30,451.56 L243.70,451.56 L244.10,451.56 L244.50,451.56 L244.90,451.56 L245.30,451.56 L245.70,451.56 L246.10,451.56 L246.50,451.56 L246.90,451.56 L247.30,451.56 L247.70,451.56 L248.10,451.56 L248.50,451.56 L248.90,451.56 L249.30,451.56 L249.70,451.56 L250.10,451.56 L250.50,451.56 L250.90,451.56 L251.30,451.56 L251.70,451.56 L252.10,451.56 L252.50,451.56 L252.90,451.56 L253.30,451.56 L253.70,451.56 L254.10,451.56 L254.50,451.56 L254.90,451.56 L255.30,451.56 L255.70,451.56 L256.10,451.56 L256.50,451.56 L256.90,451.56 L257.30,451.56 L257.70,451.56 L258.10,451.56 L258.50,451.56 L258.90,451.54 L259.30,451.50 L259.70,451.43 L260.10,451.35 L260.50,451.26 L260.90,451.17 L261.30,451.05 L261.70,450.86 L262.10,450.66 L262.50,450.53 L262.90,450.51 L263.30,450.64 L263.70,450.83 L264.10,451.02 L264.50,451.15 L264.90,451.25 L265.30,451.34 L265.70,451.42 L266.10,451.49 L266.50,451.54 L266.90,451.56 L267.30,451.56 L267.70,451.56 L268.10,451.56 L268.50,451.55 L268.90,451.55 L269.30,451.55 L269.70,451.55 L270.10,451.55 L270.50,451.54 L270.90,451.54 L271.30,451.53 L271.70,451.53 L272.10,451.52 L272.50,451.52 L272.90,451.51 L273.30,451.50 L273.70,451.49 L274.10,451.49 L274.50,451.48 L274.90,451.47 L275.30,451.46 L275.70,451.45 L276.10,451.43 L276.50,451.42 L276.90,451.41 L277.30,451.40 L277.70,451.38 L278.10,451.37 L278.50,451.35 L278.90,451.31 L279.30,451.22 L279.70,451.11 L280.10,451.00 L280.50,450.93 L280.90,450.93 L281.30,450.96 L281.70,451.02 L282.10,451.08 L282.50,451.12 L282.90,451.13 L283.30,451.08 L283.70,450.95 L284.10,450.77 L284.50,450.55 L284.90,450.31 L285.30,449.94 L285.70,449.38 L286.10,448.85 L286.50,448.57 L286.90,448.45 L287.30,448.37 L287.70,448.29 L288.10,448.18 L288.50,448.03 L288.90,447.85 L289.30,447.60 L289.70,447.24 L290.10,446.41 L290.50,444.51 L290.90,442.02 L291.30,438.29 L291.70,433.42 L292.10,428.37 L292.50,422.87 L292.90,417.01 L293.30,410.87 L293.70,404.38 L294.10,397.89 L294.50,391.22 L294.90,384.78 L295.30,379.27 L295.70,374.37 L296.10,369.91 L296.50,365.77 L296.90,361.69 L297.30,358.36 L297.70,356.18 L298.10,354.65 L298.50,354.89 L298.90,357.11 L299.30,360.55 L299.70,366.78 L300.10,373.90 L300.50,382.08 L300.90,390.05 L301.30,397.44 L301.70,404.52 L302.10,411.38 L302.50,418.14 L302.90,423.98 L303.30,428.69 L303.70,432.80 L304.10,436.26 L304.50,439.21 L304.90,441.86 L305.30,443.85 L305.70,444.96 L306.10,445.84 L306.50,446.52 L306.90,446.97 L307.30,447.17 L307.70,447.30 L308.10,447.40 L308.50,447.48 L308.90,447.52 L309.30,447.54 L309.70,447.51 L310.10,447.42 L310.50,447.30 L310.90,447.14 L311.30,446.95 L311.70,446.63 L312.10,446.05 L312.50,445.34 L312.90,444.63 L313.30,444.01 L313.70,443.31 L314.10,442.79 L314.50,442.70 L314.90,442.99 L315.30,443.48 L315.70,444.70 L316.10,446.10 L316.50,447.02 L316.90,447.81 L317.30,448.17 L317.70,448.11 L318.10,447.92 L318.50,447.61 L318.90,446.49 L319.30,443.80 L319.70,440.69 L320.10,437.01 L320.50,432.73 L320.90,428.19 L321.30,423.09 L321.70,418.42 L322.10,414.47 L322.50,411.02 L322.90,409.21 L323.30,408.23 L323.70,407.57 L324.10,407.35 L324.50,407.40 L324.90,407.53 L325.30,407.74 L325.70,408.44 L326.10,410.04 L326.50,412.16 L326.90,415.77 L327.30,420.33 L327.70,424.93 L328.10,429.97 L328.50,434.65 L328.90,438.76 L329.30,442.43 L329.70,445.07 L330.10,447.15 L330.50,448.78 L330.90,449.74 L331.30,450.33 L331.70,450.81 L332.10,451.14 L332.50,451.34 L332.90,451.43 L333.30,451.50 L333.70,451.55 L334.10,451.59 L334.50,451.62 L334.90,451.66 L335.30,451.71 L335.70,451.77 L336.10,451.84 L336.50,451.93 L336.90,452.02 L337.30,452.13 L337.70,452.24 L338.10,452.35" fill="none" stroke="#A5123A" stroke-width="1.35" stroke-linejoin="round"/>
<path d="M303.70,451.80 L304.10,451.79 L304.50,451.78 L304.90,451.77 L305.30,451.76 L305.70,451.75 L306.10,451.73 L306.50,451.71 L306.90,451.69 L307.30,451.66 L307.70,451.63 L308.10,451.59 L308.50,451.55 L308.90,451.50 L309.30,451.45 L309.70,451.40 L310.10,451.34 L310.50,451.28 L310.90,451.22 L311.30,451.15 L311.70,451.07 L312.10,450.97 L312.50,450.84 L312.90,450.68 L313.30,450.49 L313.70,450.26 L314.10,450.00 L314.50,449.70 L314.90,449.27 L315.30,448.58 L315.70,447.66 L316.10,446.55 L316.50,445.29 L316.90,443.60 L317.30,441.35 L317.70,438.70 L318.10,435.74 L318.50,432.13 L318.90,427.89 L319.30,423.18 L319.70,417.59 L320.10,411.33 L320.50,404.93 L320.90,398.38 L321.30,391.60 L321.70,384.90 L322.10,378.20 L322.50,371.61 L322.90,365.93 L323.30,360.84 L323.70,357.35 L324.10,355.23 L324.50,355.31 L324.90,357.79 L325.30,361.52 L325.70,368.02 L326.10,376.00 L326.50,385.92 L326.90,396.60 L327.30,407.86 L327.70,418.59 L328.10,428.45 L328.50,436.65 L328.90,442.80 L329.30,447.13 L329.70,449.18 L330.10,450.57 L330.50,451.20 L330.90,451.48 L331.30,451.67 L331.70,451.77" fill="none" stroke="#58A21F" stroke-width="1.3" stroke-dasharray="1.6,1.5"/>
</g>
<rect x="234.0" y="347.2" width="104.60000000000002" height="104.90000000000003" fill="none" stroke="#000" stroke-width="1.15"/>
<path d="M234.0,346.7 V452.70000000000005 H339.1" fill="none" stroke="#000" stroke-width="1.4"/>
<line x1="230.8" x2="234.0" y1="452.10" y2="452.10" stroke="#000" stroke-width="0.9"/>
<text transform="translate(228.00,454.95) scale(0.86,1)" font-size="8.5" text-anchor="end" fill="#000" stroke="#000" stroke-width="0.18">0</text>
<line x1="232.5" x2="234.0" y1="447.09" y2="447.09" stroke="#000" stroke-width="0.5"/>
<line x1="232.5" x2="234.0" y1="442.07" y2="442.07" stroke="#000" stroke-width="0.5"/>
<line x1="232.5" x2="234.0" y1="437.06" y2="437.06" stroke="#000" stroke-width="0.5"/>
<line x1="230.8" x2="234.0" y1="432.04" y2="432.04" stroke="#000" stroke-width="0.9"/>
<text transform="translate(228.00,434.89) scale(0.86,1)" font-size="8.5" text-anchor="end" fill="#000" stroke="#000" stroke-width="0.18">20</text>
<line x1="232.5" x2="234.0" y1="427.03" y2="427.03" stroke="#000" stroke-width="0.5"/>
<line x1="232.5" x2="234.0" y1="422.01" y2="422.01" stroke="#000" stroke-width="0.5"/>
<line x1="232.5" x2="234.0" y1="417.00" y2="417.00" stroke="#000" stroke-width="0.5"/>
<line x1="230.8" x2="234.0" y1="411.98" y2="411.98" stroke="#000" stroke-width="0.9"/>
<text transform="translate(228.00,414.83) scale(0.86,1)" font-size="8.5" text-anchor="end" fill="#000" stroke="#000" stroke-width="0.18">40</text>
<line x1="232.5" x2="234.0" y1="406.97" y2="406.97" stroke="#000" stroke-width="0.5"/>
<line x1="232.5" x2="234.0" y1="401.95" y2="401.95" stroke="#000" stroke-width="0.5"/>
<line x1="232.5" x2="234.0" y1="396.94" y2="396.94" stroke="#000" stroke-width="0.5"/>
<line x1="230.8" x2="234.0" y1="391.92" y2="391.92" stroke="#000" stroke-width="0.9"/>
<text transform="translate(228.00,394.77) scale(0.86,1)" font-size="8.5" text-anchor="end" fill="#000" stroke="#000" stroke-width="0.18">60</text>
<line x1="232.5" x2="234.0" y1="386.91" y2="386.91" stroke="#000" stroke-width="0.5"/>
<line x1="232.5" x2="234.0" y1="381.89" y2="381.89" stroke="#000" stroke-width="0.5"/>
<line x1="232.5" x2="234.0" y1="376.88" y2="376.88" stroke="#000" stroke-width="0.5"/>
<line x1="230.8" x2="234.0" y1="371.86" y2="371.86" stroke="#000" stroke-width="0.9"/>
<text transform="translate(228.00,374.71) scale(0.86,1)" font-size="8.5" text-anchor="end" fill="#000" stroke="#000" stroke-width="0.18">80</text>
<line x1="232.5" x2="234.0" y1="366.85" y2="366.85" stroke="#000" stroke-width="0.5"/>
<line x1="232.5" x2="234.0" y1="361.83" y2="361.83" stroke="#000" stroke-width="0.5"/>
<line x1="232.5" x2="234.0" y1="356.81" y2="356.81" stroke="#000" stroke-width="0.5"/>
<line x1="230.8" x2="234.0" y1="351.80" y2="351.80" stroke="#000" stroke-width="0.9"/>
<text transform="translate(228.00,354.65) scale(0.86,1)" font-size="8.5" text-anchor="end" fill="#000" stroke="#000" stroke-width="0.18">100</text>
<line x1="257.20" x2="257.20" y1="452.1" y2="455.6" stroke="#000" stroke-width="1.0"/>
<line x1="276.60" x2="276.60" y1="452.1" y2="455.6" stroke="#000" stroke-width="1.0"/>
<line x1="305.20" x2="305.20" y1="452.1" y2="455.6" stroke="#000" stroke-width="1.0"/>
<line x1="328.80" x2="328.80" y1="452.1" y2="455.6" stroke="#000" stroke-width="1.0"/>
<line x1="237.80" x2="237.80" y1="452.1" y2="455.6" stroke="#000" stroke-width="1.0"/>
<line x1="260.81" x2="260.81" y1="452.1" y2="454.40000000000003" stroke="#000" stroke-width="0.75"/>
<line x1="253.59" x2="253.59" y1="452.1" y2="454.40000000000003" stroke="#000" stroke-width="0.75"/>
<line x1="263.99" x2="263.99" y1="452.1" y2="454.40000000000003" stroke="#000" stroke-width="0.75"/>
<line x1="250.41" x2="250.41" y1="452.1" y2="454.40000000000003" stroke="#000" stroke-width="0.75"/>
<line x1="266.61" x2="266.61" y1="452.1" y2="454.40000000000003" stroke="#000" stroke-width="0.75"/>
<line x1="247.79" x2="247.79" y1="452.1" y2="454.40000000000003" stroke="#000" stroke-width="0.75"/>
<line x1="268.77" x2="268.77" y1="452.1" y2="454.40000000000003" stroke="#000" stroke-width="0.75"/>
<line x1="245.63" x2="245.63" y1="452.1" y2="454.40000000000003" stroke="#000" stroke-width="0.75"/>
<line x1="270.57" x2="270.57" y1="452.1" y2="454.40000000000003" stroke="#000" stroke-width="0.75"/>
<line x1="243.83" x2="243.83" y1="452.1" y2="454.40000000000003" stroke="#000" stroke-width="0.75"/>
<line x1="272.11" x2="272.11" y1="452.1" y2="454.40000000000003" stroke="#000" stroke-width="0.75"/>
<line x1="242.29" x2="242.29" y1="452.1" y2="454.40000000000003" stroke="#000" stroke-width="0.75"/>
<line x1="273.44" x2="273.44" y1="452.1" y2="454.40000000000003" stroke="#000" stroke-width="0.75"/>
<line x1="240.96" x2="240.96" y1="452.1" y2="454.40000000000003" stroke="#000" stroke-width="0.75"/>
<line x1="274.61" x2="274.61" y1="452.1" y2="454.40000000000003" stroke="#000" stroke-width="0.75"/>
<line x1="239.79" x2="239.79" y1="452.1" y2="454.40000000000003" stroke="#000" stroke-width="0.75"/>
<line x1="275.66" x2="275.66" y1="452.1" y2="454.40000000000003" stroke="#000" stroke-width="0.75"/>
<line x1="238.74" x2="238.74" y1="452.1" y2="454.40000000000003" stroke="#000" stroke-width="0.75"/>
<line x1="285.21" x2="285.21" y1="452.1" y2="454.40000000000003" stroke="#000" stroke-width="0.75"/>
<line x1="312.30" x2="312.30" y1="452.1" y2="454.40000000000003" stroke="#000" stroke-width="0.75"/>
<line x1="335.90" x2="335.90" y1="452.1" y2="454.40000000000003" stroke="#000" stroke-width="0.75"/>
<line x1="290.25" x2="290.25" y1="452.1" y2="454.40000000000003" stroke="#000" stroke-width="0.75"/>
<line x1="316.46" x2="316.46" y1="452.1" y2="454.40000000000003" stroke="#000" stroke-width="0.75"/>
<line x1="293.82" x2="293.82" y1="452.1" y2="454.40000000000003" stroke="#000" stroke-width="0.75"/>
<line x1="319.41" x2="319.41" y1="452.1" y2="454.40000000000003" stroke="#000" stroke-width="0.75"/>
<line x1="296.59" x2="296.59" y1="452.1" y2="454.40000000000003" stroke="#000" stroke-width="0.75"/>
<line x1="321.70" x2="321.70" y1="452.1" y2="454.40000000000003" stroke="#000" stroke-width="0.75"/>
<line x1="298.86" x2="298.86" y1="452.1" y2="454.40000000000003" stroke="#000" stroke-width="0.75"/>
<line x1="323.56" x2="323.56" y1="452.1" y2="454.40000000000003" stroke="#000" stroke-width="0.75"/>
<line x1="300.77" x2="300.77" y1="452.1" y2="454.40000000000003" stroke="#000" stroke-width="0.75"/>
<line x1="325.14" x2="325.14" y1="452.1" y2="454.40000000000003" stroke="#000" stroke-width="0.75"/>
<line x1="302.43" x2="302.43" y1="452.1" y2="454.40000000000003" stroke="#000" stroke-width="0.75"/>
<line x1="326.51" x2="326.51" y1="452.1" y2="454.40000000000003" stroke="#000" stroke-width="0.75"/>
<line x1="303.89" x2="303.89" y1="452.1" y2="454.40000000000003" stroke="#000" stroke-width="0.75"/>
<line x1="327.72" x2="327.72" y1="452.1" y2="454.40000000000003" stroke="#000" stroke-width="0.75"/>
<text transform="translate(257.20,464.90) scale(0.86,1)" font-size="8.5" text-anchor="middle" fill="#000" stroke="#000" stroke-width="0.18">0</text>
<text transform="translate(275.40,464.90) scale(0.86,1)" font-size="8.5" text-anchor="middle" fill="#000" stroke="#000" stroke-width="0.18">10</text>
<text transform="translate(279.90,461.30) scale(0.9,1)" font-size="5.2" text-anchor="start" fill="#000" stroke="#000" stroke-width="0.18">3</text>
<text transform="translate(304.00,464.90) scale(0.86,1)" font-size="8.5" text-anchor="middle" fill="#000" stroke="#000" stroke-width="0.18">10</text>
<text transform="translate(308.50,461.30) scale(0.9,1)" font-size="5.2" text-anchor="start" fill="#000" stroke="#000" stroke-width="0.18">4</text>
<text transform="translate(327.60,464.90) scale(0.86,1)" font-size="8.5" text-anchor="middle" fill="#000" stroke="#000" stroke-width="0.18">10</text>
<text transform="translate(332.10,461.30) scale(0.9,1)" font-size="5.2" text-anchor="start" fill="#000" stroke="#000" stroke-width="0.18">5</text>
<text transform="translate(286.15,340.80) scale(0.8542,1)" font-size="9.6" text-anchor="middle" fill="#000" stroke="#000" stroke-width="0.18">EM</text>
<path d="M314.4,407.9 H332.5 M314.4,405.09999999999997 V410.7 M332.5,405.09999999999997 V410.7" stroke="#3a3a3a" stroke-width="1" fill="none"/>
<text transform="translate(322.70,404.90) scale(0.8047,1)" font-size="8.3" text-anchor="middle" fill="#222" stroke="#222" stroke-width="0.18">27.4</text>
<clipPath id="c7"><rect x="362.4" y="347.2" width="105.30000000000001" height="105.50000000000003"/></clipPath>
<g clip-path="url(#c7)">
<path d="M362.90,452.35 L363.30,452.35 L363.70,452.35 L364.10,452.35 L364.50,452.35 L364.90,452.35 L365.30,452.35 L365.70,452.35 L366.10,452.34 L366.50,452.34 L366.90,452.34 L367.30,452.34 L367.70,452.33 L368.10,452.33 L368.50,452.33 L368.90,452.32 L369.30,452.32 L369.70,452.31 L370.10,452.30 L370.50,452.30 L370.90,452.29 L371.30,452.28 L371.70,452.28 L372.10,452.27 L372.50,452.26 L372.90,452.25 L373.30,452.24 L373.70,452.22 L374.10,452.21 L374.50,452.20 L374.90,452.19 L375.30,452.17 L375.70,452.15 L376.10,452.14 L376.50,452.12 L376.90,452.10 L377.30,452.08 L377.70,452.06 L378.10,452.04 L378.50,452.02 L378.90,452.00 L379.30,451.98 L379.70,451.95 L380.10,451.92 L380.50,451.90 L380.90,451.87 L381.30,451.84 L381.70,451.81 L382.10,451.78 L382.50,451.64 L382.90,451.18 L383.30,450.47 L383.70,449.64 L384.10,448.43 L384.50,446.70 L384.90,444.56 L385.30,441.71 L385.70,438.07 L386.10,433.28 L386.50,426.90 L386.90,419.76 L387.30,411.59 L387.70,403.00 L388.10,393.91 L388.50,384.79 L388.90,375.55 L389.30,367.03 L389.70,359.23 L390.10,355.09 L390.50,353.42 L390.90,355.17 L391.30,359.20 L391.70,362.59 L392.10,363.71 L392.50,368.21 L392.90,375.75 L393.30,385.48 L393.70,394.13 L394.10,402.03 L394.50,409.56 L394.90,416.70 L395.30,422.63 L395.70,427.78 L396.10,432.06 L396.50,435.48 L396.90,438.33 L397.30,440.45 L397.70,442.04 L398.10,443.28 L398.50,444.20 L398.90,445.01 L399.30,445.42 L399.70,445.15 L400.10,444.58 L400.50,444.39 L400.90,444.86 L401.30,445.50 L401.70,446.29 L402.10,446.99 L402.50,447.06 L402.90,446.74 L403.30,446.49 L403.70,446.83 L404.10,447.63 L404.50,447.96 L404.90,447.83 L405.30,447.63 L405.70,447.54 L406.10,447.86 L406.50,448.52 L406.90,449.16 L407.30,449.58 L407.70,449.96 L408.10,450.31 L408.50,450.61 L408.90,450.87 L409.30,451.14 L409.70,451.40 L410.10,451.60 L410.50,451.74 L410.90,451.77 L411.30,451.78 L411.70,451.80 L412.10,451.81 L412.50,451.82 L412.90,451.83 L413.30,451.84 L413.70,451.85 L414.10,451.86 L414.50,451.87 L414.90,451.88 L415.30,451.89 L415.70,451.90 L416.10,451.91 L416.50,451.92 L416.90,451.93 L417.30,451.94 L417.70,451.95 L418.10,451.96 L418.50,451.96 L418.90,451.97 L419.30,451.98 L419.70,451.99 L420.10,452.00 L420.50,452.01 L420.90,452.01 L421.30,452.02 L421.70,452.03 L422.10,452.04 L422.50,452.05 L422.90,452.05 L423.30,452.06 L423.70,452.07 L424.10,452.07 L424.50,452.08 L424.90,452.09 L425.30,452.09 L425.70,452.10 L426.10,452.11 L426.50,452.11 L426.90,452.12 L427.30,452.13 L427.70,452.13 L428.10,452.14 L428.50,452.14 L428.90,452.15 L429.30,452.16 L429.70,452.16 L430.10,452.17 L430.50,452.17 L430.90,452.18 L431.30,452.18 L431.70,452.19 L432.10,452.19 L432.50,452.20 L432.90,452.20 L433.30,452.21 L433.70,452.21 L434.10,452.22 L434.50,452.22 L434.90,452.22 L435.30,452.23 L435.70,452.23 L436.10,452.24 L436.50,452.24 L436.90,452.24 L437.30,452.25 L437.70,452.25 L438.10,452.25 L438.50,452.26 L438.90,452.26 L439.30,452.26 L439.70,452.27 L440.10,452.27 L440.50,452.27 L440.90,452.28 L441.30,452.28 L441.70,452.28 L442.10,452.29 L442.50,452.29 L442.90,452.29 L443.30,452.29 L443.70,452.30 L444.10,452.30 L444.50,452.30 L444.90,452.30 L445.30,452.30 L445.70,452.31 L446.10,452.31 L446.50,452.31 L446.90,452.31 L447.30,452.31 L447.70,452.32 L448.10,452.32 L448.50,452.32 L448.90,452.32 L449.30,452.32 L449.70,452.32 L450.10,452.33 L450.50,452.33 L450.90,452.33 L451.30,452.33 L451.70,452.33 L452.10,452.33 L452.50,452.33 L452.90,452.33 L453.30,452.34 L453.70,452.34 L454.10,452.34 L454.50,452.34 L454.90,452.34 L455.30,452.34 L455.70,452.34 L456.10,452.34 L456.50,452.34 L456.90,452.34 L457.30,452.34 L457.70,452.34 L458.10,452.34 L458.50,452.35 L458.90,452.35 L459.30,452.35 L459.70,452.35 L460.10,452.35 L460.50,452.35 L460.90,452.35 L461.30,452.35 L461.70,452.35 L462.10,452.35 L462.50,452.35 L462.90,452.35 L463.30,452.35 L463.70,452.35 L464.10,452.35 L464.50,452.35 L464.90,452.35 L465.30,452.35 L465.70,452.35 L466.10,452.35 L466.50,452.35 L466.90,452.35 L466.90,452.10 L362.90,452.10 Z" fill="#8D96BE" stroke="none"/>
<path d="M362.90,452.35 L363.30,452.35 L363.70,452.35 L364.10,452.35 L364.50,452.35 L364.90,452.35 L365.30,452.35 L365.70,452.35 L366.10,452.34 L366.50,452.34 L366.90,452.34 L367.30,452.34 L367.70,452.33 L368.10,452.33 L368.50,452.33 L368.90,452.32 L369.30,452.32 L369.70,452.31 L370.10,452.30 L370.50,452.30 L370.90,452.29 L371.30,452.28 L371.70,452.28 L372.10,452.27 L372.50,452.26 L372.90,452.25 L373.30,452.24 L373.70,452.22 L374.10,452.21 L374.50,452.20 L374.90,452.19 L375.30,452.17 L375.70,452.15 L376.10,452.14 L376.50,452.12 L376.90,452.10 L377.30,452.08 L377.70,452.06 L378.10,452.04 L378.50,452.02 L378.90,452.00 L379.30,451.98 L379.70,451.95 L380.10,451.92 L380.50,451.90 L380.90,451.87 L381.30,451.84 L381.70,451.81 L382.10,451.78 L382.50,451.64 L382.90,451.18 L383.30,450.47 L383.70,449.64 L384.10,448.43 L384.50,446.70 L384.90,444.56 L385.30,441.71 L385.70,438.07 L386.10,433.28 L386.50,426.90 L386.90,419.76 L387.30,411.59 L387.70,403.00 L388.10,393.91 L388.50,384.79 L388.90,375.55 L389.30,367.03 L389.70,359.23 L390.10,355.09 L390.50,353.42 L390.90,355.17 L391.30,359.20 L391.70,362.59 L392.10,363.71 L392.50,368.21 L392.90,375.75 L393.30,385.48 L393.70,394.13 L394.10,402.03 L394.50,409.56 L394.90,416.70 L395.30,422.63 L395.70,427.78 L396.10,432.06 L396.50,435.48 L396.90,438.33 L397.30,440.45 L397.70,442.04 L398.10,443.28 L398.50,444.20 L398.90,445.01 L399.30,445.42 L399.70,445.15 L400.10,444.58 L400.50,444.39 L400.90,444.86 L401.30,445.50 L401.70,446.29 L402.10,446.99 L402.50,447.06 L402.90,446.74 L403.30,446.49 L403.70,446.83 L404.10,447.63 L404.50,447.96 L404.90,447.83 L405.30,447.63 L405.70,447.54 L406.10,447.86 L406.50,448.52 L406.90,449.16 L407.30,449.58 L407.70,449.96 L408.10,450.31 L408.50,450.61 L408.90,450.87 L409.30,451.14 L409.70,451.40 L410.10,451.60 L410.50,451.74 L410.90,451.77 L411.30,451.78 L411.70,451.80 L412.10,451.81 L412.50,451.82 L412.90,451.83 L413.30,451.84 L413.70,451.85 L414.10,451.86 L414.50,451.87 L414.90,451.88 L415.30,451.89 L415.70,451.90 L416.10,451.91 L416.50,451.92 L416.90,451.93 L417.30,451.94 L417.70,451.95 L418.10,451.96 L418.50,451.96 L418.90,451.97 L419.30,451.98 L419.70,451.99 L420.10,452.00 L420.50,452.01 L420.90,452.01 L421.30,452.02 L421.70,452.03 L422.10,452.04 L422.50,452.05 L422.90,452.05 L423.30,452.06 L423.70,452.07 L424.10,452.07 L424.50,452.08 L424.90,452.09 L425.30,452.09 L425.70,452.10 L426.10,452.11 L426.50,452.11 L426.90,452.12 L427.30,452.13 L427.70,452.13 L428.10,452.14 L428.50,452.14 L428.90,452.15 L429.30,452.16 L429.70,452.16 L430.10,452.17 L430.50,452.17 L430.90,452.18 L431.30,452.18 L431.70,452.19 L432.10,452.19 L432.50,452.20 L432.90,452.20 L433.30,452.21 L433.70,452.21 L434.10,452.22 L434.50,452.22 L434.90,452.22 L435.30,452.23 L435.70,452.23 L436.10,452.24 L436.50,452.24 L436.90,452.24 L437.30,452.25 L437.70,452.25 L438.10,452.25 L438.50,452.26 L438.90,452.26 L439.30,452.26 L439.70,452.27 L440.10,452.27 L440.50,452.27 L440.90,452.28 L441.30,452.28 L441.70,452.28 L442.10,452.29 L442.50,452.29 L442.90,452.29 L443.30,452.29 L443.70,452.30 L444.10,452.30 L444.50,452.30 L444.90,452.30 L445.30,452.30 L445.70,452.31 L446.10,452.31 L446.50,452.31 L446.90,452.31 L447.30,452.31 L447.70,452.32 L448.10,452.32 L448.50,452.32 L448.90,452.32 L449.30,452.32 L449.70,452.32 L450.10,452.33 L450.50,452.33 L450.90,452.33 L451.30,452.33 L451.70,452.33 L452.10,452.33 L452.50,452.33 L452.90,452.33 L453.30,452.34 L453.70,452.34 L454.10,452.34 L454.50,452.34 L454.90,452.34 L455.30,452.34 L455.70,452.34 L456.10,452.34 L456.50,452.34 L456.90,452.34 L457.30,452.34 L457.70,452.34 L458.10,452.34 L458.50,452.35 L458.90,452.35 L459.30,452.35 L459.70,452.35 L460.10,452.35 L460.50,452.35 L460.90,452.35 L461.30,452.35 L461.70,452.35 L462.10,452.35 L462.50,452.35 L462.90,452.35 L463.30,452.35 L463.70,452.35 L464.10,452.35 L464.50,452.35 L464.90,452.35 L465.30,452.35 L465.70,452.35 L466.10,452.35 L466.50,452.35 L466.90,452.35" fill="none" stroke="#1F3A75" stroke-width="1.25" stroke-linejoin="round"/>
<path d="M362.90,451.56 L363.30,451.56 L363.70,451.56 L364.10,451.56 L364.50,451.56 L364.90,451.56 L365.30,451.56 L365.70,451.56 L366.10,451.56 L366.50,451.56 L366.90,451.56 L367.30,451.56 L367.70,451.56 L368.10,451.56 L368.50,451.56 L368.90,451.56 L369.30,451.56 L369.70,451.56 L370.10,451.56 L370.50,451.56 L370.90,451.56 L371.30,451.56 L371.70,451.56 L372.10,451.56 L372.50,451.56 L372.90,451.56 L373.30,451.56 L373.70,451.56 L374.10,451.56 L374.50,451.56 L374.90,451.56 L375.30,451.56 L375.70,451.56 L376.10,451.56 L376.50,451.56 L376.90,451.56 L377.30,451.56 L377.70,451.56 L378.10,451.56 L378.50,451.56 L378.90,451.56 L379.30,451.56 L379.70,451.56 L380.10,451.56 L380.50,451.56 L380.90,451.56 L381.30,451.56 L381.70,451.56 L382.10,451.56 L382.50,451.56 L382.90,451.56 L383.30,451.56 L383.70,451.56 L384.10,451.56 L384.50,451.56 L384.90,451.56 L385.30,451.56 L385.70,451.56 L386.10,451.56 L386.50,451.56 L386.90,451.56 L387.30,451.56 L387.70,451.56 L388.10,451.56 L388.50,451.56 L388.90,451.56 L389.30,451.56 L389.70,451.56 L390.10,451.56 L390.50,451.56 L390.90,451.56 L391.30,451.56 L391.70,451.56 L392.10,451.55 L392.50,451.52 L392.90,451.47 L393.30,451.41 L393.70,451.34 L394.10,451.27 L394.50,451.20 L394.90,451.14 L395.30,451.07 L395.70,450.99 L396.10,450.91 L396.50,450.83 L396.90,450.77 L397.30,450.73 L397.70,450.71 L398.10,450.74 L398.50,450.80 L398.90,450.88 L399.30,450.97 L399.70,451.05 L400.10,451.12 L400.50,451.17 L400.90,451.23 L401.30,451.28 L401.70,451.34 L402.10,451.39 L402.50,451.44 L402.90,451.48 L403.30,451.51 L403.70,451.54 L404.10,451.55 L404.50,451.56 L404.90,451.56 L405.30,451.56 L405.70,451.56 L406.10,451.56 L406.50,451.56 L406.90,451.56 L407.30,451.56 L407.70,451.56 L408.10,451.56 L408.50,451.56 L408.90,451.56 L409.30,451.56 L409.70,451.56 L410.10,451.56 L410.50,451.56 L410.90,451.56 L411.30,451.56 L411.70,451.56 L412.10,451.56 L412.50,451.56 L412.90,451.56 L413.30,451.56 L413.70,451.56 L414.10,451.56 L414.50,451.56 L414.90,451.56 L415.30,451.56 L415.70,451.56 L416.10,451.56 L416.50,451.51 L416.90,451.39 L417.30,451.22 L417.70,451.00 L418.10,450.76 L418.50,450.43 L418.90,449.93 L419.30,449.27 L419.70,448.50 L420.10,447.42 L420.50,446.02 L420.90,444.46 L421.30,442.73 L421.70,440.76 L422.10,438.56 L422.50,436.04 L422.90,433.15 L423.30,430.26 L423.70,427.34 L424.10,424.51 L424.50,422.09 L424.90,419.90 L425.30,418.15 L425.70,416.90 L426.10,415.90 L426.50,415.30 L426.90,414.91 L427.30,414.76 L427.70,415.53 L428.10,416.82 L428.50,418.38 L428.90,419.59 L429.30,419.25 L429.70,418.23 L430.10,416.65 L430.50,414.38 L430.90,412.77 L431.30,411.52 L431.70,410.92 L432.10,410.59 L432.50,410.69 L432.90,412.23 L433.30,415.31 L433.70,420.01 L434.10,425.69 L434.50,431.06 L434.90,435.51 L435.30,439.40 L435.70,442.53 L436.10,445.25 L436.50,447.27 L436.90,448.53 L437.30,449.54 L437.70,450.18 L438.10,450.41 L438.50,450.57 L438.90,450.67 L439.30,450.71 L439.70,450.52 L440.10,450.05 L440.50,449.53 L440.90,449.17 L441.30,448.89 L441.70,448.64 L442.10,448.46 L442.50,448.38 L442.90,448.42 L443.30,448.52 L443.70,448.64 L444.10,448.74 L444.50,448.80 L444.90,448.76 L445.30,448.56 L445.70,448.23 L446.10,447.79 L446.50,447.22 L446.90,446.12 L447.30,444.57 L447.70,442.66 L448.10,439.84 L448.50,436.20 L448.90,431.79 L449.30,426.15 L449.70,419.92 L450.10,413.05 L450.50,405.60 L450.90,398.28 L451.30,390.95 L451.70,383.81 L452.10,376.92 L452.50,370.21 L452.90,364.62 L453.30,359.97 L453.70,356.64 L454.10,354.56 L454.50,353.43 L454.90,353.83 L455.30,355.10 L455.70,357.74 L456.10,362.87 L456.50,369.23 L456.90,377.59 L457.30,386.73 L457.70,396.92 L458.10,407.22 L458.50,417.92 L458.90,426.24 L459.30,432.48 L459.70,437.52 L460.10,441.62 L460.50,445.15 L460.90,447.52 L461.30,448.92 L461.70,449.97 L462.10,450.63 L462.50,450.99 L462.90,451.27 L463.30,451.48 L463.70,451.65 L464.10,451.78 L464.50,451.89 L464.90,452.00 L465.30,452.10 L465.70,452.19 L466.10,452.26 L466.50,452.31 L466.90,452.34" fill="none" stroke="#A5123A" stroke-width="1.35" stroke-linejoin="round"/>
<path d="M442.10,451.80 L442.50,451.79 L442.90,451.78 L443.30,451.77 L443.70,451.75 L444.10,451.56 L444.50,451.21 L444.90,450.74 L445.30,450.22 L445.70,449.50 L446.10,448.51 L446.50,447.28 L446.90,445.81 L447.30,443.77 L447.70,441.23 L448.10,438.30 L448.50,434.64 L448.90,430.32 L449.30,425.51 L449.70,419.99 L450.10,413.93 L450.50,407.29 L450.90,400.03 L451.30,392.05 L451.70,383.90 L452.10,377.09 L452.50,371.18 L452.90,366.33 L453.30,362.29 L453.70,360.68 L454.10,359.90 L454.50,359.89 L454.90,361.33 L455.30,363.67 L455.70,368.29 L456.10,374.54 L456.50,383.01 L456.90,392.92 L457.30,403.95 L457.70,415.04 L458.10,424.87 L458.50,433.47 L458.90,440.23 L459.30,445.46 L459.70,448.24 L460.10,450.19 L460.50,451.15 L460.90,451.50 L461.30,451.70" fill="none" stroke="#58A21F" stroke-width="1.3" stroke-dasharray="1.6,1.5"/>
</g>
<rect x="362.4" y="347.2" width="105.30000000000001" height="104.90000000000003" fill="none" stroke="#000" stroke-width="1.15"/>
<path d="M362.4,346.7 V452.70000000000005 H468.2" fill="none" stroke="#000" stroke-width="1.4"/>
<line x1="359.2" x2="362.4" y1="452.10" y2="452.10" stroke="#000" stroke-width="0.9"/>
<text transform="translate(356.40,454.95) scale(0.86,1)" font-size="8.5" text-anchor="end" fill="#000" stroke="#000" stroke-width="0.18">0</text>
<line x1="360.9" x2="362.4" y1="447.09" y2="447.09" stroke="#000" stroke-width="0.5"/>
<line x1="360.9" x2="362.4" y1="442.07" y2="442.07" stroke="#000" stroke-width="0.5"/>
<line x1="360.9" x2="362.4" y1="437.06" y2="437.06" stroke="#000" stroke-width="0.5"/>
<line x1="359.2" x2="362.4" y1="432.04" y2="432.04" stroke="#000" stroke-width="0.9"/>
<text transform="translate(356.40,434.89) scale(0.86,1)" font-size="8.5" text-anchor="end" fill="#000" stroke="#000" stroke-width="0.18">20</text>
<line x1="360.9" x2="362.4" y1="427.03" y2="427.03" stroke="#000" stroke-width="0.5"/>
<line x1="360.9" x2="362.4" y1="422.01" y2="422.01" stroke="#000" stroke-width="0.5"/>
<line x1="360.9" x2="362.4" y1="417.00" y2="417.00" stroke="#000" stroke-width="0.5"/>
<line x1="359.2" x2="362.4" y1="411.98" y2="411.98" stroke="#000" stroke-width="0.9"/>
<text transform="translate(356.40,414.83) scale(0.86,1)" font-size="8.5" text-anchor="end" fill="#000" stroke="#000" stroke-width="0.18">40</text>
<line x1="360.9" x2="362.4" y1="406.97" y2="406.97" stroke="#000" stroke-width="0.5"/>
<line x1="360.9" x2="362.4" y1="401.95" y2="401.95" stroke="#000" stroke-width="0.5"/>
<line x1="360.9" x2="362.4" y1="396.94" y2="396.94" stroke="#000" stroke-width="0.5"/>
<line x1="359.2" x2="362.4" y1="391.92" y2="391.92" stroke="#000" stroke-width="0.9"/>
<text transform="translate(356.40,394.77) scale(0.86,1)" font-size="8.5" text-anchor="end" fill="#000" stroke="#000" stroke-width="0.18">60</text>
<line x1="360.9" x2="362.4" y1="386.91" y2="386.91" stroke="#000" stroke-width="0.5"/>
<line x1="360.9" x2="362.4" y1="381.89" y2="381.89" stroke="#000" stroke-width="0.5"/>
<line x1="360.9" x2="362.4" y1="376.88" y2="376.88" stroke="#000" stroke-width="0.5"/>
<line x1="359.2" x2="362.4" y1="371.86" y2="371.86" stroke="#000" stroke-width="0.9"/>
<text transform="translate(356.40,374.71) scale(0.86,1)" font-size="8.5" text-anchor="end" fill="#000" stroke="#000" stroke-width="0.18">80</text>
<line x1="360.9" x2="362.4" y1="366.85" y2="366.85" stroke="#000" stroke-width="0.5"/>
<line x1="360.9" x2="362.4" y1="361.83" y2="361.83" stroke="#000" stroke-width="0.5"/>
<line x1="360.9" x2="362.4" y1="356.81" y2="356.81" stroke="#000" stroke-width="0.5"/>
<line x1="359.2" x2="362.4" y1="351.80" y2="351.80" stroke="#000" stroke-width="0.9"/>
<text transform="translate(356.40,354.65) scale(0.86,1)" font-size="8.5" text-anchor="end" fill="#000" stroke="#000" stroke-width="0.18">100</text>
<line x1="385.60" x2="385.60" y1="452.1" y2="455.6" stroke="#000" stroke-width="1.0"/>
<line x1="404.90" x2="404.90" y1="452.1" y2="455.6" stroke="#000" stroke-width="1.0"/>
<line x1="433.50" x2="433.50" y1="452.1" y2="455.6" stroke="#000" stroke-width="1.0"/>
<line x1="457.40" x2="457.40" y1="452.1" y2="455.6" stroke="#000" stroke-width="1.0"/>
<line x1="366.30" x2="366.30" y1="452.1" y2="455.6" stroke="#000" stroke-width="1.0"/>
<line x1="389.19" x2="389.19" y1="452.1" y2="454.40000000000003" stroke="#000" stroke-width="0.75"/>
<line x1="382.01" x2="382.01" y1="452.1" y2="454.40000000000003" stroke="#000" stroke-width="0.75"/>
<line x1="392.35" x2="392.35" y1="452.1" y2="454.40000000000003" stroke="#000" stroke-width="0.75"/>
<line x1="378.85" x2="378.85" y1="452.1" y2="454.40000000000003" stroke="#000" stroke-width="0.75"/>
<line x1="394.96" x2="394.96" y1="452.1" y2="454.40000000000003" stroke="#000" stroke-width="0.75"/>
<line x1="376.24" x2="376.24" y1="452.1" y2="454.40000000000003" stroke="#000" stroke-width="0.75"/>
<line x1="397.11" x2="397.11" y1="452.1" y2="454.40000000000003" stroke="#000" stroke-width="0.75"/>
<line x1="374.09" x2="374.09" y1="452.1" y2="454.40000000000003" stroke="#000" stroke-width="0.75"/>
<line x1="398.90" x2="398.90" y1="452.1" y2="454.40000000000003" stroke="#000" stroke-width="0.75"/>
<line x1="372.30" x2="372.30" y1="452.1" y2="454.40000000000003" stroke="#000" stroke-width="0.75"/>
<line x1="400.43" x2="400.43" y1="452.1" y2="454.40000000000003" stroke="#000" stroke-width="0.75"/>
<line x1="370.77" x2="370.77" y1="452.1" y2="454.40000000000003" stroke="#000" stroke-width="0.75"/>
<line x1="401.75" x2="401.75" y1="452.1" y2="454.40000000000003" stroke="#000" stroke-width="0.75"/>
<line x1="369.45" x2="369.45" y1="452.1" y2="454.40000000000003" stroke="#000" stroke-width="0.75"/>
<line x1="402.92" x2="402.92" y1="452.1" y2="454.40000000000003" stroke="#000" stroke-width="0.75"/>
<line x1="368.28" x2="368.28" y1="452.1" y2="454.40000000000003" stroke="#000" stroke-width="0.75"/>
<line x1="403.96" x2="403.96" y1="452.1" y2="454.40000000000003" stroke="#000" stroke-width="0.75"/>
<line x1="367.24" x2="367.24" y1="452.1" y2="454.40000000000003" stroke="#000" stroke-width="0.75"/>
<line x1="413.51" x2="413.51" y1="452.1" y2="454.40000000000003" stroke="#000" stroke-width="0.75"/>
<line x1="440.69" x2="440.69" y1="452.1" y2="454.40000000000003" stroke="#000" stroke-width="0.75"/>
<line x1="464.59" x2="464.59" y1="452.1" y2="454.40000000000003" stroke="#000" stroke-width="0.75"/>
<line x1="418.55" x2="418.55" y1="452.1" y2="454.40000000000003" stroke="#000" stroke-width="0.75"/>
<line x1="444.90" x2="444.90" y1="452.1" y2="454.40000000000003" stroke="#000" stroke-width="0.75"/>
<line x1="422.12" x2="422.12" y1="452.1" y2="454.40000000000003" stroke="#000" stroke-width="0.75"/>
<line x1="447.89" x2="447.89" y1="452.1" y2="454.40000000000003" stroke="#000" stroke-width="0.75"/>
<line x1="424.89" x2="424.89" y1="452.1" y2="454.40000000000003" stroke="#000" stroke-width="0.75"/>
<line x1="450.21" x2="450.21" y1="452.1" y2="454.40000000000003" stroke="#000" stroke-width="0.75"/>
<line x1="427.16" x2="427.16" y1="452.1" y2="454.40000000000003" stroke="#000" stroke-width="0.75"/>
<line x1="452.10" x2="452.10" y1="452.1" y2="454.40000000000003" stroke="#000" stroke-width="0.75"/>
<line x1="429.07" x2="429.07" y1="452.1" y2="454.40000000000003" stroke="#000" stroke-width="0.75"/>
<line x1="453.70" x2="453.70" y1="452.1" y2="454.40000000000003" stroke="#000" stroke-width="0.75"/>
<line x1="430.73" x2="430.73" y1="452.1" y2="454.40000000000003" stroke="#000" stroke-width="0.75"/>
<line x1="455.08" x2="455.08" y1="452.1" y2="454.40000000000003" stroke="#000" stroke-width="0.75"/>
<line x1="432.19" x2="432.19" y1="452.1" y2="454.40000000000003" stroke="#000" stroke-width="0.75"/>
<line x1="456.31" x2="456.31" y1="452.1" y2="454.40000000000003" stroke="#000" stroke-width="0.75"/>
<text transform="translate(385.60,464.90) scale(0.86,1)" font-size="8.5" text-anchor="middle" fill="#000" stroke="#000" stroke-width="0.18">0</text>
<text transform="translate(403.70,464.90) scale(0.86,1)" font-size="8.5" text-anchor="middle" fill="#000" stroke="#000" stroke-width="0.18">10</text>
<text transform="translate(408.20,461.30) scale(0.9,1)" font-size="5.2" text-anchor="start" fill="#000" stroke="#000" stroke-width="0.18">3</text>
<text transform="translate(432.30,464.90) scale(0.86,1)" font-size="8.5" text-anchor="middle" fill="#000" stroke="#000" stroke-width="0.18">10</text>
<text transform="translate(436.80,461.30) scale(0.9,1)" font-size="5.2" text-anchor="start" fill="#000" stroke="#000" stroke-width="0.18">4</text>
<text transform="translate(456.20,464.90) scale(0.86,1)" font-size="8.5" text-anchor="middle" fill="#000" stroke="#000" stroke-width="0.18">10</text>
<text transform="translate(460.70,461.30) scale(0.9,1)" font-size="5.2" text-anchor="start" fill="#000" stroke="#000" stroke-width="0.18">5</text>
<text transform="translate(414.90,340.60) scale(0.8512,1)" font-size="9.6" text-anchor="middle" fill="#000" stroke="#000" stroke-width="0.18">TEMRA</text>
<path d="M443.6,407.9 H462.1 M443.6,405.09999999999997 V410.7 M462.1,405.09999999999997 V410.7" stroke="#3a3a3a" stroke-width="1" fill="none"/>
<text transform="translate(451.90,405.10) scale(0.7676,1)" font-size="8.3" text-anchor="middle" fill="#222" stroke="#222" stroke-width="0.18">56.2</text>
<line x1="348.1" x2="359.8" y1="44.2" y2="44.2" stroke="#1F3A75" stroke-width="1.35"/>
<text transform="translate(363.10,46.80) scale(0.7943,1)" font-size="8.5" text-anchor="start" fill="#000" stroke="#000" stroke-width="0.18">FMO</text>
<line x1="348.1" x2="359.8" y1="55.5" y2="55.5" stroke="#A5123A" stroke-width="1.35"/>
<text transform="translate(363.10,58.10) scale(0.6925,1)" font-size="8.5" text-anchor="start" fill="#000" stroke="#000" stroke-width="0.18">P1</text>
<line x1="348.1" x2="359.8" y1="66.9" y2="66.9" stroke="#58A21F" stroke-width="1.35" stroke-dasharray="1.6,1.5"/>
<text transform="translate(363.10,69.50) scale(0.782,1)" font-size="8.5" text-anchor="start" fill="#000" stroke="#000" stroke-width="0.18">HC</text>
<rect x="60.30" y="635.96" width="4.6" height="5.54" fill="#A20A2A"/>
<rect x="64.90" y="640.49" width="4.6" height="1.01" fill="#2B4A7F"/>
<rect x="69.50" y="630.66" width="4.6" height="10.84" fill="#C6C5CB"/>
<path d="M71.80,630.66 V628.40" stroke="#222" stroke-width="0.9" fill="none"/>
<path d="M70.45,628.80 H73.15" stroke="#111" stroke-width="1.4" fill="none"/>
<line x1="67.20" x2="67.20" y1="641.5" y2="645.1" stroke="#000" stroke-width="1.1"/>
<text transform="translate(67.20,655.50) scale(0.8,1)" font-size="9.3" text-anchor="middle" fill="#000" stroke="#000" stroke-width="0.18">1</text>
<rect x="83.83" y="639.99" width="4.6" height="1.51" fill="#2B4A7F"/>
<rect x="88.43" y="628.40" width="4.6" height="13.10" fill="#C6C5CB"/>
<path d="M90.73,628.40 V625.12" stroke="#222" stroke-width="0.9" fill="none"/>
<path d="M89.38,625.52 H92.08" stroke="#111" stroke-width="1.4" fill="none"/>
<line x1="86.13" x2="86.13" y1="641.5" y2="645.1" stroke="#000" stroke-width="1.1"/>
<text transform="translate(86.13,655.50) scale(0.8,1)" font-size="9.3" text-anchor="middle" fill="#000" stroke="#000" stroke-width="0.18">2</text>
<rect x="107.37" y="626.13" width="4.6" height="15.37" fill="#C6C5CB"/>
<path d="M109.67,626.13 V612.02" stroke="#222" stroke-width="0.9" fill="none"/>
<path d="M108.32,612.42 H111.02" stroke="#111" stroke-width="1.4" fill="none"/>
<line x1="105.07" x2="105.07" y1="641.5" y2="645.1" stroke="#000" stroke-width="1.1"/>
<text transform="translate(105.07,655.50) scale(0.8,1)" font-size="9.3" text-anchor="middle" fill="#000" stroke="#000" stroke-width="0.18">3</text>
<rect x="126.30" y="636.96" width="4.6" height="4.54" fill="#C6C5CB"/>
<path d="M128.60,636.96 V635.45" stroke="#222" stroke-width="0.9" fill="none"/>
<path d="M127.25,635.85 H129.95" stroke="#111" stroke-width="1.4" fill="none"/>
<line x1="124.00" x2="124.00" y1="641.5" y2="645.1" stroke="#000" stroke-width="1.1"/>
<text transform="translate(124.00,655.50) scale(0.8,1)" font-size="9.3" text-anchor="middle" fill="#000" stroke="#000" stroke-width="0.18">4</text>
<rect x="136.03" y="638.48" width="4.6" height="3.02" fill="#A20A2A"/>
<rect x="140.63" y="633.18" width="4.6" height="8.32" fill="#2B4A7F"/>
<rect x="145.23" y="630.66" width="4.6" height="10.84" fill="#C6C5CB"/>
<path d="M147.53,630.66 V628.40" stroke="#222" stroke-width="0.9" fill="none"/>
<path d="M146.18,628.80 H148.88" stroke="#111" stroke-width="1.4" fill="none"/>
<line x1="142.93" x2="142.93" y1="641.5" y2="645.1" stroke="#000" stroke-width="1.1"/>
<text transform="translate(142.93,655.50) scale(0.8,1)" font-size="9.3" text-anchor="middle" fill="#000" stroke="#000" stroke-width="0.18">5.1</text>
<rect x="164.17" y="639.36" width="4.6" height="2.14" fill="#C6C5CB"/>
<path d="M166.47,639.36 V638.48" stroke="#222" stroke-width="0.9" fill="none"/>
<path d="M165.12,638.88 H167.82" stroke="#111" stroke-width="1.4" fill="none"/>
<line x1="161.87" x2="161.87" y1="641.5" y2="645.1" stroke="#000" stroke-width="1.1"/>
<text transform="translate(161.87,655.50) scale(0.8,1)" font-size="9.3" text-anchor="middle" fill="#000" stroke="#000" stroke-width="0.18">5.2</text>
<rect x="173.90" y="639.74" width="4.6" height="1.76" fill="#A20A2A"/>
<rect x="183.10" y="638.98" width="4.6" height="2.52" fill="#C6C5CB"/>
<path d="M185.40,638.98 V638.22" stroke="#222" stroke-width="0.9" fill="none"/>
<path d="M184.05,638.62 H186.75" stroke="#111" stroke-width="1.4" fill="none"/>
<line x1="180.80" x2="180.80" y1="641.5" y2="645.1" stroke="#000" stroke-width="1.1"/>
<text transform="translate(180.80,655.50) scale(0.8,1)" font-size="9.3" text-anchor="middle" fill="#000" stroke="#000" stroke-width="0.18">5.3</text>
<rect x="192.83" y="634.95" width="4.6" height="6.55" fill="#A20A2A"/>
<rect x="197.43" y="638.73" width="4.6" height="2.77" fill="#2B4A7F"/>
<rect x="202.03" y="630.66" width="4.6" height="10.84" fill="#C6C5CB"/>
<path d="M204.33,630.66 V628.40" stroke="#222" stroke-width="0.9" fill="none"/>
<path d="M202.98,628.80 H205.68" stroke="#111" stroke-width="1.4" fill="none"/>
<line x1="199.73" x2="199.73" y1="641.5" y2="645.1" stroke="#000" stroke-width="1.1"/>
<text transform="translate(199.73,655.50) scale(0.8,1)" font-size="9.3" text-anchor="middle" fill="#000" stroke="#000" stroke-width="0.18">7.1</text>
<rect x="220.96" y="636.96" width="4.6" height="4.54" fill="#C6C5CB"/>
<path d="M223.26,636.96 V634.19" stroke="#222" stroke-width="0.9" fill="none"/>
<path d="M221.91,634.59 H224.61" stroke="#111" stroke-width="1.4" fill="none"/>
<line x1="218.66" x2="218.66" y1="641.5" y2="645.1" stroke="#000" stroke-width="1.1"/>
<text transform="translate(218.66,655.50) scale(0.8,1)" font-size="9.3" text-anchor="middle" fill="#000" stroke="#000" stroke-width="0.18">7.2</text>
<rect x="230.70" y="631.92" width="4.6" height="9.58" fill="#A20A2A"/>
<rect x="235.30" y="638.22" width="4.6" height="3.28" fill="#2B4A7F"/>
<rect x="239.90" y="627.39" width="4.6" height="14.11" fill="#C6C5CB"/>
<path d="M242.20,627.39 V624.11" stroke="#222" stroke-width="0.9" fill="none"/>
<path d="M240.85,624.51 H243.55" stroke="#111" stroke-width="1.4" fill="none"/>
<line x1="237.60" x2="237.60" y1="641.5" y2="645.1" stroke="#000" stroke-width="1.1"/>
<text transform="translate(237.60,655.50) scale(0.8,1)" font-size="9.3" text-anchor="middle" fill="#000" stroke="#000" stroke-width="0.18">8</text>
<rect x="258.83" y="637.47" width="4.6" height="4.03" fill="#C6C5CB"/>
<path d="M261.13,637.47 V636.21" stroke="#222" stroke-width="0.9" fill="none"/>
<path d="M259.78,636.61 H262.48" stroke="#111" stroke-width="1.4" fill="none"/>
<line x1="256.53" x2="256.53" y1="641.5" y2="645.1" stroke="#000" stroke-width="1.1"/>
<text transform="translate(256.53,655.50) scale(0.8,1)" font-size="9.3" text-anchor="middle" fill="#000" stroke="#000" stroke-width="0.18">9</text>
<rect x="277.76" y="637.22" width="4.6" height="4.28" fill="#C6C5CB"/>
<path d="M280.06,637.22 V634.19" stroke="#222" stroke-width="0.9" fill="none"/>
<path d="M278.71,634.59 H281.41" stroke="#111" stroke-width="1.4" fill="none"/>
<line x1="275.46" x2="275.46" y1="641.5" y2="645.1" stroke="#000" stroke-width="1.1"/>
<text transform="translate(275.46,655.50) scale(0.8,1)" font-size="9.3" text-anchor="middle" fill="#000" stroke="#000" stroke-width="0.18">11</text>
<rect x="296.70" y="638.22" width="4.6" height="3.28" fill="#C6C5CB"/>
<path d="M299.00,638.22 V637.22" stroke="#222" stroke-width="0.9" fill="none"/>
<path d="M297.65,637.62 H300.35" stroke="#111" stroke-width="1.4" fill="none"/>
<line x1="294.40" x2="294.40" y1="641.5" y2="645.1" stroke="#000" stroke-width="1.1"/>
<text transform="translate(294.40,655.50) scale(0.8,1)" font-size="9.3" text-anchor="middle" fill="#000" stroke="#000" stroke-width="0.18">12</text>
<rect x="306.43" y="637.72" width="4.6" height="3.78" fill="#A20A2A"/>
<rect x="311.03" y="524.07" width="4.6" height="117.43" fill="#2B4A7F"/>
<rect x="315.63" y="635.96" width="4.6" height="5.54" fill="#C6C5CB"/>
<path d="M317.93,635.96 V633.44" stroke="#222" stroke-width="0.9" fill="none"/>
<path d="M316.58,633.84 H319.28" stroke="#111" stroke-width="1.4" fill="none"/>
<line x1="313.33" x2="313.33" y1="641.5" y2="645.1" stroke="#000" stroke-width="1.1"/>
<text transform="translate(313.33,655.50) scale(0.8,1)" font-size="9.3" text-anchor="middle" fill="#000" stroke="#000" stroke-width="0.18">13.1</text>
<rect x="329.96" y="638.48" width="4.6" height="3.02" fill="#2B4A7F"/>
<rect x="334.56" y="635.45" width="4.6" height="6.05" fill="#C6C5CB"/>
<path d="M336.86,635.45 V632.93" stroke="#222" stroke-width="0.9" fill="none"/>
<path d="M335.51,633.33 H338.21" stroke="#111" stroke-width="1.4" fill="none"/>
<line x1="332.26" x2="332.26" y1="641.5" y2="645.1" stroke="#000" stroke-width="1.1"/>
<text transform="translate(332.26,655.50) scale(0.8,1)" font-size="9.3" text-anchor="middle" fill="#000" stroke="#000" stroke-width="0.18">13.2</text>
<rect x="344.29" y="639.74" width="4.6" height="1.76" fill="#A20A2A"/>
<rect x="348.89" y="637.47" width="4.6" height="4.03" fill="#2B4A7F"/>
<rect x="353.50" y="638.48" width="4.6" height="3.02" fill="#C6C5CB"/>
<path d="M355.80,638.48 V637.47" stroke="#222" stroke-width="0.9" fill="none"/>
<path d="M354.44,637.87 H357.15" stroke="#111" stroke-width="1.4" fill="none"/>
<line x1="351.19" x2="351.19" y1="641.5" y2="645.1" stroke="#000" stroke-width="1.1"/>
<text transform="translate(351.19,655.50) scale(0.8,1)" font-size="9.3" text-anchor="middle" fill="#000" stroke="#000" stroke-width="0.18">13.6</text>
<rect x="363.23" y="635.20" width="4.6" height="6.30" fill="#A20A2A"/>
<rect x="372.43" y="633.44" width="4.6" height="8.06" fill="#C6C5CB"/>
<path d="M374.73,633.44 V627.64" stroke="#222" stroke-width="0.9" fill="none"/>
<path d="M373.38,628.04 H376.08" stroke="#111" stroke-width="1.4" fill="none"/>
<line x1="370.13" x2="370.13" y1="641.5" y2="645.1" stroke="#000" stroke-width="1.1"/>
<text transform="translate(370.13,655.50) scale(0.8,1)" font-size="9.3" text-anchor="middle" fill="#000" stroke="#000" stroke-width="0.18">14</text>
<rect x="382.16" y="576.23" width="4.6" height="65.27" fill="#A20A2A"/>
<rect x="391.36" y="637.72" width="4.6" height="3.78" fill="#C6C5CB"/>
<path d="M393.66,637.72 V634.19" stroke="#222" stroke-width="0.9" fill="none"/>
<path d="M392.31,634.59 H395.01" stroke="#111" stroke-width="1.4" fill="none"/>
<line x1="389.06" x2="389.06" y1="641.5" y2="645.1" stroke="#000" stroke-width="1.1"/>
<text transform="translate(389.06,655.50) scale(0.8,1)" font-size="9.3" text-anchor="middle" fill="#000" stroke="#000" stroke-width="0.18">16</text>
<rect x="401.09" y="598.91" width="4.6" height="42.59" fill="#A20A2A"/>
<rect x="410.29" y="630.66" width="4.6" height="10.84" fill="#C6C5CB"/>
<path d="M412.59,630.66 V623.61" stroke="#222" stroke-width="0.9" fill="none"/>
<path d="M411.24,624.01 H413.94" stroke="#111" stroke-width="1.4" fill="none"/>
<line x1="407.99" x2="407.99" y1="641.5" y2="645.1" stroke="#000" stroke-width="1.1"/>
<text transform="translate(407.99,655.50) scale(0.8,1)" font-size="9.3" text-anchor="middle" fill="#000" stroke="#000" stroke-width="0.18">17</text>
<rect x="429.23" y="640.74" width="4.6" height="0.76" fill="#C6C5CB"/>
<path d="M431.53,640.74 V638.73" stroke="#222" stroke-width="0.9" fill="none"/>
<path d="M430.18,639.13 H432.88" stroke="#111" stroke-width="1.4" fill="none"/>
<line x1="426.93" x2="426.93" y1="641.5" y2="645.1" stroke="#000" stroke-width="1.1"/>
<text transform="translate(426.93,655.50) scale(0.8,1)" font-size="9.3" text-anchor="middle" fill="#000" stroke="#000" stroke-width="0.18">18</text>
<rect x="448.16" y="636.96" width="4.6" height="4.54" fill="#C6C5CB"/>
<path d="M450.46,636.96 V634.70" stroke="#222" stroke-width="0.9" fill="none"/>
<path d="M449.11,635.10 H451.81" stroke="#111" stroke-width="1.4" fill="none"/>
<line x1="445.86" x2="445.86" y1="641.5" y2="645.1" stroke="#000" stroke-width="1.1"/>
<text transform="translate(445.86,655.50) scale(0.8,1)" font-size="9.3" text-anchor="middle" fill="#000" stroke="#000" stroke-width="0.18">20</text>
<rect x="467.09" y="634.70" width="4.6" height="6.80" fill="#C6C5CB"/>
<path d="M469.39,634.70 V633.44" stroke="#222" stroke-width="0.9" fill="none"/>
<path d="M468.04,633.84 H470.74" stroke="#111" stroke-width="1.4" fill="none"/>
<line x1="464.79" x2="464.79" y1="641.5" y2="645.1" stroke="#000" stroke-width="1.1"/>
<text transform="translate(464.79,655.50) scale(0.8,1)" font-size="9.3" text-anchor="middle" fill="#000" stroke="#000" stroke-width="0.18">21.3</text>
<rect x="486.03" y="628.65" width="4.6" height="12.85" fill="#C6C5CB"/>
<path d="M488.33,628.65 V622.60" stroke="#222" stroke-width="0.9" fill="none"/>
<path d="M486.98,623.00 H489.68" stroke="#111" stroke-width="1.4" fill="none"/>
<line x1="483.73" x2="483.73" y1="641.5" y2="645.1" stroke="#000" stroke-width="1.1"/>
<text transform="translate(483.73,655.50) scale(0.8,1)" font-size="9.3" text-anchor="middle" fill="#000" stroke="#000" stroke-width="0.18">22</text>
<rect x="504.96" y="638.73" width="4.6" height="2.77" fill="#C6C5CB"/>
<path d="M507.26,638.73 V637.72" stroke="#222" stroke-width="0.9" fill="none"/>
<path d="M505.91,638.12 H508.61" stroke="#111" stroke-width="1.4" fill="none"/>
<line x1="502.66" x2="502.66" y1="641.5" y2="645.1" stroke="#000" stroke-width="1.1"/>
<text transform="translate(502.66,655.50) scale(0.8,1)" font-size="9.3" text-anchor="middle" fill="#000" stroke="#000" stroke-width="0.18">23</text>
<path d="M57.8,512.7 V641.5 H513" stroke="#000" stroke-width="1.4" fill="none"/>
<line x1="54.6" x2="57.8" y1="641.50" y2="641.50" stroke="#000" stroke-width="1.1"/>
<text transform="translate(52.30,644.70) scale(0.8,1)" font-size="9.3" text-anchor="end" fill="#000" stroke="#000" stroke-width="0.18">0</text>
<line x1="54.6" x2="57.8" y1="616.30" y2="616.30" stroke="#000" stroke-width="1.1"/>
<text transform="translate(52.30,619.50) scale(0.8,1)" font-size="9.3" text-anchor="end" fill="#000" stroke="#000" stroke-width="0.18">10</text>
<line x1="54.6" x2="57.8" y1="591.10" y2="591.10" stroke="#000" stroke-width="1.1"/>
<text transform="translate(52.30,594.30) scale(0.8,1)" font-size="9.3" text-anchor="end" fill="#000" stroke="#000" stroke-width="0.18">20</text>
<line x1="54.6" x2="57.8" y1="565.90" y2="565.90" stroke="#000" stroke-width="1.1"/>
<text transform="translate(52.30,569.10) scale(0.8,1)" font-size="9.3" text-anchor="end" fill="#000" stroke="#000" stroke-width="0.18">30</text>
<line x1="54.6" x2="57.8" y1="540.70" y2="540.70" stroke="#000" stroke-width="1.1"/>
<text transform="translate(52.30,543.90) scale(0.8,1)" font-size="9.3" text-anchor="end" fill="#000" stroke="#000" stroke-width="0.18">40</text>
<line x1="54.6" x2="57.8" y1="515.50" y2="515.50" stroke="#000" stroke-width="1.1"/>
<text transform="translate(52.30,518.70) scale(0.8,1)" font-size="9.3" text-anchor="end" fill="#000" stroke="#000" stroke-width="0.18">50</text>
<text transform="translate(25.30,577.20) rotate(-90) scale(0.9174,1)" font-size="9.4" text-anchor="middle" fill="#000" stroke="#000" stroke-width="0.18">% Vbeta</text>
<text transform="translate(37.60,577.20) rotate(-90) scale(0.876,1)" font-size="10" text-anchor="middle" fill="#000" stroke="#000" stroke-width="0.18">(of CD3+CD8+ARPC1B+)</text>
<path d="M313.3,508.3 V517.9" stroke="#6e6e6e" stroke-width="1.15" fill="none"/>
<path d="M313.3,520.9 L310.75,515.4 L313.3,516.8 L315.85,515.4 Z" fill="#6e6e6e"/>
<path d="M384.4,556.9 V566.8" stroke="#000" stroke-width="1.15" fill="none"/>
<path d="M384.4,569.8 L381.84999999999997,564.3 L384.4,565.6999999999999 L386.95,564.3 Z" fill="#000"/>
<path d="M403.3,580.3 V589.9" stroke="#000" stroke-width="1.15" fill="none"/>
<path d="M403.3,592.9 L400.75,587.4 L403.3,588.8 L405.85,587.4 Z" fill="#000"/>
<rect x="401.9" y="509" width="13.1" height="7.60" fill="#A20A2A"/>
<text transform="translate(418.20,515.30) scale(0.875,1)" font-size="8.3" text-anchor="start" fill="#000" stroke="#000" stroke-width="0.18">P1</text>
<rect x="401.9" y="524.8" width="13.1" height="7.60" fill="#2B4A7F"/>
<text transform="translate(418.20,531.10) scale(0.875,1)" font-size="8.3" text-anchor="start" fill="#000" stroke="#000" stroke-width="0.18">P6</text>
<rect x="401.9" y="540.2" width="13.1" height="7.70" fill="#C6C5CB"/>
<text transform="translate(418.20,546.55) scale(0.875,1)" font-size="8.3" text-anchor="start" fill="#000" stroke="#000" stroke-width="0.18">Range of healthy controls</text>
</svg>
</body></html>
